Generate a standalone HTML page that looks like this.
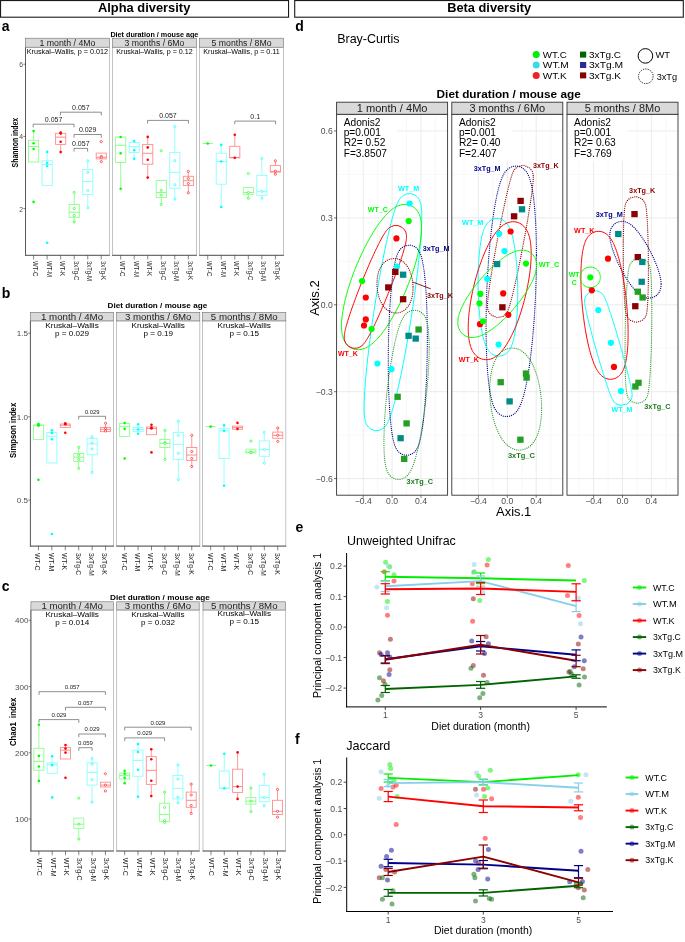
<!DOCTYPE html>
<html><head><meta charset="utf-8"><style>
html,body{margin:0;padding:0;background:#fff;width:685px;height:942px;overflow:hidden}
svg{display:block;font-family:"Liberation Sans", sans-serif;will-change:transform}
</style></head><body>
<svg width="685" height="942" viewBox="0 0 685 942" font-family='"Liberation Sans", sans-serif'><rect x="0.55" y="0.55" width="288" height="16.65" fill="none" stroke="#1a1a1a" stroke-width="1.1"/>
<rect x="294.7" y="0.55" width="388.6" height="16.65" fill="none" stroke="#1a1a1a" stroke-width="1.1"/>
<text x="144.15" y="12" font-size="13.1" text-anchor="middle" font-weight="bold" textLength="92.3" lengthAdjust="spacingAndGlyphs">Alpha diversity</text>
<text x="489.2" y="12" font-size="13.1" text-anchor="middle" font-weight="bold" textLength="84" lengthAdjust="spacingAndGlyphs">Beta diversity</text>
<text x="1.8" y="30.5" font-size="14" font-weight="bold">a</text>
<text x="1.8" y="298" font-size="14" font-weight="bold">b</text>
<text x="1.8" y="590.8" font-size="14" font-weight="bold">c</text>
<text x="295.2" y="30.6" font-size="14" font-weight="bold">d</text>
<text x="295.6" y="532.4" font-size="14" font-weight="bold">e</text>
<text x="295" y="744.1" font-size="14" font-weight="bold">f</text>
<text x="154.4" y="36.8" font-size="7.2" text-anchor="middle" font-weight="bold" textLength="88" lengthAdjust="spacingAndGlyphs">Diet duration / mouse age</text>
<rect x="25.5" y="47.2" width="83.9" height="208.1" fill="#fff" stroke="#b5b5b5" stroke-width="0.8"/>
<line x1="25" y1="255.3" x2="109.8" y2="255.3" stroke="#5a5a5a" stroke-width="1"/>
<line x1="25.5" y1="47.2" x2="25.5" y2="255.8" stroke="#5a5a5a" stroke-width="1"/>
<rect x="25.5" y="38.2" width="83.9" height="9" fill="#d9d9d9" stroke="#707070" stroke-width="0.6"/>
<text x="67.45" y="45.8" font-size="8.5" text-anchor="middle" fill="#1a1a1a" textLength="56.1" lengthAdjust="spacingAndGlyphs">1 month / 4Mo</text>
<text x="67.45" y="53.9" font-size="7" text-anchor="middle" textLength="81.4" lengthAdjust="spacingAndGlyphs">Kruskal–Wallis, p = 0.012</text>
<line x1="33.62" y1="131" x2="33.62" y2="140.3" stroke="#8dff8d" stroke-width="0.9"/>
<rect x="28.54" y="140.3" width="10.15" height="21.7" fill="none" stroke="#8dff8d" stroke-width="0.9"/>
<line x1="28.54" y1="146.5" x2="38.69" y2="146.5" stroke="#7dff7d" stroke-width="0.9"/>
<circle cx="33.62" cy="131" r="1.3" fill="#00ff00"/>
<circle cx="33.62" cy="143.2" r="1.3" fill="#00ff00"/>
<circle cx="33.62" cy="149" r="1.3" fill="#00ff00"/>
<circle cx="33.62" cy="201.9" r="1.3" fill="#00ff00"/>
<line x1="33.62" y1="255.3" x2="33.62" y2="259.5" stroke="#333" stroke-width="0.6"/>
<text x="33.02" y="260.9" font-size="7" fill="#262626" textLength="15.53" lengthAdjust="spacingAndGlyphs" transform="rotate(90 33.02 260.9)">WT-C</text>
<line x1="47.15" y1="151.9" x2="47.15" y2="160.8" stroke="#8dffff" stroke-width="0.9"/>
<rect x="42.08" y="160.8" width="10.15" height="24.6" fill="none" stroke="#8dffff" stroke-width="0.9"/>
<line x1="42.08" y1="164.5" x2="52.23" y2="164.5" stroke="#7dffff" stroke-width="0.9"/>
<circle cx="47.15" cy="151.9" r="1.3" fill="#00ffff"/>
<circle cx="47.15" cy="163" r="1.3" fill="#00ffff"/>
<circle cx="47.15" cy="166" r="1.3" fill="#00ffff"/>
<circle cx="47.15" cy="242.7" r="1.3" fill="#00ffff"/>
<line x1="47.15" y1="255.3" x2="47.15" y2="259.5" stroke="#333" stroke-width="0.6"/>
<text x="46.55" y="260.9" font-size="7" fill="#262626" textLength="16.19" lengthAdjust="spacingAndGlyphs" transform="rotate(90 46.55 260.9)">WT-M</text>
<line x1="60.68" y1="144.4" x2="60.68" y2="152.1" stroke="#ff8d8d" stroke-width="0.9"/>
<rect x="55.61" y="133.3" width="10.15" height="11.1" fill="none" stroke="#ff8d8d" stroke-width="0.9"/>
<line x1="55.61" y1="137.2" x2="65.76" y2="137.2" stroke="#ff7d7d" stroke-width="0.9"/>
<circle cx="60.68" cy="132.6" r="1.3" fill="#ff0000"/>
<circle cx="60.68" cy="133.6" r="1.3" fill="#ff0000"/>
<circle cx="60.68" cy="141.8" r="1.3" fill="#ff0000"/>
<circle cx="60.68" cy="152.1" r="1.3" fill="#ff0000"/>
<line x1="60.68" y1="255.3" x2="60.68" y2="259.5" stroke="#333" stroke-width="0.6"/>
<text x="60.08" y="260.9" font-size="7" fill="#262626" textLength="15.2" lengthAdjust="spacingAndGlyphs" transform="rotate(90 60.08 260.9)">WT-K</text>
<line x1="74.22" y1="192.4" x2="74.22" y2="204.5" stroke="#8dff8d" stroke-width="0.9"/>
<line x1="74.22" y1="217.3" x2="74.22" y2="222" stroke="#8dff8d" stroke-width="0.9"/>
<rect x="69.14" y="204.5" width="10.15" height="12.8" fill="none" stroke="#8dff8d" stroke-width="0.9"/>
<line x1="69.14" y1="212.2" x2="79.29" y2="212.2" stroke="#7dff7d" stroke-width="0.9"/>
<circle cx="74.22" cy="192.4" r="1.1" fill="#fff" stroke="#00ff00" stroke-width="0.6"/>
<circle cx="74.22" cy="208.5" r="1.1" fill="#fff" stroke="#00ff00" stroke-width="0.6"/>
<circle cx="74.22" cy="215.6" r="1.1" fill="#fff" stroke="#00ff00" stroke-width="0.6"/>
<circle cx="74.22" cy="222" r="1.1" fill="#fff" stroke="#00ff00" stroke-width="0.6"/>
<line x1="74.22" y1="255.3" x2="74.22" y2="259.5" stroke="#333" stroke-width="0.6"/>
<text x="73.62" y="260.9" font-size="7" fill="#262626" textLength="19.5" lengthAdjust="spacingAndGlyphs" transform="rotate(90 73.62 260.9)">3xTg-C</text>
<line x1="87.75" y1="160.8" x2="87.75" y2="169.5" stroke="#8dffff" stroke-width="0.9"/>
<line x1="87.75" y1="194.5" x2="87.75" y2="207.7" stroke="#8dffff" stroke-width="0.9"/>
<rect x="82.67" y="169.5" width="10.15" height="25" fill="none" stroke="#8dffff" stroke-width="0.9"/>
<line x1="82.67" y1="181.4" x2="92.82" y2="181.4" stroke="#7dffff" stroke-width="0.9"/>
<circle cx="87.75" cy="160.8" r="1.1" fill="#fff" stroke="#00ffff" stroke-width="0.6"/>
<circle cx="87.75" cy="172.4" r="1.1" fill="#fff" stroke="#00ffff" stroke-width="0.6"/>
<circle cx="87.75" cy="190.5" r="1.1" fill="#fff" stroke="#00ffff" stroke-width="0.6"/>
<circle cx="87.75" cy="207.7" r="1.1" fill="#fff" stroke="#00ffff" stroke-width="0.6"/>
<line x1="87.75" y1="255.3" x2="87.75" y2="259.5" stroke="#333" stroke-width="0.6"/>
<text x="87.15" y="260.9" font-size="7" fill="#262626" textLength="20.16" lengthAdjust="spacingAndGlyphs" transform="rotate(90 87.15 260.9)">3xTg-M</text>
<rect x="96.21" y="153.1" width="10.15" height="5.8" fill="none" stroke="#ff8d8d" stroke-width="0.9"/>
<line x1="96.21" y1="157.3" x2="106.36" y2="157.3" stroke="#ff7d7d" stroke-width="0.9"/>
<circle cx="101.28" cy="141.6" r="1.1" fill="#fff" stroke="#ff0000" stroke-width="0.6"/>
<circle cx="101.28" cy="156.5" r="1.1" fill="#fff" stroke="#ff0000" stroke-width="0.6"/>
<circle cx="101.28" cy="157.6" r="1.1" fill="#fff" stroke="#ff0000" stroke-width="0.6"/>
<circle cx="101.28" cy="161.6" r="1.1" fill="#fff" stroke="#ff0000" stroke-width="0.6"/>
<line x1="101.28" y1="255.3" x2="101.28" y2="259.5" stroke="#333" stroke-width="0.6"/>
<text x="100.68" y="260.9" font-size="7" fill="#262626" textLength="19.18" lengthAdjust="spacingAndGlyphs" transform="rotate(90 100.68 260.9)">3xTg-K</text>
<path d="M33.2 127.4V124.2H74V127.4" stroke="#333" stroke-width="0.55" fill="none"/>
<text x="53.6" y="121.6" font-size="7" text-anchor="middle" fill="#222">0.057</text>
<path d="M60.4 115.4V112.2H101.3V115.4" stroke="#333" stroke-width="0.55" fill="none"/>
<text x="80.85" y="109.6" font-size="7" text-anchor="middle" fill="#222">0.057</text>
<path d="M74 137.7V134.5H101.3V137.7" stroke="#333" stroke-width="0.55" fill="none"/>
<text x="87.65" y="131.9" font-size="7" text-anchor="middle" fill="#222">0.029</text>
<path d="M74 151.6V148.4H87.6V151.6" stroke="#333" stroke-width="0.55" fill="none"/>
<text x="80.8" y="145.8" font-size="7" text-anchor="middle" fill="#222">0.057</text>
<rect x="112.55" y="47.2" width="83.9" height="208.1" fill="#fff" stroke="#b5b5b5" stroke-width="0.8"/>
<line x1="112.05" y1="255.3" x2="196.85" y2="255.3" stroke="#5a5a5a" stroke-width="1"/>
<rect x="112.55" y="38.2" width="83.9" height="9" fill="#d9d9d9" stroke="#707070" stroke-width="0.6"/>
<text x="154.5" y="45.8" font-size="8.5" text-anchor="middle" fill="#1a1a1a" textLength="59.9" lengthAdjust="spacingAndGlyphs">3 months / 6Mo</text>
<text x="154.5" y="53.9" font-size="7" text-anchor="middle" textLength="76.5" lengthAdjust="spacingAndGlyphs">Kruskal–Wallis, p = 0.12</text>
<line x1="120.67" y1="162.5" x2="120.67" y2="188.7" stroke="#8dff8d" stroke-width="0.9"/>
<rect x="115.59" y="137" width="10.15" height="25.5" fill="none" stroke="#8dff8d" stroke-width="0.9"/>
<line x1="115.59" y1="145.3" x2="125.74" y2="145.3" stroke="#7dff7d" stroke-width="0.9"/>
<circle cx="120.67" cy="137" r="1.3" fill="#00ff00"/>
<circle cx="120.67" cy="153.2" r="1.3" fill="#00ff00"/>
<circle cx="120.67" cy="188.7" r="1.3" fill="#00ff00"/>
<line x1="120.67" y1="255.3" x2="120.67" y2="259.5" stroke="#333" stroke-width="0.6"/>
<text x="120.07" y="260.9" font-size="7" fill="#262626" textLength="15.53" lengthAdjust="spacingAndGlyphs" transform="rotate(90 120.07 260.9)">WT-C</text>
<line x1="134.2" y1="141.1" x2="134.2" y2="142.4" stroke="#8dffff" stroke-width="0.9"/>
<line x1="134.2" y1="152.5" x2="134.2" y2="158.7" stroke="#8dffff" stroke-width="0.9"/>
<rect x="129.13" y="142.4" width="10.15" height="10.1" fill="none" stroke="#8dffff" stroke-width="0.9"/>
<line x1="129.13" y1="146.5" x2="139.28" y2="146.5" stroke="#7dffff" stroke-width="0.9"/>
<circle cx="134.2" cy="141.1" r="1.3" fill="#00ffff"/>
<circle cx="134.2" cy="150.3" r="1.3" fill="#00ffff"/>
<circle cx="134.2" cy="158.7" r="1.3" fill="#00ffff"/>
<line x1="134.2" y1="255.3" x2="134.2" y2="259.5" stroke="#333" stroke-width="0.6"/>
<text x="133.6" y="260.9" font-size="7" fill="#262626" textLength="16.19" lengthAdjust="spacingAndGlyphs" transform="rotate(90 133.6 260.9)">WT-M</text>
<line x1="147.73" y1="136.9" x2="147.73" y2="144.4" stroke="#ff8d8d" stroke-width="0.9"/>
<line x1="147.73" y1="164.2" x2="147.73" y2="177.6" stroke="#ff8d8d" stroke-width="0.9"/>
<rect x="142.66" y="144.4" width="10.15" height="19.8" fill="none" stroke="#ff8d8d" stroke-width="0.9"/>
<line x1="142.66" y1="153.3" x2="152.81" y2="153.3" stroke="#ff7d7d" stroke-width="0.9"/>
<circle cx="147.73" cy="136.9" r="1.3" fill="#ff0000"/>
<circle cx="147.73" cy="147.4" r="1.3" fill="#ff0000"/>
<circle cx="147.73" cy="159.8" r="1.3" fill="#ff0000"/>
<circle cx="147.73" cy="177.6" r="1.3" fill="#ff0000"/>
<line x1="147.73" y1="255.3" x2="147.73" y2="259.5" stroke="#333" stroke-width="0.6"/>
<text x="147.13" y="260.9" font-size="7" fill="#262626" textLength="15.2" lengthAdjust="spacingAndGlyphs" transform="rotate(90 147.13 260.9)">WT-K</text>
<line x1="161.27" y1="197.6" x2="161.27" y2="204.5" stroke="#8dff8d" stroke-width="0.9"/>
<rect x="156.19" y="180.5" width="10.15" height="17.1" fill="none" stroke="#8dff8d" stroke-width="0.9"/>
<line x1="156.19" y1="192.5" x2="166.34" y2="192.5" stroke="#7dff7d" stroke-width="0.9"/>
<circle cx="161.27" cy="150.7" r="1.1" fill="#fff" stroke="#00ff00" stroke-width="0.6"/>
<circle cx="161.27" cy="190.4" r="1.1" fill="#fff" stroke="#00ff00" stroke-width="0.6"/>
<circle cx="161.27" cy="195.2" r="1.1" fill="#fff" stroke="#00ff00" stroke-width="0.6"/>
<circle cx="161.27" cy="204.5" r="1.1" fill="#fff" stroke="#00ff00" stroke-width="0.6"/>
<line x1="161.27" y1="255.3" x2="161.27" y2="259.5" stroke="#333" stroke-width="0.6"/>
<text x="160.67" y="260.9" font-size="7" fill="#262626" textLength="19.5" lengthAdjust="spacingAndGlyphs" transform="rotate(90 160.67 260.9)">3xTg-C</text>
<line x1="174.8" y1="126.5" x2="174.8" y2="152.5" stroke="#8dffff" stroke-width="0.9"/>
<line x1="174.8" y1="188.3" x2="174.8" y2="199.1" stroke="#8dffff" stroke-width="0.9"/>
<rect x="169.72" y="152.5" width="10.15" height="35.8" fill="none" stroke="#8dffff" stroke-width="0.9"/>
<line x1="169.72" y1="172.3" x2="179.87" y2="172.3" stroke="#7dffff" stroke-width="0.9"/>
<circle cx="174.8" cy="126.5" r="1.1" fill="#fff" stroke="#00ffff" stroke-width="0.6"/>
<circle cx="174.8" cy="160.7" r="1.1" fill="#fff" stroke="#00ffff" stroke-width="0.6"/>
<circle cx="174.8" cy="184.7" r="1.1" fill="#fff" stroke="#00ffff" stroke-width="0.6"/>
<circle cx="174.8" cy="199.1" r="1.1" fill="#fff" stroke="#00ffff" stroke-width="0.6"/>
<line x1="174.8" y1="255.3" x2="174.8" y2="259.5" stroke="#333" stroke-width="0.6"/>
<text x="174.2" y="260.9" font-size="7" fill="#262626" textLength="20.16" lengthAdjust="spacingAndGlyphs" transform="rotate(90 174.2 260.9)">3xTg-M</text>
<line x1="188.33" y1="171.4" x2="188.33" y2="176.3" stroke="#ff8d8d" stroke-width="0.9"/>
<line x1="188.33" y1="185.6" x2="188.33" y2="192.8" stroke="#ff8d8d" stroke-width="0.9"/>
<rect x="183.26" y="176.3" width="10.15" height="9.3" fill="none" stroke="#ff8d8d" stroke-width="0.9"/>
<line x1="183.26" y1="180.7" x2="193.41" y2="180.7" stroke="#ff7d7d" stroke-width="0.9"/>
<circle cx="188.33" cy="171.4" r="1.1" fill="#fff" stroke="#ff0000" stroke-width="0.6"/>
<circle cx="188.33" cy="178.5" r="1.1" fill="#fff" stroke="#ff0000" stroke-width="0.6"/>
<circle cx="188.33" cy="183.5" r="1.1" fill="#fff" stroke="#ff0000" stroke-width="0.6"/>
<circle cx="188.33" cy="192.8" r="1.1" fill="#fff" stroke="#ff0000" stroke-width="0.6"/>
<line x1="188.33" y1="255.3" x2="188.33" y2="259.5" stroke="#333" stroke-width="0.6"/>
<text x="187.73" y="260.9" font-size="7" fill="#262626" textLength="19.18" lengthAdjust="spacingAndGlyphs" transform="rotate(90 187.73 260.9)">3xTg-K</text>
<path d="M147.6 123.6V120.4H188.4V123.6" stroke="#333" stroke-width="0.55" fill="none"/>
<text x="168" y="117.8" font-size="7" text-anchor="middle" fill="#222">0.057</text>
<rect x="199.6" y="47.2" width="83.9" height="208.1" fill="#fff" stroke="#b5b5b5" stroke-width="0.8"/>
<line x1="199.1" y1="255.3" x2="283.9" y2="255.3" stroke="#5a5a5a" stroke-width="1"/>
<rect x="199.6" y="38.2" width="83.9" height="9" fill="#d9d9d9" stroke="#707070" stroke-width="0.6"/>
<text x="241.55" y="45.8" font-size="8.5" text-anchor="middle" fill="#1a1a1a" textLength="59.9" lengthAdjust="spacingAndGlyphs">5 months / 8Mo</text>
<text x="241.55" y="53.9" font-size="7" text-anchor="middle" textLength="76.5" lengthAdjust="spacingAndGlyphs">Kruskal–Wallis, p = 0.11</text>
<line x1="202.64" y1="143.5" x2="212.79" y2="143.5" stroke="#7dff7d" stroke-width="0.9"/>
<circle cx="207.72" cy="143.5" r="1.3" fill="#00ff00"/>
<line x1="207.72" y1="255.3" x2="207.72" y2="259.5" stroke="#333" stroke-width="0.6"/>
<text x="207.12" y="260.9" font-size="7" fill="#262626" textLength="15.53" lengthAdjust="spacingAndGlyphs" transform="rotate(90 207.12 260.9)">WT-C</text>
<line x1="221.25" y1="144.9" x2="221.25" y2="153.2" stroke="#8dffff" stroke-width="0.9"/>
<line x1="221.25" y1="184.2" x2="221.25" y2="207" stroke="#8dffff" stroke-width="0.9"/>
<rect x="216.18" y="153.2" width="10.15" height="31" fill="none" stroke="#8dffff" stroke-width="0.9"/>
<line x1="216.18" y1="161.5" x2="226.33" y2="161.5" stroke="#7dffff" stroke-width="0.9"/>
<circle cx="221.25" cy="144.9" r="1.3" fill="#00ffff"/>
<circle cx="221.25" cy="161.5" r="1.3" fill="#00ffff"/>
<circle cx="221.25" cy="207" r="1.3" fill="#00ffff"/>
<line x1="221.25" y1="255.3" x2="221.25" y2="259.5" stroke="#333" stroke-width="0.6"/>
<text x="220.65" y="260.9" font-size="7" fill="#262626" textLength="16.19" lengthAdjust="spacingAndGlyphs" transform="rotate(90 220.65 260.9)">WT-M</text>
<line x1="234.78" y1="134.8" x2="234.78" y2="146.3" stroke="#ff8d8d" stroke-width="0.9"/>
<rect x="229.71" y="146.3" width="10.15" height="11.4" fill="none" stroke="#ff8d8d" stroke-width="0.9"/>
<line x1="229.71" y1="157.7" x2="239.86" y2="157.7" stroke="#ff7d7d" stroke-width="0.9"/>
<circle cx="234.78" cy="134.8" r="1.3" fill="#ff0000"/>
<circle cx="234.78" cy="157.7" r="1.3" fill="#ff0000"/>
<line x1="234.78" y1="255.3" x2="234.78" y2="259.5" stroke="#333" stroke-width="0.6"/>
<text x="234.18" y="260.9" font-size="7" fill="#262626" textLength="15.2" lengthAdjust="spacingAndGlyphs" transform="rotate(90 234.18 260.9)">WT-K</text>
<line x1="248.32" y1="194.3" x2="248.32" y2="198.3" stroke="#8dff8d" stroke-width="0.9"/>
<rect x="243.24" y="187.4" width="10.15" height="6.9" fill="none" stroke="#8dff8d" stroke-width="0.9"/>
<line x1="243.24" y1="192.5" x2="253.39" y2="192.5" stroke="#7dff7d" stroke-width="0.9"/>
<circle cx="248.32" cy="173.5" r="1.1" fill="#fff" stroke="#00ff00" stroke-width="0.6"/>
<circle cx="248.32" cy="192.5" r="1.1" fill="#fff" stroke="#00ff00" stroke-width="0.6"/>
<circle cx="248.32" cy="198.3" r="1.1" fill="#fff" stroke="#00ff00" stroke-width="0.6"/>
<line x1="248.32" y1="255.3" x2="248.32" y2="259.5" stroke="#333" stroke-width="0.6"/>
<text x="247.72" y="260.9" font-size="7" fill="#262626" textLength="19.5" lengthAdjust="spacingAndGlyphs" transform="rotate(90 247.72 260.9)">3xTg-C</text>
<line x1="261.85" y1="158.4" x2="261.85" y2="175.3" stroke="#8dffff" stroke-width="0.9"/>
<line x1="261.85" y1="195.3" x2="261.85" y2="198.3" stroke="#8dffff" stroke-width="0.9"/>
<rect x="256.77" y="175.3" width="10.15" height="20" fill="none" stroke="#8dffff" stroke-width="0.9"/>
<line x1="256.77" y1="191.4" x2="266.92" y2="191.4" stroke="#7dffff" stroke-width="0.9"/>
<circle cx="261.85" cy="158.4" r="1.1" fill="#fff" stroke="#00ffff" stroke-width="0.6"/>
<circle cx="261.85" cy="191.4" r="1.1" fill="#fff" stroke="#00ffff" stroke-width="0.6"/>
<circle cx="261.85" cy="198.3" r="1.1" fill="#fff" stroke="#00ffff" stroke-width="0.6"/>
<line x1="261.85" y1="255.3" x2="261.85" y2="259.5" stroke="#333" stroke-width="0.6"/>
<text x="261.25" y="260.9" font-size="7" fill="#262626" textLength="20.16" lengthAdjust="spacingAndGlyphs" transform="rotate(90 261.25 260.9)">3xTg-M</text>
<line x1="275.38" y1="160.8" x2="275.38" y2="165.6" stroke="#ff8d8d" stroke-width="0.9"/>
<line x1="275.38" y1="172.1" x2="275.38" y2="174.6" stroke="#ff8d8d" stroke-width="0.9"/>
<rect x="270.31" y="165.6" width="10.15" height="6.5" fill="none" stroke="#ff8d8d" stroke-width="0.9"/>
<line x1="270.31" y1="171.4" x2="280.46" y2="171.4" stroke="#ff7d7d" stroke-width="0.9"/>
<circle cx="275.38" cy="160.8" r="1.1" fill="#fff" stroke="#ff0000" stroke-width="0.6"/>
<circle cx="275.38" cy="171.2" r="1.1" fill="#fff" stroke="#ff0000" stroke-width="0.6"/>
<circle cx="275.38" cy="174.2" r="1.1" fill="#fff" stroke="#ff0000" stroke-width="0.6"/>
<line x1="275.38" y1="255.3" x2="275.38" y2="259.5" stroke="#333" stroke-width="0.6"/>
<text x="274.78" y="260.9" font-size="7" fill="#262626" textLength="19.18" lengthAdjust="spacingAndGlyphs" transform="rotate(90 274.78 260.9)">3xTg-K</text>
<path d="M234.8 124.3V121.1H275.6V124.3" stroke="#333" stroke-width="0.55" fill="none"/>
<text x="255.2" y="118.5" font-size="7" text-anchor="middle" fill="#222">0.1</text>
<line x1="23.3" y1="208.6" x2="25.5" y2="208.6" stroke="#333" stroke-width="0.6"/>
<text x="23.1" y="211.5" font-size="8.1" text-anchor="end" fill="#4d4d4d" textLength="3.8" lengthAdjust="spacingAndGlyphs">2</text>
<line x1="23.3" y1="136.4" x2="25.5" y2="136.4" stroke="#333" stroke-width="0.6"/>
<text x="23.1" y="139.3" font-size="8.1" text-anchor="end" fill="#4d4d4d" textLength="3.8" lengthAdjust="spacingAndGlyphs">4</text>
<line x1="23.3" y1="64.2" x2="25.5" y2="64.2" stroke="#333" stroke-width="0.6"/>
<text x="23.1" y="67.1" font-size="8.1" text-anchor="end" fill="#4d4d4d" textLength="3.8" lengthAdjust="spacingAndGlyphs">6</text>
<text x="18.2" y="142.6" font-size="8.8" text-anchor="middle" font-weight="bold" textLength="49.6" lengthAdjust="spacingAndGlyphs" transform="rotate(-90 18.2 142.6)">Shannon index</text>
<text x="157.4" y="308.4" font-size="7.6" text-anchor="middle" font-weight="bold" textLength="99.6" lengthAdjust="spacingAndGlyphs">Diet duration / mouse age</text>
<rect x="30.4" y="320.9" width="83.2" height="225.2" fill="#fff" stroke="#b5b5b5" stroke-width="0.8"/>
<line x1="29.9" y1="546.1" x2="114" y2="546.1" stroke="#5a5a5a" stroke-width="1"/>
<line x1="30.4" y1="320.9" x2="30.4" y2="546.6" stroke="#5a5a5a" stroke-width="1"/>
<rect x="30.4" y="312.3" width="83.2" height="8.6" fill="#d9d9d9" stroke="#707070" stroke-width="0.6"/>
<text x="72" y="319.8" font-size="8.9" text-anchor="middle" fill="#1a1a1a" textLength="62.1" lengthAdjust="spacingAndGlyphs">1 month / 4Mo</text>
<text x="72" y="327.9" font-size="7" text-anchor="middle" textLength="53.5" lengthAdjust="spacingAndGlyphs">Kruskal–Wallis</text>
<text x="72" y="336.1" font-size="7" text-anchor="middle" textLength="34" lengthAdjust="spacingAndGlyphs">p = 0.029</text>
<line x1="38.45" y1="424" x2="38.45" y2="425.2" stroke="#8dff8d" stroke-width="0.9"/>
<rect x="33.42" y="425.2" width="10.06" height="14.2" fill="none" stroke="#8dff8d" stroke-width="0.9"/>
<line x1="33.42" y1="425.2" x2="43.48" y2="425.2" stroke="#7dff7d" stroke-width="0.9"/>
<circle cx="38.45" cy="424" r="1.3" fill="#00ff00"/>
<circle cx="38.45" cy="424.8" r="1.3" fill="#00ff00"/>
<circle cx="38.45" cy="425.7" r="1.3" fill="#00ff00"/>
<circle cx="38.45" cy="479.7" r="1.3" fill="#00ff00"/>
<line x1="38.45" y1="546.1" x2="38.45" y2="550.3" stroke="#333" stroke-width="0.6"/>
<text x="35.35" y="552.9" font-size="7.1" fill="#262626" textLength="17.67" lengthAdjust="spacingAndGlyphs" transform="rotate(90 35.35 552.9)">WT-C</text>
<line x1="51.87" y1="430.3" x2="51.87" y2="432.5" stroke="#8dffff" stroke-width="0.9"/>
<rect x="46.84" y="432.5" width="10.06" height="30.5" fill="none" stroke="#8dffff" stroke-width="0.9"/>
<line x1="46.84" y1="436.3" x2="56.9" y2="436.3" stroke="#7dffff" stroke-width="0.9"/>
<circle cx="51.87" cy="430.3" r="1.3" fill="#00ffff"/>
<circle cx="51.87" cy="433.1" r="1.3" fill="#00ffff"/>
<circle cx="51.87" cy="439.2" r="1.3" fill="#00ffff"/>
<circle cx="51.87" cy="534" r="1.3" fill="#00ffff"/>
<line x1="51.87" y1="546.1" x2="51.87" y2="550.3" stroke="#333" stroke-width="0.6"/>
<text x="48.77" y="552.9" font-size="7.1" fill="#262626" textLength="18.42" lengthAdjust="spacingAndGlyphs" transform="rotate(90 48.77 552.9)">WT-M</text>
<line x1="65.29" y1="423.2" x2="65.29" y2="424" stroke="#ff8d8d" stroke-width="0.9"/>
<rect x="60.26" y="424" width="10.06" height="3.4" fill="none" stroke="#ff8d8d" stroke-width="0.9"/>
<line x1="60.26" y1="425.2" x2="70.32" y2="425.2" stroke="#ff7d7d" stroke-width="0.9"/>
<circle cx="65.29" cy="423.2" r="1.3" fill="#ff0000"/>
<circle cx="65.29" cy="424.2" r="1.3" fill="#ff0000"/>
<circle cx="65.29" cy="432.8" r="1.3" fill="#ff0000"/>
<line x1="65.29" y1="546.1" x2="65.29" y2="550.3" stroke="#333" stroke-width="0.6"/>
<text x="62.19" y="552.9" font-size="7.1" fill="#262626" textLength="17.3" lengthAdjust="spacingAndGlyphs" transform="rotate(90 62.19 552.9)">WT-K</text>
<line x1="78.71" y1="447.3" x2="78.71" y2="453.4" stroke="#8dff8d" stroke-width="0.9"/>
<line x1="78.71" y1="461.3" x2="78.71" y2="468.4" stroke="#8dff8d" stroke-width="0.9"/>
<rect x="73.68" y="453.4" width="10.06" height="7.9" fill="none" stroke="#8dff8d" stroke-width="0.9"/>
<line x1="73.68" y1="457.2" x2="83.74" y2="457.2" stroke="#7dff7d" stroke-width="0.9"/>
<circle cx="78.71" cy="447.3" r="1.1" fill="#fff" stroke="#00ff00" stroke-width="0.6"/>
<circle cx="78.71" cy="455.3" r="1.1" fill="#fff" stroke="#00ff00" stroke-width="0.6"/>
<circle cx="78.71" cy="459.5" r="1.1" fill="#fff" stroke="#00ff00" stroke-width="0.6"/>
<circle cx="78.71" cy="468.4" r="1.1" fill="#fff" stroke="#00ff00" stroke-width="0.6"/>
<line x1="78.71" y1="546.1" x2="78.71" y2="550.3" stroke="#333" stroke-width="0.6"/>
<text x="75.61" y="552.9" font-size="7.1" fill="#262626" textLength="22.19" lengthAdjust="spacingAndGlyphs" transform="rotate(90 75.61 552.9)">3xTg-C</text>
<line x1="92.13" y1="436.7" x2="92.13" y2="438.4" stroke="#8dffff" stroke-width="0.9"/>
<line x1="92.13" y1="454.7" x2="92.13" y2="472.5" stroke="#8dffff" stroke-width="0.9"/>
<rect x="87.1" y="438.4" width="10.06" height="16.3" fill="none" stroke="#8dffff" stroke-width="0.9"/>
<line x1="87.1" y1="443.9" x2="97.16" y2="443.9" stroke="#7dffff" stroke-width="0.9"/>
<circle cx="92.13" cy="436.7" r="1.1" fill="#fff" stroke="#00ffff" stroke-width="0.6"/>
<circle cx="92.13" cy="443" r="1.1" fill="#fff" stroke="#00ffff" stroke-width="0.6"/>
<circle cx="92.13" cy="449" r="1.1" fill="#fff" stroke="#00ffff" stroke-width="0.6"/>
<circle cx="92.13" cy="472.5" r="1.1" fill="#fff" stroke="#00ffff" stroke-width="0.6"/>
<line x1="92.13" y1="546.1" x2="92.13" y2="550.3" stroke="#333" stroke-width="0.6"/>
<text x="89.03" y="552.9" font-size="7.1" fill="#262626" textLength="22.94" lengthAdjust="spacingAndGlyphs" transform="rotate(90 89.03 552.9)">3xTg-M</text>
<line x1="105.55" y1="423.2" x2="105.55" y2="427.4" stroke="#ff8d8d" stroke-width="0.9"/>
<rect x="100.52" y="427.4" width="10.06" height="4.2" fill="none" stroke="#ff8d8d" stroke-width="0.9"/>
<line x1="100.52" y1="429.3" x2="110.58" y2="429.3" stroke="#ff7d7d" stroke-width="0.9"/>
<circle cx="105.55" cy="423.2" r="1.1" fill="#fff" stroke="#ff0000" stroke-width="0.6"/>
<circle cx="105.55" cy="428.5" r="1.1" fill="#fff" stroke="#ff0000" stroke-width="0.6"/>
<circle cx="105.55" cy="431" r="1.1" fill="#fff" stroke="#ff0000" stroke-width="0.6"/>
<line x1="105.55" y1="546.1" x2="105.55" y2="550.3" stroke="#333" stroke-width="0.6"/>
<text x="102.45" y="552.9" font-size="7.1" fill="#262626" textLength="21.82" lengthAdjust="spacingAndGlyphs" transform="rotate(90 102.45 552.9)">3xTg-K</text>
<path d="M78.7 419.5V416.3H105.6V419.5" stroke="#333" stroke-width="0.55" fill="none"/>
<text x="92.15" y="413.7" font-size="5.8" text-anchor="middle" fill="#222">0.029</text>
<rect x="116.6" y="320.9" width="83.2" height="225.2" fill="#fff" stroke="#b5b5b5" stroke-width="0.8"/>
<line x1="116.1" y1="546.1" x2="200.2" y2="546.1" stroke="#5a5a5a" stroke-width="1"/>
<rect x="116.6" y="312.3" width="83.2" height="8.6" fill="#d9d9d9" stroke="#707070" stroke-width="0.6"/>
<text x="158.2" y="319.8" font-size="8.9" text-anchor="middle" fill="#1a1a1a" textLength="66.6" lengthAdjust="spacingAndGlyphs">3 months / 6Mo</text>
<text x="158.2" y="327.9" font-size="7" text-anchor="middle" textLength="53.5" lengthAdjust="spacingAndGlyphs">Kruskal–Wallis</text>
<text x="158.2" y="336.1" font-size="7" text-anchor="middle" textLength="29.6" lengthAdjust="spacingAndGlyphs">p = 0.19</text>
<rect x="119.62" y="423.4" width="10.06" height="13" fill="none" stroke="#8dff8d" stroke-width="0.9"/>
<line x1="119.62" y1="426.3" x2="129.68" y2="426.3" stroke="#7dff7d" stroke-width="0.9"/>
<circle cx="124.65" cy="423.1" r="1.3" fill="#00ff00"/>
<circle cx="124.65" cy="428.9" r="1.3" fill="#00ff00"/>
<circle cx="124.65" cy="458.5" r="1.3" fill="#00ff00"/>
<line x1="124.65" y1="546.1" x2="124.65" y2="550.3" stroke="#333" stroke-width="0.6"/>
<text x="121.55" y="552.9" font-size="7.1" fill="#262626" textLength="17.67" lengthAdjust="spacingAndGlyphs" transform="rotate(90 121.55 552.9)">WT-C</text>
<line x1="138.07" y1="424.2" x2="138.07" y2="427.4" stroke="#8dffff" stroke-width="0.9"/>
<line x1="138.07" y1="431.5" x2="138.07" y2="433.8" stroke="#8dffff" stroke-width="0.9"/>
<rect x="133.04" y="427.4" width="10.06" height="4.1" fill="none" stroke="#8dffff" stroke-width="0.9"/>
<line x1="133.04" y1="429.5" x2="143.1" y2="429.5" stroke="#7dffff" stroke-width="0.9"/>
<circle cx="138.07" cy="424.2" r="1.3" fill="#00ffff"/>
<circle cx="138.07" cy="429.5" r="1.3" fill="#00ffff"/>
<circle cx="138.07" cy="433.8" r="1.3" fill="#00ffff"/>
<line x1="138.07" y1="546.1" x2="138.07" y2="550.3" stroke="#333" stroke-width="0.6"/>
<text x="134.97" y="552.9" font-size="7.1" fill="#262626" textLength="18.42" lengthAdjust="spacingAndGlyphs" transform="rotate(90 134.97 552.9)">WT-M</text>
<line x1="151.49" y1="424.7" x2="151.49" y2="427" stroke="#ff8d8d" stroke-width="0.9"/>
<rect x="146.46" y="427" width="10.06" height="7.7" fill="none" stroke="#ff8d8d" stroke-width="0.9"/>
<line x1="146.46" y1="428.5" x2="156.52" y2="428.5" stroke="#ff7d7d" stroke-width="0.9"/>
<circle cx="151.49" cy="424.7" r="1.3" fill="#ff0000"/>
<circle cx="151.49" cy="427.6" r="1.3" fill="#ff0000"/>
<circle cx="151.49" cy="428.5" r="1.3" fill="#ff0000"/>
<circle cx="151.49" cy="452.4" r="1.3" fill="#ff0000"/>
<line x1="151.49" y1="546.1" x2="151.49" y2="550.3" stroke="#333" stroke-width="0.6"/>
<text x="148.39" y="552.9" font-size="7.1" fill="#262626" textLength="17.3" lengthAdjust="spacingAndGlyphs" transform="rotate(90 148.39 552.9)">WT-K</text>
<line x1="164.91" y1="430.4" x2="164.91" y2="439.4" stroke="#8dff8d" stroke-width="0.9"/>
<line x1="164.91" y1="447.5" x2="164.91" y2="459.4" stroke="#8dff8d" stroke-width="0.9"/>
<rect x="159.88" y="439.4" width="10.06" height="8.1" fill="none" stroke="#8dff8d" stroke-width="0.9"/>
<line x1="159.88" y1="443.3" x2="169.94" y2="443.3" stroke="#7dff7d" stroke-width="0.9"/>
<circle cx="164.91" cy="430.4" r="1.1" fill="#fff" stroke="#00ff00" stroke-width="0.6"/>
<circle cx="164.91" cy="442.5" r="1.1" fill="#fff" stroke="#00ff00" stroke-width="0.6"/>
<circle cx="164.91" cy="443.5" r="1.1" fill="#fff" stroke="#00ff00" stroke-width="0.6"/>
<circle cx="164.91" cy="459.4" r="1.1" fill="#fff" stroke="#00ff00" stroke-width="0.6"/>
<line x1="164.91" y1="546.1" x2="164.91" y2="550.3" stroke="#333" stroke-width="0.6"/>
<text x="161.81" y="552.9" font-size="7.1" fill="#262626" textLength="22.19" lengthAdjust="spacingAndGlyphs" transform="rotate(90 161.81 552.9)">3xTg-C</text>
<line x1="178.33" y1="421.2" x2="178.33" y2="432.4" stroke="#8dffff" stroke-width="0.9"/>
<line x1="178.33" y1="459.4" x2="178.33" y2="479.6" stroke="#8dffff" stroke-width="0.9"/>
<rect x="173.3" y="432.4" width="10.06" height="27" fill="none" stroke="#8dffff" stroke-width="0.9"/>
<line x1="173.3" y1="444.3" x2="183.36" y2="444.3" stroke="#7dffff" stroke-width="0.9"/>
<circle cx="178.33" cy="421.2" r="1.1" fill="#fff" stroke="#00ffff" stroke-width="0.6"/>
<circle cx="178.33" cy="435.5" r="1.1" fill="#fff" stroke="#00ffff" stroke-width="0.6"/>
<circle cx="178.33" cy="453.3" r="1.1" fill="#fff" stroke="#00ffff" stroke-width="0.6"/>
<circle cx="178.33" cy="479.6" r="1.1" fill="#fff" stroke="#00ffff" stroke-width="0.6"/>
<line x1="178.33" y1="546.1" x2="178.33" y2="550.3" stroke="#333" stroke-width="0.6"/>
<text x="175.23" y="552.9" font-size="7.1" fill="#262626" textLength="22.94" lengthAdjust="spacingAndGlyphs" transform="rotate(90 175.23 552.9)">3xTg-M</text>
<line x1="191.75" y1="435.3" x2="191.75" y2="447.5" stroke="#ff8d8d" stroke-width="0.9"/>
<line x1="191.75" y1="460.4" x2="191.75" y2="466.5" stroke="#ff8d8d" stroke-width="0.9"/>
<rect x="186.72" y="447.5" width="10.06" height="12.9" fill="none" stroke="#ff8d8d" stroke-width="0.9"/>
<line x1="186.72" y1="455" x2="196.78" y2="455" stroke="#ff7d7d" stroke-width="0.9"/>
<circle cx="191.75" cy="435.3" r="1.1" fill="#fff" stroke="#ff0000" stroke-width="0.6"/>
<circle cx="191.75" cy="451.5" r="1.1" fill="#fff" stroke="#ff0000" stroke-width="0.6"/>
<circle cx="191.75" cy="458.5" r="1.1" fill="#fff" stroke="#ff0000" stroke-width="0.6"/>
<circle cx="191.75" cy="466.5" r="1.1" fill="#fff" stroke="#ff0000" stroke-width="0.6"/>
<line x1="191.75" y1="546.1" x2="191.75" y2="550.3" stroke="#333" stroke-width="0.6"/>
<text x="188.65" y="552.9" font-size="7.1" fill="#262626" textLength="21.82" lengthAdjust="spacingAndGlyphs" transform="rotate(90 188.65 552.9)">3xTg-K</text>
<rect x="202.6" y="320.9" width="83.2" height="225.2" fill="#fff" stroke="#b5b5b5" stroke-width="0.8"/>
<line x1="202.1" y1="546.1" x2="286.2" y2="546.1" stroke="#5a5a5a" stroke-width="1"/>
<rect x="202.6" y="312.3" width="83.2" height="8.6" fill="#d9d9d9" stroke="#707070" stroke-width="0.6"/>
<text x="244.2" y="319.8" font-size="8.9" text-anchor="middle" fill="#1a1a1a" textLength="66.8" lengthAdjust="spacingAndGlyphs">5 months / 8Mo</text>
<text x="244.2" y="327.9" font-size="7" text-anchor="middle" textLength="53.5" lengthAdjust="spacingAndGlyphs">Kruskal–Wallis</text>
<text x="244.2" y="336.1" font-size="7" text-anchor="middle" textLength="29.6" lengthAdjust="spacingAndGlyphs">p = 0.15</text>
<line x1="205.62" y1="426.6" x2="215.68" y2="426.6" stroke="#7dff7d" stroke-width="0.9"/>
<circle cx="210.65" cy="426.6" r="1.3" fill="#00ff00"/>
<line x1="210.65" y1="546.1" x2="210.65" y2="550.3" stroke="#333" stroke-width="0.6"/>
<text x="207.55" y="552.9" font-size="7.1" fill="#262626" textLength="17.67" lengthAdjust="spacingAndGlyphs" transform="rotate(90 207.55 552.9)">WT-C</text>
<line x1="224.07" y1="425.4" x2="224.07" y2="428.3" stroke="#8dffff" stroke-width="0.9"/>
<line x1="224.07" y1="458.5" x2="224.07" y2="485.8" stroke="#8dffff" stroke-width="0.9"/>
<rect x="219.04" y="428.3" width="10.06" height="30.2" fill="none" stroke="#8dffff" stroke-width="0.9"/>
<line x1="219.04" y1="430.8" x2="229.1" y2="430.8" stroke="#7dffff" stroke-width="0.9"/>
<circle cx="224.07" cy="425.4" r="1.3" fill="#00ffff"/>
<circle cx="224.07" cy="430.8" r="1.3" fill="#00ffff"/>
<circle cx="224.07" cy="485.8" r="1.3" fill="#00ffff"/>
<line x1="224.07" y1="546.1" x2="224.07" y2="550.3" stroke="#333" stroke-width="0.6"/>
<text x="220.97" y="552.9" font-size="7.1" fill="#262626" textLength="18.42" lengthAdjust="spacingAndGlyphs" transform="rotate(90 220.97 552.9)">WT-M</text>
<rect x="232.46" y="426.1" width="10.06" height="3.2" fill="none" stroke="#ff8d8d" stroke-width="0.9"/>
<line x1="232.46" y1="427.6" x2="242.52" y2="427.6" stroke="#ff7d7d" stroke-width="0.9"/>
<circle cx="237.49" cy="422.9" r="1.3" fill="#ff0000"/>
<circle cx="237.49" cy="428.9" r="1.3" fill="#ff0000"/>
<line x1="237.49" y1="546.1" x2="237.49" y2="550.3" stroke="#333" stroke-width="0.6"/>
<text x="234.39" y="552.9" font-size="7.1" fill="#262626" textLength="17.3" lengthAdjust="spacingAndGlyphs" transform="rotate(90 234.39 552.9)">WT-K</text>
<rect x="245.88" y="449.2" width="10.06" height="3.7" fill="none" stroke="#8dff8d" stroke-width="0.9"/>
<line x1="245.88" y1="452" x2="255.94" y2="452" stroke="#7dff7d" stroke-width="0.9"/>
<circle cx="250.91" cy="441.1" r="1.1" fill="#fff" stroke="#00ff00" stroke-width="0.6"/>
<circle cx="250.91" cy="452" r="1.1" fill="#fff" stroke="#00ff00" stroke-width="0.6"/>
<circle cx="250.91" cy="452.5" r="1.1" fill="#fff" stroke="#00ff00" stroke-width="0.6"/>
<line x1="250.91" y1="546.1" x2="250.91" y2="550.3" stroke="#333" stroke-width="0.6"/>
<text x="247.81" y="552.9" font-size="7.1" fill="#262626" textLength="22.19" lengthAdjust="spacingAndGlyphs" transform="rotate(90 247.81 552.9)">3xTg-C</text>
<line x1="264.33" y1="432.4" x2="264.33" y2="440.9" stroke="#8dffff" stroke-width="0.9"/>
<line x1="264.33" y1="456.3" x2="264.33" y2="463.2" stroke="#8dffff" stroke-width="0.9"/>
<rect x="259.3" y="440.9" width="10.06" height="15.4" fill="none" stroke="#8dffff" stroke-width="0.9"/>
<line x1="259.3" y1="449.5" x2="269.36" y2="449.5" stroke="#7dffff" stroke-width="0.9"/>
<circle cx="264.33" cy="432.4" r="1.1" fill="#fff" stroke="#00ffff" stroke-width="0.6"/>
<circle cx="264.33" cy="449.5" r="1.1" fill="#fff" stroke="#00ffff" stroke-width="0.6"/>
<circle cx="264.33" cy="463.2" r="1.1" fill="#fff" stroke="#00ffff" stroke-width="0.6"/>
<line x1="264.33" y1="546.1" x2="264.33" y2="550.3" stroke="#333" stroke-width="0.6"/>
<text x="261.23" y="552.9" font-size="7.1" fill="#262626" textLength="22.94" lengthAdjust="spacingAndGlyphs" transform="rotate(90 261.23 552.9)">3xTg-M</text>
<line x1="277.75" y1="428" x2="277.75" y2="432.1" stroke="#ff8d8d" stroke-width="0.9"/>
<rect x="272.72" y="432.1" width="10.06" height="6.2" fill="none" stroke="#ff8d8d" stroke-width="0.9"/>
<line x1="272.72" y1="435.3" x2="282.78" y2="435.3" stroke="#ff7d7d" stroke-width="0.9"/>
<circle cx="277.75" cy="428" r="1.1" fill="#fff" stroke="#ff0000" stroke-width="0.6"/>
<circle cx="277.75" cy="435.3" r="1.1" fill="#fff" stroke="#ff0000" stroke-width="0.6"/>
<circle cx="277.75" cy="441.4" r="1.1" fill="#fff" stroke="#ff0000" stroke-width="0.6"/>
<line x1="277.75" y1="546.1" x2="277.75" y2="550.3" stroke="#333" stroke-width="0.6"/>
<text x="274.65" y="552.9" font-size="7.1" fill="#262626" textLength="21.82" lengthAdjust="spacingAndGlyphs" transform="rotate(90 274.65 552.9)">3xTg-K</text>
<line x1="28.2" y1="500.1" x2="30.4" y2="500.1" stroke="#333" stroke-width="0.6"/>
<text x="28" y="503" font-size="8.1" text-anchor="end" fill="#4d4d4d">0.5</text>
<line x1="28.2" y1="416.8" x2="30.4" y2="416.8" stroke="#333" stroke-width="0.6"/>
<text x="28" y="419.7" font-size="8.1" text-anchor="end" fill="#4d4d4d">1.0</text>
<line x1="28.2" y1="333.2" x2="30.4" y2="333.2" stroke="#333" stroke-width="0.6"/>
<text x="28" y="336.1" font-size="8.1" text-anchor="end" fill="#4d4d4d">1.5</text>
<text x="16" y="430.35" font-size="8.7" text-anchor="middle" font-weight="bold" textLength="55.2" lengthAdjust="spacingAndGlyphs" transform="rotate(-90 16 430.35)">Simpson index</text>
<text x="159.9" y="600" font-size="7.6" text-anchor="middle" font-weight="bold" textLength="99.8" lengthAdjust="spacingAndGlyphs">Diet duration / mouse age</text>
<rect x="30.9" y="610" width="82.5" height="241" fill="#fff" stroke="#b5b5b5" stroke-width="0.8"/>
<line x1="30.4" y1="851" x2="113.8" y2="851" stroke="#5a5a5a" stroke-width="1"/>
<line x1="30.9" y1="610" x2="30.9" y2="851.5" stroke="#5a5a5a" stroke-width="1"/>
<rect x="30.9" y="601.8" width="82.5" height="8.2" fill="#d9d9d9" stroke="#707070" stroke-width="0.6"/>
<text x="72.15" y="609.2" font-size="8.9" text-anchor="middle" fill="#1a1a1a" textLength="61.5" lengthAdjust="spacingAndGlyphs">1 month / 4Mo</text>
<text x="72.15" y="617" font-size="7" text-anchor="middle" textLength="53.5" lengthAdjust="spacingAndGlyphs">Kruskal–Wallis</text>
<text x="72.15" y="625.2" font-size="7" text-anchor="middle" textLength="34" lengthAdjust="spacingAndGlyphs">p = 0.014</text>
<line x1="38.88" y1="724.7" x2="38.88" y2="748.3" stroke="#8dff8d" stroke-width="0.9"/>
<line x1="38.88" y1="770.2" x2="38.88" y2="780.9" stroke="#8dff8d" stroke-width="0.9"/>
<rect x="33.89" y="748.3" width="9.98" height="21.9" fill="none" stroke="#8dff8d" stroke-width="0.9"/>
<line x1="33.89" y1="761.3" x2="43.87" y2="761.3" stroke="#7dff7d" stroke-width="0.9"/>
<circle cx="38.88" cy="724.7" r="1.3" fill="#00ff00"/>
<circle cx="38.88" cy="755.9" r="1.3" fill="#00ff00"/>
<circle cx="38.88" cy="766.5" r="1.3" fill="#00ff00"/>
<circle cx="38.88" cy="780.9" r="1.3" fill="#00ff00"/>
<line x1="38.88" y1="851" x2="38.88" y2="855.2" stroke="#333" stroke-width="0.6"/>
<text x="37.38" y="857.7" font-size="7.2" fill="#262626" textLength="18.19" lengthAdjust="spacingAndGlyphs" transform="rotate(90 37.38 857.7)">WT-C</text>
<line x1="52.19" y1="756.3" x2="52.19" y2="762.9" stroke="#8dffff" stroke-width="0.9"/>
<rect x="47.2" y="762.9" width="9.98" height="10.4" fill="none" stroke="#8dffff" stroke-width="0.9"/>
<line x1="47.2" y1="764.8" x2="57.18" y2="764.8" stroke="#7dffff" stroke-width="0.9"/>
<circle cx="52.19" cy="756.3" r="1.3" fill="#00ffff"/>
<circle cx="52.19" cy="765.1" r="1.3" fill="#00ffff"/>
<circle cx="52.19" cy="797.4" r="1.3" fill="#00ffff"/>
<line x1="52.19" y1="851" x2="52.19" y2="855.2" stroke="#333" stroke-width="0.6"/>
<text x="50.69" y="857.7" font-size="7.2" fill="#262626" textLength="18.97" lengthAdjust="spacingAndGlyphs" transform="rotate(90 50.69 857.7)">WT-M</text>
<line x1="65.5" y1="745.1" x2="65.5" y2="747.4" stroke="#ff8d8d" stroke-width="0.9"/>
<rect x="60.51" y="747.4" width="9.98" height="11.6" fill="none" stroke="#ff8d8d" stroke-width="0.9"/>
<line x1="60.51" y1="750.2" x2="70.49" y2="750.2" stroke="#ff7d7d" stroke-width="0.9"/>
<circle cx="65.5" cy="745.1" r="1.3" fill="#ff0000"/>
<circle cx="65.5" cy="748.6" r="1.3" fill="#ff0000"/>
<circle cx="65.5" cy="752.6" r="1.3" fill="#ff0000"/>
<circle cx="65.5" cy="777.7" r="1.3" fill="#ff0000"/>
<line x1="65.5" y1="851" x2="65.5" y2="855.2" stroke="#333" stroke-width="0.6"/>
<text x="64" y="857.7" font-size="7.2" fill="#262626" textLength="17.81" lengthAdjust="spacingAndGlyphs" transform="rotate(90 64 857.7)">WT-K</text>
<line x1="78.8" y1="828.3" x2="78.8" y2="839.1" stroke="#8dff8d" stroke-width="0.9"/>
<rect x="73.81" y="818.1" width="9.98" height="10.2" fill="none" stroke="#8dff8d" stroke-width="0.9"/>
<line x1="73.81" y1="824.2" x2="83.79" y2="824.2" stroke="#7dff7d" stroke-width="0.9"/>
<circle cx="78.8" cy="798.2" r="1.1" fill="#fff" stroke="#00ff00" stroke-width="0.6"/>
<circle cx="78.8" cy="824.2" r="1.1" fill="#fff" stroke="#00ff00" stroke-width="0.6"/>
<circle cx="78.8" cy="839.1" r="1.1" fill="#fff" stroke="#00ff00" stroke-width="0.6"/>
<line x1="78.8" y1="851" x2="78.8" y2="855.2" stroke="#333" stroke-width="0.6"/>
<text x="77.3" y="857.7" font-size="7.2" fill="#262626" textLength="22.85" lengthAdjust="spacingAndGlyphs" transform="rotate(90 77.3 857.7)">3xTg-C</text>
<line x1="92.11" y1="758.4" x2="92.11" y2="762.9" stroke="#8dffff" stroke-width="0.9"/>
<line x1="92.11" y1="785.1" x2="92.11" y2="802.2" stroke="#8dffff" stroke-width="0.9"/>
<rect x="87.12" y="762.9" width="9.98" height="22.2" fill="none" stroke="#8dffff" stroke-width="0.9"/>
<line x1="87.12" y1="772.4" x2="97.1" y2="772.4" stroke="#7dffff" stroke-width="0.9"/>
<circle cx="92.11" cy="758.4" r="1.1" fill="#fff" stroke="#00ffff" stroke-width="0.6"/>
<circle cx="92.11" cy="764.1" r="1.1" fill="#fff" stroke="#00ffff" stroke-width="0.6"/>
<circle cx="92.11" cy="779.6" r="1.1" fill="#fff" stroke="#00ffff" stroke-width="0.6"/>
<circle cx="92.11" cy="802.2" r="1.1" fill="#fff" stroke="#00ffff" stroke-width="0.6"/>
<line x1="92.11" y1="851" x2="92.11" y2="855.2" stroke="#333" stroke-width="0.6"/>
<text x="90.61" y="857.7" font-size="7.2" fill="#262626" textLength="23.62" lengthAdjust="spacingAndGlyphs" transform="rotate(90 90.61 857.7)">3xTg-M</text>
<rect x="100.43" y="782.2" width="9.98" height="4.8" fill="none" stroke="#ff8d8d" stroke-width="0.9"/>
<line x1="100.43" y1="785.1" x2="110.41" y2="785.1" stroke="#ff7d7d" stroke-width="0.9"/>
<circle cx="105.42" cy="773.7" r="1.1" fill="#fff" stroke="#ff0000" stroke-width="0.6"/>
<circle cx="105.42" cy="785.1" r="1.1" fill="#fff" stroke="#ff0000" stroke-width="0.6"/>
<circle cx="105.42" cy="791" r="1.1" fill="#fff" stroke="#ff0000" stroke-width="0.6"/>
<line x1="105.42" y1="851" x2="105.42" y2="855.2" stroke="#333" stroke-width="0.6"/>
<text x="103.92" y="857.7" font-size="7.2" fill="#262626" textLength="22.46" lengthAdjust="spacingAndGlyphs" transform="rotate(90 103.92 857.7)">3xTg-K</text>
<path d="M39 694.9V691.7H105.4V694.9" stroke="#333" stroke-width="0.55" fill="none"/>
<text x="72.2" y="689.1" font-size="6" text-anchor="middle" fill="#222">0.057</text>
<path d="M65.5 710.5V707.3H105.4V710.5" stroke="#333" stroke-width="0.55" fill="none"/>
<text x="85.45" y="704.7" font-size="6" text-anchor="middle" fill="#222">0.057</text>
<path d="M39 722.8V719.6H78.8V722.8" stroke="#333" stroke-width="0.55" fill="none"/>
<text x="58.9" y="717" font-size="6" text-anchor="middle" fill="#222">0.029</text>
<path d="M78.8 737.2V734H105.4V737.2" stroke="#333" stroke-width="0.55" fill="none"/>
<text x="92.1" y="731.4" font-size="6" text-anchor="middle" fill="#222">0.029</text>
<path d="M78.8 750.9V747.7H92.1V750.9" stroke="#333" stroke-width="0.55" fill="none"/>
<text x="85.45" y="745.1" font-size="6" text-anchor="middle" fill="#222">0.059</text>
<rect x="116.7" y="610" width="82.5" height="241" fill="#fff" stroke="#b5b5b5" stroke-width="0.8"/>
<line x1="116.2" y1="851" x2="199.6" y2="851" stroke="#5a5a5a" stroke-width="1"/>
<rect x="116.7" y="601.8" width="82.5" height="8.2" fill="#d9d9d9" stroke="#707070" stroke-width="0.6"/>
<text x="157.95" y="609.2" font-size="8.9" text-anchor="middle" fill="#1a1a1a" textLength="66.5" lengthAdjust="spacingAndGlyphs">3 months / 6Mo</text>
<text x="157.95" y="617" font-size="7" text-anchor="middle" textLength="53.5" lengthAdjust="spacingAndGlyphs">Kruskal–Wallis</text>
<text x="157.95" y="625.2" font-size="7" text-anchor="middle" textLength="34" lengthAdjust="spacingAndGlyphs">p = 0.032</text>
<line x1="124.68" y1="770.8" x2="124.68" y2="773.1" stroke="#8dff8d" stroke-width="0.9"/>
<line x1="124.68" y1="779" x2="124.68" y2="783.2" stroke="#8dff8d" stroke-width="0.9"/>
<rect x="119.69" y="773.1" width="9.98" height="5.9" fill="none" stroke="#8dff8d" stroke-width="0.9"/>
<line x1="119.69" y1="775.6" x2="129.67" y2="775.6" stroke="#7dff7d" stroke-width="0.9"/>
<circle cx="124.68" cy="770.8" r="1.3" fill="#00ff00"/>
<circle cx="124.68" cy="773.8" r="1.3" fill="#00ff00"/>
<circle cx="124.68" cy="777.7" r="1.3" fill="#00ff00"/>
<circle cx="124.68" cy="783.2" r="1.3" fill="#00ff00"/>
<line x1="124.68" y1="851" x2="124.68" y2="855.2" stroke="#333" stroke-width="0.6"/>
<text x="123.18" y="857.7" font-size="7.2" fill="#262626" textLength="18.19" lengthAdjust="spacingAndGlyphs" transform="rotate(90 123.18 857.7)">WT-C</text>
<line x1="137.99" y1="744.1" x2="137.99" y2="750.1" stroke="#8dffff" stroke-width="0.9"/>
<line x1="137.99" y1="776.3" x2="137.99" y2="796.8" stroke="#8dffff" stroke-width="0.9"/>
<rect x="133" y="750.1" width="9.98" height="26.2" fill="none" stroke="#8dffff" stroke-width="0.9"/>
<line x1="133" y1="760.4" x2="142.98" y2="760.4" stroke="#7dffff" stroke-width="0.9"/>
<circle cx="137.99" cy="744.1" r="1.3" fill="#00ffff"/>
<circle cx="137.99" cy="752" r="1.3" fill="#00ffff"/>
<circle cx="137.99" cy="769.8" r="1.3" fill="#00ffff"/>
<circle cx="137.99" cy="796.8" r="1.3" fill="#00ffff"/>
<line x1="137.99" y1="851" x2="137.99" y2="855.2" stroke="#333" stroke-width="0.6"/>
<text x="136.49" y="857.7" font-size="7.2" fill="#262626" textLength="18.97" lengthAdjust="spacingAndGlyphs" transform="rotate(90 136.49 857.7)">WT-M</text>
<line x1="151.3" y1="749.2" x2="151.3" y2="756.6" stroke="#ff8d8d" stroke-width="0.9"/>
<line x1="151.3" y1="784.4" x2="151.3" y2="796.1" stroke="#ff8d8d" stroke-width="0.9"/>
<rect x="146.31" y="756.6" width="9.98" height="27.8" fill="none" stroke="#ff8d8d" stroke-width="0.9"/>
<line x1="146.31" y1="770.3" x2="156.29" y2="770.3" stroke="#ff7d7d" stroke-width="0.9"/>
<circle cx="151.3" cy="749.2" r="1.3" fill="#ff0000"/>
<circle cx="151.3" cy="759.2" r="1.3" fill="#ff0000"/>
<circle cx="151.3" cy="780.8" r="1.3" fill="#ff0000"/>
<circle cx="151.3" cy="796.1" r="1.3" fill="#ff0000"/>
<line x1="151.3" y1="851" x2="151.3" y2="855.2" stroke="#333" stroke-width="0.6"/>
<text x="149.8" y="857.7" font-size="7.2" fill="#262626" textLength="17.81" lengthAdjust="spacingAndGlyphs" transform="rotate(90 149.8 857.7)">WT-K</text>
<line x1="164.6" y1="792.1" x2="164.6" y2="803.2" stroke="#8dff8d" stroke-width="0.9"/>
<rect x="159.61" y="803.2" width="9.98" height="18.2" fill="none" stroke="#8dff8d" stroke-width="0.9"/>
<line x1="159.61" y1="814.5" x2="169.59" y2="814.5" stroke="#7dff7d" stroke-width="0.9"/>
<circle cx="164.6" cy="792.1" r="1.1" fill="#fff" stroke="#00ff00" stroke-width="0.6"/>
<circle cx="164.6" cy="807.4" r="1.1" fill="#fff" stroke="#00ff00" stroke-width="0.6"/>
<circle cx="164.6" cy="820.4" r="1.1" fill="#fff" stroke="#00ff00" stroke-width="0.6"/>
<circle cx="164.6" cy="822.5" r="1.1" fill="#fff" stroke="#00ff00" stroke-width="0.6"/>
<line x1="164.6" y1="851" x2="164.6" y2="855.2" stroke="#333" stroke-width="0.6"/>
<text x="163.1" y="857.7" font-size="7.2" fill="#262626" textLength="22.85" lengthAdjust="spacingAndGlyphs" transform="rotate(90 163.1 857.7)">3xTg-C</text>
<line x1="177.91" y1="764.8" x2="177.91" y2="775.4" stroke="#8dffff" stroke-width="0.9"/>
<line x1="177.91" y1="798.9" x2="177.91" y2="802.8" stroke="#8dffff" stroke-width="0.9"/>
<rect x="172.92" y="775.4" width="9.98" height="23.5" fill="none" stroke="#8dffff" stroke-width="0.9"/>
<line x1="172.92" y1="788.3" x2="182.9" y2="788.3" stroke="#7dffff" stroke-width="0.9"/>
<circle cx="177.91" cy="764.8" r="1.1" fill="#fff" stroke="#00ffff" stroke-width="0.6"/>
<circle cx="177.91" cy="779.1" r="1.1" fill="#fff" stroke="#00ffff" stroke-width="0.6"/>
<circle cx="177.91" cy="797.2" r="1.1" fill="#fff" stroke="#00ffff" stroke-width="0.6"/>
<circle cx="177.91" cy="802.8" r="1.1" fill="#fff" stroke="#00ffff" stroke-width="0.6"/>
<line x1="177.91" y1="851" x2="177.91" y2="855.2" stroke="#333" stroke-width="0.6"/>
<text x="176.41" y="857.7" font-size="7.2" fill="#262626" textLength="23.62" lengthAdjust="spacingAndGlyphs" transform="rotate(90 176.41 857.7)">3xTg-M</text>
<line x1="191.22" y1="784.1" x2="191.22" y2="792.1" stroke="#ff8d8d" stroke-width="0.9"/>
<line x1="191.22" y1="807.3" x2="191.22" y2="813.4" stroke="#ff8d8d" stroke-width="0.9"/>
<rect x="186.23" y="792.1" width="9.98" height="15.2" fill="none" stroke="#ff8d8d" stroke-width="0.9"/>
<line x1="186.23" y1="800.3" x2="196.21" y2="800.3" stroke="#ff7d7d" stroke-width="0.9"/>
<circle cx="191.22" cy="784.1" r="1.1" fill="#fff" stroke="#ff0000" stroke-width="0.6"/>
<circle cx="191.22" cy="794.9" r="1.1" fill="#fff" stroke="#ff0000" stroke-width="0.6"/>
<circle cx="191.22" cy="805.5" r="1.1" fill="#fff" stroke="#ff0000" stroke-width="0.6"/>
<circle cx="191.22" cy="813.4" r="1.1" fill="#fff" stroke="#ff0000" stroke-width="0.6"/>
<line x1="191.22" y1="851" x2="191.22" y2="855.2" stroke="#333" stroke-width="0.6"/>
<text x="189.72" y="857.7" font-size="7.2" fill="#262626" textLength="22.46" lengthAdjust="spacingAndGlyphs" transform="rotate(90 189.72 857.7)">3xTg-K</text>
<path d="M124.7 730.4V727.2H191.2V730.4" stroke="#333" stroke-width="0.55" fill="none"/>
<text x="157.95" y="724.6" font-size="6" text-anchor="middle" fill="#222">0.029</text>
<path d="M124.7 741.1V737.9H164.6V741.1" stroke="#333" stroke-width="0.55" fill="none"/>
<text x="144.65" y="735.3" font-size="6" text-anchor="middle" fill="#222">0.029</text>
<rect x="203" y="610" width="82.5" height="241" fill="#fff" stroke="#b5b5b5" stroke-width="0.8"/>
<line x1="202.5" y1="851" x2="285.9" y2="851" stroke="#5a5a5a" stroke-width="1"/>
<rect x="203" y="601.8" width="82.5" height="8.2" fill="#d9d9d9" stroke="#707070" stroke-width="0.6"/>
<text x="244.25" y="609.2" font-size="8.9" text-anchor="middle" fill="#1a1a1a" textLength="66.5" lengthAdjust="spacingAndGlyphs">5 months / 8Mo</text>
<text x="244.25" y="615.8" font-size="7" text-anchor="middle" textLength="53.5" lengthAdjust="spacingAndGlyphs">Kruskal–Wallis</text>
<text x="244.25" y="623.6" font-size="7" text-anchor="middle" textLength="29.6" lengthAdjust="spacingAndGlyphs">p = 0.15</text>
<line x1="205.99" y1="765.5" x2="215.97" y2="765.5" stroke="#7dff7d" stroke-width="0.9"/>
<circle cx="210.98" cy="765.5" r="1.3" fill="#00ff00"/>
<line x1="210.98" y1="851" x2="210.98" y2="855.2" stroke="#333" stroke-width="0.6"/>
<text x="209.48" y="857.7" font-size="7.2" fill="#262626" textLength="18.19" lengthAdjust="spacingAndGlyphs" transform="rotate(90 209.48 857.7)">WT-C</text>
<line x1="224.29" y1="753.8" x2="224.29" y2="771" stroke="#8dffff" stroke-width="0.9"/>
<rect x="219.3" y="771" width="9.98" height="17.3" fill="none" stroke="#8dffff" stroke-width="0.9"/>
<line x1="219.3" y1="788.3" x2="229.28" y2="788.3" stroke="#7dffff" stroke-width="0.9"/>
<circle cx="224.29" cy="753.8" r="1.3" fill="#00ffff"/>
<circle cx="224.29" cy="788.3" r="1.3" fill="#00ffff"/>
<line x1="224.29" y1="851" x2="224.29" y2="855.2" stroke="#333" stroke-width="0.6"/>
<text x="222.79" y="857.7" font-size="7.2" fill="#262626" textLength="18.97" lengthAdjust="spacingAndGlyphs" transform="rotate(90 222.79 857.7)">WT-M</text>
<line x1="237.6" y1="752.4" x2="237.6" y2="769.2" stroke="#ff8d8d" stroke-width="0.9"/>
<line x1="237.6" y1="792.4" x2="237.6" y2="798.9" stroke="#ff8d8d" stroke-width="0.9"/>
<rect x="232.61" y="769.2" width="9.98" height="23.2" fill="none" stroke="#ff8d8d" stroke-width="0.9"/>
<line x1="232.61" y1="786.6" x2="242.59" y2="786.6" stroke="#ff7d7d" stroke-width="0.9"/>
<circle cx="237.6" cy="752.4" r="1.3" fill="#ff0000"/>
<circle cx="237.6" cy="786.6" r="1.3" fill="#ff0000"/>
<circle cx="237.6" cy="798.9" r="1.3" fill="#ff0000"/>
<line x1="237.6" y1="851" x2="237.6" y2="855.2" stroke="#333" stroke-width="0.6"/>
<text x="236.1" y="857.7" font-size="7.2" fill="#262626" textLength="17.81" lengthAdjust="spacingAndGlyphs" transform="rotate(90 236.1 857.7)">WT-K</text>
<line x1="250.9" y1="788" x2="250.9" y2="797.5" stroke="#8dff8d" stroke-width="0.9"/>
<line x1="250.9" y1="804.1" x2="250.9" y2="811.7" stroke="#8dff8d" stroke-width="0.9"/>
<rect x="245.91" y="797.5" width="9.98" height="6.6" fill="none" stroke="#8dff8d" stroke-width="0.9"/>
<line x1="245.91" y1="801.1" x2="255.89" y2="801.1" stroke="#7dff7d" stroke-width="0.9"/>
<circle cx="250.9" cy="788" r="1.1" fill="#fff" stroke="#00ff00" stroke-width="0.6"/>
<circle cx="250.9" cy="801.1" r="1.1" fill="#fff" stroke="#00ff00" stroke-width="0.6"/>
<circle cx="250.9" cy="811.7" r="1.1" fill="#fff" stroke="#00ff00" stroke-width="0.6"/>
<line x1="250.9" y1="851" x2="250.9" y2="855.2" stroke="#333" stroke-width="0.6"/>
<text x="249.4" y="857.7" font-size="7.2" fill="#262626" textLength="22.85" lengthAdjust="spacingAndGlyphs" transform="rotate(90 249.4 857.7)">3xTg-C</text>
<line x1="264.21" y1="774.2" x2="264.21" y2="785.5" stroke="#8dffff" stroke-width="0.9"/>
<rect x="259.22" y="785.5" width="9.98" height="16.2" fill="none" stroke="#8dffff" stroke-width="0.9"/>
<line x1="259.22" y1="797.5" x2="269.2" y2="797.5" stroke="#7dffff" stroke-width="0.9"/>
<circle cx="264.21" cy="774.2" r="1.1" fill="#fff" stroke="#00ffff" stroke-width="0.6"/>
<circle cx="264.21" cy="797.5" r="1.1" fill="#fff" stroke="#00ffff" stroke-width="0.6"/>
<circle cx="264.21" cy="805.8" r="1.1" fill="#fff" stroke="#00ffff" stroke-width="0.6"/>
<line x1="264.21" y1="851" x2="264.21" y2="855.2" stroke="#333" stroke-width="0.6"/>
<text x="262.71" y="857.7" font-size="7.2" fill="#262626" textLength="23.62" lengthAdjust="spacingAndGlyphs" transform="rotate(90 262.71 857.7)">3xTg-M</text>
<line x1="277.52" y1="789.4" x2="277.52" y2="800.3" stroke="#ff8d8d" stroke-width="0.9"/>
<rect x="272.53" y="800.3" width="9.98" height="14.2" fill="none" stroke="#ff8d8d" stroke-width="0.9"/>
<line x1="272.53" y1="811.3" x2="282.51" y2="811.3" stroke="#ff7d7d" stroke-width="0.9"/>
<circle cx="277.52" cy="789.4" r="1.1" fill="#fff" stroke="#ff0000" stroke-width="0.6"/>
<circle cx="277.52" cy="811.3" r="1.1" fill="#fff" stroke="#ff0000" stroke-width="0.6"/>
<circle cx="277.52" cy="817.2" r="1.1" fill="#fff" stroke="#ff0000" stroke-width="0.6"/>
<line x1="277.52" y1="851" x2="277.52" y2="855.2" stroke="#333" stroke-width="0.6"/>
<text x="276.02" y="857.7" font-size="7.2" fill="#262626" textLength="22.46" lengthAdjust="spacingAndGlyphs" transform="rotate(90 276.02 857.7)">3xTg-K</text>
<line x1="28.7" y1="819" x2="30.9" y2="819" stroke="#333" stroke-width="0.6"/>
<text x="28.5" y="821.9" font-size="8.1" text-anchor="end" fill="#4d4d4d">100</text>
<line x1="28.7" y1="752.8" x2="30.9" y2="752.8" stroke="#333" stroke-width="0.6"/>
<text x="28.5" y="755.7" font-size="8.1" text-anchor="end" fill="#4d4d4d">200</text>
<line x1="28.7" y1="686.6" x2="30.9" y2="686.6" stroke="#333" stroke-width="0.6"/>
<text x="28.5" y="689.5" font-size="8.1" text-anchor="end" fill="#4d4d4d">300</text>
<line x1="28.7" y1="620.3" x2="30.9" y2="620.3" stroke="#333" stroke-width="0.6"/>
<text x="28.5" y="623.2" font-size="8.1" text-anchor="end" fill="#4d4d4d">400</text>
<text x="16.2" y="721.8" font-size="8.6" text-anchor="middle" font-weight="bold" textLength="48.5" lengthAdjust="spacingAndGlyphs" transform="rotate(-90 16.2 721.8)">Chao1  index</text>
<text x="337.2" y="43" font-size="12.6" textLength="62.4" lengthAdjust="spacingAndGlyphs">Bray-Curtis</text>
<circle cx="536.2" cy="54.5" r="3.5" fill="#00ee00"/>
<text x="542.8" y="57.9" font-size="9.9" textLength="23.9" lengthAdjust="spacingAndGlyphs">WT.C</text>
<circle cx="536.2" cy="65" r="3.5" fill="#33ddee"/>
<text x="542.8" y="68.4" font-size="9.9" textLength="26" lengthAdjust="spacingAndGlyphs">WT.M</text>
<circle cx="536.2" cy="75.5" r="3.5" fill="#ee2222"/>
<text x="542.8" y="78.9" font-size="9.9" textLength="23.9" lengthAdjust="spacingAndGlyphs">WT.K</text>
<rect x="580" y="51.6" width="6.2" height="6" fill="#006400"/>
<text x="588.9" y="58" font-size="9.9" textLength="32.2" lengthAdjust="spacingAndGlyphs">3xTg.C</text>
<rect x="580" y="62" width="6.2" height="6" fill="#2a2a99"/>
<text x="588.9" y="68.4" font-size="9.9" textLength="34.3" lengthAdjust="spacingAndGlyphs">3xTg.M</text>
<rect x="580" y="72.4" width="6.2" height="6" fill="#8b0000"/>
<text x="588.9" y="78.8" font-size="9.9" textLength="32.2" lengthAdjust="spacingAndGlyphs">3xTg.K</text>
<circle cx="645.4" cy="55.9" r="7.3" fill="none" stroke="#000" stroke-width="1"/>
<text x="655.5" y="58.3" font-size="9.9" textLength="14.6" lengthAdjust="spacingAndGlyphs">WT</text>
<circle cx="645.8" cy="76.3" r="7.3" fill="none" stroke="#000" stroke-width="0.9" stroke-dasharray="1.3 1.1"/>
<text x="656.7" y="79.5" font-size="9.9" textLength="20.4" lengthAdjust="spacingAndGlyphs">3xTg</text>
<text x="508.7" y="98.2" font-size="10.7" text-anchor="middle" font-weight="bold" textLength="144.2" lengthAdjust="spacingAndGlyphs">Diet duration / mouse age</text>
<rect x="336.6" y="114.3" width="111" height="380.9" fill="#fff"/>
<line x1="348.78" y1="114.3" x2="348.78" y2="495.2" stroke="#f2f2f2" stroke-width="0.55"/>
<line x1="377.66" y1="114.3" x2="377.66" y2="495.2" stroke="#f2f2f2" stroke-width="0.55"/>
<line x1="406.54" y1="114.3" x2="406.54" y2="495.2" stroke="#f2f2f2" stroke-width="0.55"/>
<line x1="435.42" y1="114.3" x2="435.42" y2="495.2" stroke="#f2f2f2" stroke-width="0.55"/>
<line x1="336.6" y1="174.44" x2="447.6" y2="174.44" stroke="#f2f2f2" stroke-width="0.55"/>
<line x1="336.6" y1="261.35" x2="447.6" y2="261.35" stroke="#f2f2f2" stroke-width="0.55"/>
<line x1="336.6" y1="348.25" x2="447.6" y2="348.25" stroke="#f2f2f2" stroke-width="0.55"/>
<line x1="336.6" y1="435.17" x2="447.6" y2="435.17" stroke="#f2f2f2" stroke-width="0.55"/>
<line x1="363.22" y1="114.3" x2="363.22" y2="495.2" stroke="#ebebeb" stroke-width="1"/>
<line x1="392.1" y1="114.3" x2="392.1" y2="495.2" stroke="#ebebeb" stroke-width="1"/>
<line x1="420.98" y1="114.3" x2="420.98" y2="495.2" stroke="#ebebeb" stroke-width="1"/>
<line x1="336.6" y1="130.98" x2="447.6" y2="130.98" stroke="#ebebeb" stroke-width="1"/>
<line x1="336.6" y1="217.89" x2="447.6" y2="217.89" stroke="#ebebeb" stroke-width="1"/>
<line x1="336.6" y1="304.8" x2="447.6" y2="304.8" stroke="#ebebeb" stroke-width="1"/>
<line x1="336.6" y1="391.71" x2="447.6" y2="391.71" stroke="#ebebeb" stroke-width="1"/>
<line x1="336.6" y1="478.62" x2="447.6" y2="478.62" stroke="#ebebeb" stroke-width="1"/>
<rect x="451.8" y="114.3" width="111" height="380.9" fill="#fff"/>
<line x1="463.98" y1="114.3" x2="463.98" y2="495.2" stroke="#f2f2f2" stroke-width="0.55"/>
<line x1="492.86" y1="114.3" x2="492.86" y2="495.2" stroke="#f2f2f2" stroke-width="0.55"/>
<line x1="521.74" y1="114.3" x2="521.74" y2="495.2" stroke="#f2f2f2" stroke-width="0.55"/>
<line x1="550.62" y1="114.3" x2="550.62" y2="495.2" stroke="#f2f2f2" stroke-width="0.55"/>
<line x1="451.8" y1="174.44" x2="562.8" y2="174.44" stroke="#f2f2f2" stroke-width="0.55"/>
<line x1="451.8" y1="261.35" x2="562.8" y2="261.35" stroke="#f2f2f2" stroke-width="0.55"/>
<line x1="451.8" y1="348.25" x2="562.8" y2="348.25" stroke="#f2f2f2" stroke-width="0.55"/>
<line x1="451.8" y1="435.17" x2="562.8" y2="435.17" stroke="#f2f2f2" stroke-width="0.55"/>
<line x1="478.42" y1="114.3" x2="478.42" y2="495.2" stroke="#ebebeb" stroke-width="1"/>
<line x1="507.3" y1="114.3" x2="507.3" y2="495.2" stroke="#ebebeb" stroke-width="1"/>
<line x1="536.18" y1="114.3" x2="536.18" y2="495.2" stroke="#ebebeb" stroke-width="1"/>
<line x1="451.8" y1="130.98" x2="562.8" y2="130.98" stroke="#ebebeb" stroke-width="1"/>
<line x1="451.8" y1="217.89" x2="562.8" y2="217.89" stroke="#ebebeb" stroke-width="1"/>
<line x1="451.8" y1="304.8" x2="562.8" y2="304.8" stroke="#ebebeb" stroke-width="1"/>
<line x1="451.8" y1="391.71" x2="562.8" y2="391.71" stroke="#ebebeb" stroke-width="1"/>
<line x1="451.8" y1="478.62" x2="562.8" y2="478.62" stroke="#ebebeb" stroke-width="1"/>
<rect x="567" y="114.3" width="111" height="380.9" fill="#fff"/>
<line x1="579.18" y1="114.3" x2="579.18" y2="495.2" stroke="#f2f2f2" stroke-width="0.55"/>
<line x1="608.06" y1="114.3" x2="608.06" y2="495.2" stroke="#f2f2f2" stroke-width="0.55"/>
<line x1="636.94" y1="114.3" x2="636.94" y2="495.2" stroke="#f2f2f2" stroke-width="0.55"/>
<line x1="665.82" y1="114.3" x2="665.82" y2="495.2" stroke="#f2f2f2" stroke-width="0.55"/>
<line x1="567" y1="174.44" x2="678" y2="174.44" stroke="#f2f2f2" stroke-width="0.55"/>
<line x1="567" y1="261.35" x2="678" y2="261.35" stroke="#f2f2f2" stroke-width="0.55"/>
<line x1="567" y1="348.25" x2="678" y2="348.25" stroke="#f2f2f2" stroke-width="0.55"/>
<line x1="567" y1="435.17" x2="678" y2="435.17" stroke="#f2f2f2" stroke-width="0.55"/>
<line x1="593.62" y1="114.3" x2="593.62" y2="495.2" stroke="#ebebeb" stroke-width="1"/>
<line x1="622.5" y1="114.3" x2="622.5" y2="495.2" stroke="#ebebeb" stroke-width="1"/>
<line x1="651.38" y1="114.3" x2="651.38" y2="495.2" stroke="#ebebeb" stroke-width="1"/>
<line x1="567" y1="130.98" x2="678" y2="130.98" stroke="#ebebeb" stroke-width="1"/>
<line x1="567" y1="217.89" x2="678" y2="217.89" stroke="#ebebeb" stroke-width="1"/>
<line x1="567" y1="304.8" x2="678" y2="304.8" stroke="#ebebeb" stroke-width="1"/>
<line x1="567" y1="391.71" x2="678" y2="391.71" stroke="#ebebeb" stroke-width="1"/>
<line x1="567" y1="478.62" x2="678" y2="478.62" stroke="#ebebeb" stroke-width="1"/>
<defs><clipPath id="dclip0"><rect x="336.6" y="114.3" width="111" height="380.9"/></clipPath><clipPath id="dclip1"><rect x="451.8" y="114.3" width="111" height="380.9"/></clipPath><clipPath id="dclip2"><rect x="567" y="114.3" width="111" height="380.9"/></clipPath></defs>
<g clip-path="url(#dclip0)">
<path d="M421.78 216.67 L421.77 218.65 L421.74 220.74 L421.68 222.93 L421.59 225.21 L421.49 227.6 L421.36 230.08 L421.2 232.66 L421.03 235.33 L420.83 238.09 L420.62 240.94 L420.38 243.87 L420.12 246.88 L419.83 249.98 L419.53 253.14 L419.21 256.38 L418.87 259.68 L418.5 263.05 L418.12 266.48 L417.72 269.96 L417.31 273.5 L416.87 277.08 L416.42 280.71 L415.95 284.37 L415.47 288.07 L414.97 291.81 L414.45 295.56 L413.92 299.34 L413.38 303.13 L412.82 306.94 L412.26 310.76 L411.68 314.57 L411.09 318.39 L410.49 322.2 L409.88 326 L409.26 329.79 L408.63 333.56 L408 337.3 L407.36 341.02 L406.71 344.7 L406.06 348.34 L405.41 351.95 L404.75 355.51 L404.09 359.02 L403.42 362.47 L402.76 365.87 L402.1 369.2 L401.43 372.47 L400.77 375.67 L400.11 378.8 L399.45 381.85 L398.79 384.82 L398.14 387.7 L397.5 390.5 L396.85 393.22 L396.22 395.83 L395.59 398.36 L394.97 400.79 L394.35 403.11 L393.74 405.34 L393.14 407.47 L392.55 409.49 L391.97 411.41 L391.39 413.23 L390.81 414.94 L390.25 416.56 L389.68 418.08 L389.1 419.51 L388.52 420.87 L387.91 422.16 L387.25 423.41 L386.5 424.65 L385.59 425.93 L384.36 427.32 L382.5 428.83 L379.52 430.24 L375.24 430.64 L371.04 429.26 L368.3 427.04 L366.81 424.97 L365.97 423.23 L365.44 421.7 L365.08 420.28 L364.81 418.89 L364.61 417.48 L364.45 416.03 L364.32 414.51 L364.23 412.9 L364.17 411.21 L364.13 409.42 L364.12 407.53 L364.13 405.55 L364.16 403.46 L364.22 401.27 L364.31 398.99 L364.41 396.6 L364.54 394.12 L364.7 391.54 L364.87 388.87 L365.07 386.11 L365.28 383.26 L365.52 380.33 L365.78 377.32 L366.07 374.22 L366.37 371.06 L366.69 367.82 L367.03 364.52 L367.4 361.15 L367.78 357.72 L368.18 354.24 L368.59 350.7 L369.03 347.12 L369.48 343.49 L369.95 339.83 L370.43 336.13 L370.93 332.39 L371.45 328.64 L371.98 324.86 L372.52 321.07 L373.08 317.26 L373.64 313.44 L374.22 309.63 L374.81 305.81 L375.41 302 L376.02 298.2 L376.64 294.41 L377.27 290.64 L377.9 286.9 L378.54 283.18 L379.19 279.5 L379.84 275.86 L380.49 272.25 L381.15 268.69 L381.81 265.18 L382.48 261.73 L383.14 258.33 L383.8 255 L384.47 251.73 L385.13 248.53 L385.79 245.4 L386.45 242.35 L387.11 239.38 L387.76 236.5 L388.4 233.7 L389.05 230.98 L389.68 228.37 L390.31 225.84 L390.93 223.41 L391.55 221.09 L392.16 218.86 L392.76 216.73 L393.35 214.71 L393.93 212.79 L394.51 210.97 L395.09 209.26 L395.65 207.64 L396.22 206.12 L396.8 204.69 L397.38 203.33 L397.99 202.04 L398.65 200.79 L399.4 199.55 L400.31 198.27 L401.54 196.88 L403.4 195.37 L406.38 193.96 L410.66 193.56 L414.86 194.94 L417.6 197.16 L419.09 199.23 L419.93 200.97 L420.46 202.5 L420.82 203.92 L421.09 205.31 L421.29 206.72 L421.45 208.17 L421.58 209.69 L421.67 211.3 L421.73 212.99 L421.77 214.78Z" stroke="#00ffff" stroke-width="1" fill="none"/>
<path d="M421.61 228.17 L421.59 229.83 L421.52 231.52 L421.42 233.25 L421.27 235.02 L421.09 236.82 L420.87 238.67 L420.61 240.55 L420.31 242.47 L419.98 244.42 L419.62 246.41 L419.21 248.43 L418.78 250.48 L418.31 252.56 L417.8 254.67 L417.26 256.81 L416.7 258.97 L416.1 261.15 L415.47 263.35 L414.8 265.57 L414.11 267.8 L413.4 270.04 L412.65 272.3 L411.88 274.56 L411.08 276.83 L410.26 279.1 L409.41 281.38 L408.54 283.65 L407.65 285.92 L406.73 288.18 L405.8 290.43 L404.84 292.67 L403.87 294.89 L402.88 297.1 L401.88 299.29 L400.86 301.46 L399.83 303.6 L398.78 305.72 L397.72 307.81 L396.65 309.87 L395.57 311.9 L394.49 313.89 L393.39 315.85 L392.29 317.77 L391.18 319.65 L390.07 321.48 L388.95 323.27 L387.83 325.01 L386.71 326.71 L385.59 328.36 L384.46 329.96 L383.33 331.5 L382.21 333 L381.08 334.44 L379.95 335.82 L378.82 337.15 L377.69 338.43 L376.55 339.65 L375.41 340.81 L374.26 341.91 L373.1 342.96 L371.92 343.95 L370.72 344.89 L369.5 345.76 L368.24 346.57 L366.93 347.32 L365.56 347.99 L364.12 348.58 L362.59 349.07 L360.97 349.44 L359.24 349.66 L357.44 349.69 L355.57 349.49 L353.7 349.05 L351.88 348.35 L350.18 347.43 L348.64 346.32 L347.3 345.07 L346.16 343.73 L345.2 342.35 L344.4 340.94 L343.74 339.51 L343.2 338.08 L342.75 336.63 L342.39 335.17 L342.1 333.7 L341.87 332.2 L341.7 330.68 L341.58 329.13 L341.51 327.55 L341.49 325.93 L341.51 324.27 L341.58 322.58 L341.68 320.85 L341.83 319.08 L342.01 317.28 L342.23 315.43 L342.49 313.55 L342.79 311.63 L343.12 309.68 L343.48 307.69 L343.89 305.67 L344.32 303.62 L344.79 301.54 L345.3 299.43 L345.84 297.29 L346.4 295.13 L347 292.95 L347.63 290.75 L348.3 288.53 L348.99 286.3 L349.7 284.06 L350.45 281.8 L351.22 279.54 L352.02 277.27 L352.84 275 L353.69 272.72 L354.56 270.45 L355.45 268.18 L356.37 265.92 L357.3 263.67 L358.26 261.43 L359.23 259.21 L360.22 257 L361.22 254.81 L362.24 252.64 L363.27 250.5 L364.32 248.38 L365.38 246.29 L366.45 244.23 L367.53 242.2 L368.61 240.21 L369.71 238.25 L370.81 236.33 L371.92 234.45 L373.03 232.62 L374.15 230.83 L375.27 229.09 L376.39 227.39 L377.51 225.74 L378.64 224.14 L379.77 222.6 L380.89 221.1 L382.02 219.66 L383.15 218.28 L384.28 216.95 L385.41 215.67 L386.55 214.45 L387.69 213.29 L388.84 212.19 L390 211.14 L391.18 210.15 L392.38 209.21 L393.6 208.34 L394.86 207.53 L396.17 206.78 L397.54 206.11 L398.98 205.52 L400.51 205.03 L402.13 204.66 L403.86 204.44 L405.66 204.41 L407.53 204.61 L409.4 205.05 L411.22 205.75 L412.92 206.67 L414.46 207.78 L415.8 209.03 L416.94 210.37 L417.9 211.75 L418.7 213.16 L419.36 214.59 L419.9 216.02 L420.35 217.47 L420.71 218.93 L421 220.4 L421.23 221.9 L421.4 223.42 L421.52 224.97 L421.59 226.55Z" stroke="#00ff00" stroke-width="1" fill="none"/>
<path d="M406.54 236.71 L406.51 237.7 L406.44 238.62 L406.34 239.51 L406.21 240.39 L406.06 241.28 L405.88 242.19 L405.68 243.14 L405.46 244.12 L405.21 245.13 L404.95 246.19 L404.66 247.29 L404.35 248.43 L404.01 249.61 L403.66 250.83 L403.28 252.1 L402.88 253.41 L402.47 254.75 L402.03 256.14 L401.57 257.56 L401.09 259.02 L400.59 260.52 L400.07 262.05 L399.54 263.61 L398.99 265.2 L398.42 266.82 L397.83 268.47 L397.23 270.15 L396.62 271.84 L395.99 273.56 L395.34 275.3 L394.69 277.06 L394.02 278.83 L393.34 280.61 L392.65 282.41 L391.95 284.22 L391.24 286.03 L390.53 287.85 L389.8 289.67 L389.07 291.5 L388.34 293.32 L387.6 295.14 L386.86 296.95 L386.11 298.76 L385.36 300.55 L384.62 302.34 L383.87 304.11 L383.12 305.87 L382.37 307.6 L381.63 309.32 L380.89 311.02 L380.15 312.69 L379.42 314.34 L378.69 315.95 L377.97 317.54 L377.26 319.1 L376.55 320.63 L375.85 322.12 L375.17 323.57 L374.49 324.99 L373.83 326.37 L373.17 327.71 L372.53 329.01 L371.9 330.26 L371.28 331.47 L370.68 332.64 L370.09 333.76 L369.51 334.84 L368.94 335.87 L368.39 336.85 L367.85 337.79 L367.33 338.69 L366.81 339.54 L366.3 340.36 L365.79 341.13 L365.28 341.88 L364.76 342.6 L364.22 343.31 L363.62 344.02 L362.94 344.76 L362.11 345.55 L360.98 346.43 L359.31 347.39 L356.67 348.23 L352.78 348.2 L348.7 346.42 L346.12 343.71 L344.95 341.35 L344.48 339.58 L344.3 338.21 L344.26 337.09 L344.29 336.1 L344.36 335.18 L344.46 334.29 L344.59 333.41 L344.74 332.52 L344.92 331.61 L345.12 330.66 L345.34 329.68 L345.59 328.67 L345.85 327.61 L346.14 326.51 L346.45 325.37 L346.79 324.19 L347.14 322.97 L347.52 321.7 L347.92 320.39 L348.33 319.05 L348.77 317.66 L349.23 316.24 L349.71 314.78 L350.21 313.28 L350.73 311.75 L351.26 310.19 L351.81 308.6 L352.38 306.98 L352.97 305.33 L353.57 303.65 L354.18 301.96 L354.81 300.24 L355.46 298.5 L356.11 296.74 L356.78 294.97 L357.46 293.19 L358.15 291.39 L358.85 289.58 L359.56 287.77 L360.27 285.95 L361 284.13 L361.73 282.3 L362.46 280.48 L363.2 278.66 L363.94 276.85 L364.69 275.04 L365.44 273.25 L366.18 271.46 L366.93 269.69 L367.68 267.93 L368.43 266.2 L369.17 264.48 L369.91 262.78 L370.65 261.11 L371.38 259.46 L372.11 257.85 L372.83 256.26 L373.54 254.7 L374.25 253.17 L374.95 251.68 L375.63 250.23 L376.31 248.81 L376.97 247.43 L377.63 246.09 L378.27 244.79 L378.9 243.54 L379.52 242.33 L380.12 241.16 L380.71 240.04 L381.29 238.96 L381.86 237.93 L382.41 236.95 L382.95 236.01 L383.47 235.11 L383.99 234.26 L384.5 233.44 L385.01 232.67 L385.52 231.92 L386.04 231.2 L386.58 230.49 L387.18 229.78 L387.86 229.04 L388.69 228.25 L389.82 227.37 L391.49 226.41 L394.13 225.57 L398.02 225.6 L402.1 227.38 L404.68 230.09 L405.85 232.45 L406.32 234.22 L406.5 235.59Z" stroke="#ff0000" stroke-width="1" fill="none"/>
<path d="M427.33 338.22 L427.32 341.56 L427.31 344.9 L427.28 348.26 L427.24 351.61 L427.18 354.96 L427.12 358.31 L427.04 361.65 L426.96 364.97 L426.86 368.28 L426.75 371.56 L426.63 374.83 L426.5 378.06 L426.35 381.26 L426.2 384.42 L426.04 387.54 L425.86 390.62 L425.68 393.65 L425.49 396.63 L425.28 399.56 L425.07 402.43 L424.85 405.24 L424.62 407.99 L424.38 410.67 L424.13 413.28 L423.87 415.81 L423.61 418.28 L423.33 420.66 L423.05 422.97 L422.76 425.19 L422.46 427.33 L422.16 429.39 L421.84 431.37 L421.52 433.25 L421.19 435.06 L420.85 436.77 L420.5 438.41 L420.14 439.96 L419.76 441.44 L419.37 442.84 L418.94 444.19 L418.48 445.49 L417.97 446.77 L417.36 448.04 L416.62 449.36 L415.63 450.77 L414.2 452.3 L412.05 453.86 L408.92 455.05 L405.14 455.2 L401.75 454.17 L399.35 452.6 L397.78 451 L396.72 449.53 L395.95 448.17 L395.34 446.87 L394.84 445.58 L394.39 444.28 L393.99 442.94 L393.62 441.54 L393.28 440.08 L392.95 438.54 L392.64 436.92 L392.34 435.23 L392.05 433.44 L391.77 431.57 L391.51 429.62 L391.25 427.58 L391.01 425.46 L390.77 423.25 L390.55 420.96 L390.33 418.59 L390.12 416.15 L389.93 413.63 L389.74 411.03 L389.57 408.37 L389.4 405.64 L389.25 402.85 L389.11 399.99 L388.97 397.08 L388.85 394.11 L388.74 391.09 L388.64 388.02 L388.56 384.9 L388.48 381.75 L388.42 378.56 L388.36 375.33 L388.32 372.08 L388.29 368.8 L388.28 365.5 L388.27 362.18 L388.28 358.84 L388.29 355.5 L388.32 352.14 L388.36 348.79 L388.42 345.44 L388.48 342.09 L388.56 338.75 L388.64 335.43 L388.74 332.12 L388.85 328.84 L388.97 325.57 L389.1 322.34 L389.25 319.14 L389.4 315.98 L389.56 312.86 L389.74 309.78 L389.92 306.75 L390.11 303.77 L390.32 300.84 L390.53 297.97 L390.75 295.16 L390.98 292.41 L391.22 289.73 L391.47 287.12 L391.73 284.59 L391.99 282.12 L392.27 279.74 L392.55 277.43 L392.84 275.21 L393.14 273.07 L393.44 271.01 L393.76 269.03 L394.08 267.15 L394.41 265.34 L394.75 263.63 L395.1 261.99 L395.46 260.44 L395.84 258.96 L396.23 257.56 L396.66 256.21 L397.12 254.91 L397.63 253.63 L398.24 252.36 L398.98 251.04 L399.97 249.63 L401.4 248.1 L403.55 246.54 L406.68 245.35 L410.46 245.2 L413.85 246.23 L416.25 247.8 L417.82 249.4 L418.88 250.87 L419.65 252.23 L420.26 253.53 L420.76 254.82 L421.21 256.12 L421.61 257.46 L421.98 258.86 L422.32 260.32 L422.65 261.86 L422.96 263.48 L423.26 265.17 L423.55 266.96 L423.83 268.83 L424.09 270.78 L424.35 272.82 L424.59 274.94 L424.83 277.15 L425.05 279.44 L425.27 281.81 L425.48 284.25 L425.67 286.77 L425.86 289.37 L426.03 292.03 L426.2 294.76 L426.35 297.55 L426.49 300.41 L426.63 303.32 L426.75 306.29 L426.86 309.31 L426.96 312.38 L427.04 315.5 L427.12 318.65 L427.18 321.84 L427.24 325.07 L427.28 328.32 L427.31 331.6 L427.32 334.9Z" stroke="#00008b" stroke-width="1.25" fill="none" stroke-dasharray="0.01 2.1" stroke-linecap="round"/>
<path d="M413.06 287.89 L413.05 288.65 L413.03 289.41 L413 290.17 L412.95 290.92 L412.9 291.68 L412.83 292.43 L412.74 293.17 L412.65 293.91 L412.54 294.65 L412.41 295.38 L412.27 296.11 L412.12 296.83 L411.95 297.55 L411.77 298.27 L411.57 298.97 L411.36 299.68 L411.13 300.37 L410.88 301.06 L410.61 301.75 L410.32 302.43 L410.01 303.1 L409.68 303.77 L409.32 304.44 L408.94 305.09 L408.53 305.74 L408.09 306.38 L407.61 307.02 L407.1 307.64 L406.55 308.26 L405.96 308.85 L405.32 309.44 L404.63 309.99 L403.9 310.53 L403.12 311.03 L402.28 311.48 L401.4 311.9 L400.47 312.25 L399.5 312.55 L398.5 312.77 L397.48 312.92 L396.45 312.99 L395.42 312.99 L394.4 312.91 L393.4 312.75 L392.43 312.53 L391.5 312.25 L390.61 311.91 L389.76 311.53 L388.96 311.11 L388.21 310.66 L387.5 310.17 L386.83 309.67 L386.19 309.14 L385.6 308.59 L385.04 308.04 L384.51 307.46 L384.01 306.88 L383.54 306.29 L383.09 305.68 L382.66 305.07 L382.26 304.45 L381.88 303.81 L381.51 303.18 L381.17 302.53 L380.84 301.87 L380.52 301.21 L380.22 300.54 L379.94 299.86 L379.67 299.17 L379.41 298.48 L379.17 297.78 L378.94 297.07 L378.72 296.36 L378.52 295.64 L378.33 294.91 L378.15 294.18 L377.99 293.44 L377.83 292.7 L377.69 291.96 L377.56 291.21 L377.45 290.46 L377.34 289.7 L377.25 288.94 L377.17 288.18 L377.1 287.42 L377.04 286.66 L377 285.9 L376.97 285.13 L376.95 284.37 L376.94 283.61 L376.95 282.85 L376.97 282.09 L377 281.33 L377.05 280.58 L377.1 279.82 L377.17 279.07 L377.26 278.33 L377.35 277.59 L377.46 276.85 L377.59 276.12 L377.73 275.39 L377.88 274.67 L378.05 273.95 L378.23 273.23 L378.43 272.53 L378.64 271.82 L378.87 271.13 L379.12 270.44 L379.39 269.75 L379.68 269.07 L379.99 268.4 L380.32 267.73 L380.68 267.06 L381.06 266.41 L381.47 265.76 L381.91 265.12 L382.39 264.48 L382.9 263.86 L383.45 263.24 L384.04 262.65 L384.68 262.06 L385.37 261.51 L386.1 260.97 L386.88 260.47 L387.72 260.02 L388.6 259.6 L389.53 259.25 L390.5 258.95 L391.5 258.73 L392.52 258.58 L393.55 258.51 L394.58 258.51 L395.6 258.59 L396.6 258.75 L397.57 258.97 L398.5 259.25 L399.39 259.59 L400.24 259.97 L401.04 260.39 L401.79 260.84 L402.5 261.33 L403.17 261.83 L403.81 262.36 L404.4 262.91 L404.96 263.46 L405.49 264.04 L405.99 264.62 L406.46 265.21 L406.91 265.82 L407.34 266.43 L407.74 267.05 L408.12 267.69 L408.49 268.32 L408.83 268.97 L409.16 269.63 L409.48 270.29 L409.78 270.96 L410.06 271.64 L410.33 272.33 L410.59 273.02 L410.83 273.72 L411.06 274.43 L411.28 275.14 L411.48 275.86 L411.67 276.59 L411.85 277.32 L412.01 278.06 L412.17 278.8 L412.31 279.54 L412.44 280.29 L412.55 281.04 L412.66 281.8 L412.75 282.56 L412.83 283.32 L412.9 284.08 L412.96 284.84 L413 285.6 L413.03 286.37 L413.05 287.13Z" stroke="#8b0000" stroke-width="1.25" fill="none" stroke-dasharray="0.01 2.1" stroke-linecap="round"/>
<path d="M429.17 347.82 L429.16 349.95 L429.14 352.12 L429.1 354.35 L429.04 356.62 L428.97 358.94 L428.89 361.3 L428.78 363.7 L428.67 366.13 L428.54 368.6 L428.39 371.1 L428.23 373.62 L428.05 376.18 L427.86 378.75 L427.66 381.35 L427.44 383.96 L427.21 386.59 L426.97 389.23 L426.71 391.87 L426.44 394.52 L426.16 397.17 L425.86 399.82 L425.56 402.46 L425.24 405.1 L424.91 407.73 L424.58 410.34 L424.23 412.94 L423.87 415.51 L423.5 418.06 L423.12 420.59 L422.74 423.09 L422.35 425.56 L421.94 427.99 L421.54 430.39 L421.12 432.75 L420.7 435.06 L420.27 437.34 L419.84 439.56 L419.4 441.74 L418.96 443.86 L418.51 445.93 L418.05 447.94 L417.6 449.9 L417.14 451.8 L416.68 453.64 L416.21 455.42 L415.74 457.13 L415.26 458.78 L414.79 460.37 L414.31 461.89 L413.82 463.35 L413.32 464.75 L412.82 466.09 L412.31 467.37 L411.78 468.6 L411.23 469.79 L410.64 470.93 L410.01 472.05 L409.31 473.16 L408.51 474.26 L407.56 475.38 L406.37 476.53 L404.81 477.68 L402.76 478.71 L400.14 479.39 L397.17 479.41 L394.31 478.65 L392 477.38 L390.3 475.91 L389.08 474.47 L388.2 473.11 L387.54 471.81 L387.01 470.57 L386.58 469.34 L386.21 468.11 L385.89 466.86 L385.61 465.58 L385.36 464.26 L385.13 462.89 L384.93 461.47 L384.75 459.99 L384.59 458.45 L384.45 456.85 L384.33 455.19 L384.22 453.46 L384.13 451.68 L384.06 449.83 L384 447.93 L383.96 445.97 L383.94 443.95 L383.93 441.88 L383.94 439.75 L383.96 437.58 L384 435.35 L384.06 433.08 L384.13 430.76 L384.21 428.4 L384.32 426 L384.43 423.57 L384.56 421.1 L384.71 418.6 L384.87 416.08 L385.05 413.52 L385.24 410.95 L385.44 408.35 L385.66 405.74 L385.89 403.11 L386.13 400.47 L386.39 397.83 L386.66 395.18 L386.94 392.53 L387.24 389.88 L387.54 387.24 L387.86 384.6 L388.19 381.97 L388.52 379.36 L388.87 376.76 L389.23 374.19 L389.6 371.64 L389.98 369.11 L390.36 366.61 L390.75 364.14 L391.16 361.71 L391.56 359.31 L391.98 356.95 L392.4 354.64 L392.83 352.36 L393.26 350.14 L393.7 347.96 L394.14 345.84 L394.59 343.77 L395.05 341.76 L395.5 339.8 L395.96 337.9 L396.42 336.06 L396.89 334.28 L397.36 332.57 L397.84 330.92 L398.31 329.33 L398.79 327.81 L399.28 326.35 L399.78 324.95 L400.28 323.61 L400.79 322.33 L401.32 321.1 L401.87 319.91 L402.46 318.77 L403.09 317.65 L403.79 316.54 L404.59 315.44 L405.54 314.32 L406.73 313.17 L408.29 312.02 L410.34 310.99 L412.96 310.31 L415.93 310.29 L418.79 311.05 L421.1 312.32 L422.8 313.79 L424.02 315.23 L424.9 316.59 L425.56 317.89 L426.09 319.13 L426.52 320.36 L426.89 321.59 L427.21 322.84 L427.49 324.12 L427.74 325.44 L427.97 326.81 L428.17 328.23 L428.35 329.71 L428.51 331.25 L428.65 332.85 L428.77 334.51 L428.88 336.24 L428.97 338.02 L429.04 339.87 L429.1 341.77 L429.14 343.73 L429.16 345.75Z" stroke="#2e9a2e" stroke-width="1.25" fill="none" stroke-dasharray="0.01 2.1" stroke-linecap="round"/>
</g>
<line x1="412.6" y1="282" x2="430.7" y2="288.8" stroke="#8b0000" stroke-width="0.9"/>
<circle cx="409.6" cy="203.5" r="3.1" fill="#00ffff"/>
<circle cx="397" cy="266.5" r="3.1" fill="#00ffff"/>
<circle cx="377.4" cy="363.5" r="3.1" fill="#00ffff"/>
<circle cx="391.5" cy="369.2" r="3.1" fill="#00ffff"/>
<circle cx="408.7" cy="221.1" r="3.1" fill="#00ff00"/>
<circle cx="362.1" cy="281.1" r="3.1" fill="#00ff00"/>
<circle cx="371.6" cy="329" r="3.1" fill="#00ff00"/>
<circle cx="396.4" cy="238.4" r="3.1" fill="#ff0000"/>
<circle cx="365.8" cy="297.5" r="3.1" fill="#ff0000"/>
<circle cx="365.8" cy="319.4" r="3.1" fill="#ff0000"/>
<circle cx="364" cy="325.5" r="3.1" fill="#ff0000"/>
<rect x="392.1" y="268.8" width="6.4" height="6.2" fill="#8b0000"/>
<rect x="385.1" y="284.3" width="6.4" height="6.2" fill="#8b0000"/>
<rect x="399.9" y="296.1" width="6.4" height="6.2" fill="#8b0000"/>
<rect x="399.9" y="271.6" width="6.4" height="6.2" fill="#008b8b"/>
<rect x="405.4" y="332.7" width="6.4" height="6.2" fill="#008b8b"/>
<rect x="412.5" y="335.5" width="6.4" height="6.2" fill="#008b8b"/>
<rect x="397.4" y="435.1" width="6.4" height="6.2" fill="#008b8b"/>
<rect x="415.4" y="326.4" width="6.4" height="6.2" fill="#22a022"/>
<rect x="394.4" y="393.7" width="6.4" height="6.2" fill="#22a022"/>
<rect x="403.4" y="420.3" width="6.4" height="6.2" fill="#22a022"/>
<rect x="401" y="455.8" width="6.4" height="6.2" fill="#22a022"/>
<text x="398" y="191.4" font-size="7.2" font-weight="bold" fill="#00ffff" textLength="21.3" lengthAdjust="spacingAndGlyphs">WT_M</text>
<text x="367.8" y="211.8" font-size="7.2" font-weight="bold" fill="#00ff00" textLength="20" lengthAdjust="spacingAndGlyphs">WT_C</text>
<text x="422.7" y="250.9" font-size="7.2" font-weight="bold" fill="#00008b" textLength="26.8" lengthAdjust="spacingAndGlyphs">3xTg_M</text>
<text x="426.9" y="297.6" font-size="7.2" font-weight="bold" fill="#8b0000" textLength="26" lengthAdjust="spacingAndGlyphs">3xTg_K</text>
<text x="338" y="355.5" font-size="7.2" font-weight="bold" fill="#ff0000" textLength="19.8" lengthAdjust="spacingAndGlyphs">WT_K</text>
<text x="406.6" y="484" font-size="7.2" font-weight="bold" fill="#1e7a1e" textLength="26.3" lengthAdjust="spacingAndGlyphs">3xTg_C</text>
<rect x="337.1" y="114.8" width="60" height="46" fill="#fff"/>
<text x="343.7" y="125.5" font-size="10.2" fill="#000">Adonis2</text>
<text x="343.7" y="135.9" font-size="10.2" fill="#000">p=0.001</text>
<text x="343.7" y="146.3" font-size="10.2" fill="#000">R2= 0.52</text>
<text x="343.7" y="156.7" font-size="10.2" fill="#000">F=3.8507</text>
<rect x="336.6" y="114.3" width="111" height="380.9" fill="none" stroke="#333" stroke-width="0.9"/>
<rect x="336.6" y="102.2" width="111" height="12.1" fill="#d9d9d9" stroke="#333" stroke-width="0.9"/>
<text x="392.1" y="111.6" font-size="10.6" text-anchor="middle" fill="#1a1a1a" textLength="70.9" lengthAdjust="spacingAndGlyphs">1 month / 4Mo</text>
<line x1="363.22" y1="495.2" x2="363.22" y2="497.8" stroke="#333" stroke-width="0.7"/>
<text x="363.22" y="504" font-size="8.6" text-anchor="middle" fill="#4d4d4d">−0.4</text>
<line x1="392.1" y1="495.2" x2="392.1" y2="497.8" stroke="#333" stroke-width="0.7"/>
<text x="392.1" y="504" font-size="8.6" text-anchor="middle" fill="#4d4d4d">0.0</text>
<line x1="420.98" y1="495.2" x2="420.98" y2="497.8" stroke="#333" stroke-width="0.7"/>
<text x="420.98" y="504" font-size="8.6" text-anchor="middle" fill="#4d4d4d">0.4</text>
<g clip-path="url(#dclip1)">
<path d="M536.43 255.98 L536.42 259.88 L536.39 263.82 L536.35 267.79 L536.28 271.79 L536.2 275.81 L536.09 279.85 L535.97 283.9 L535.84 287.97 L535.68 292.03 L535.5 296.1 L535.31 300.16 L535.1 304.22 L534.88 308.25 L534.63 312.27 L534.37 316.26 L534.1 320.23 L533.81 324.16 L533.5 328.05 L533.18 331.9 L532.84 335.71 L532.48 339.46 L532.12 343.15 L531.74 346.79 L531.34 350.36 L530.94 353.86 L530.52 357.29 L530.09 360.64 L529.64 363.92 L529.19 367.11 L528.72 370.21 L528.25 373.23 L527.76 376.15 L527.27 378.98 L526.76 381.71 L526.24 384.34 L525.72 386.86 L525.19 389.29 L524.64 391.61 L524.09 393.82 L523.52 395.93 L522.94 397.94 L522.35 399.85 L521.74 401.66 L521.1 403.37 L520.44 405.01 L519.73 406.57 L518.96 408.07 L518.09 409.53 L517.09 410.97 L515.86 412.41 L514.29 413.85 L512.22 415.2 L509.52 416.23 L506.33 416.6 L503.14 416.08 L500.45 414.89 L498.42 413.39 L496.91 411.83 L495.77 410.29 L494.87 408.77 L494.11 407.25 L493.45 405.69 L492.86 404.09 L492.33 402.42 L491.83 400.66 L491.37 398.82 L490.93 396.89 L490.51 394.85 L490.12 392.72 L489.75 390.48 L489.39 388.13 L489.05 385.69 L488.74 383.14 L488.43 380.49 L488.15 377.74 L487.89 374.9 L487.64 371.96 L487.41 368.92 L487.2 365.8 L487 362.6 L486.83 359.31 L486.67 355.94 L486.53 352.5 L486.41 348.98 L486.3 345.4 L486.22 341.75 L486.15 338.05 L486.11 334.29 L486.08 330.48 L486.07 326.62 L486.08 322.72 L486.11 318.78 L486.15 314.81 L486.22 310.81 L486.3 306.79 L486.41 302.75 L486.53 298.7 L486.66 294.63 L486.82 290.57 L487 286.5 L487.19 282.44 L487.4 278.38 L487.62 274.35 L487.87 270.33 L488.13 266.34 L488.4 262.37 L488.69 258.44 L489 254.55 L489.32 250.7 L489.66 246.89 L490.02 243.14 L490.38 239.45 L490.76 235.81 L491.16 232.24 L491.56 228.74 L491.98 225.31 L492.41 221.96 L492.86 218.68 L493.31 215.49 L493.78 212.39 L494.25 209.37 L494.74 206.45 L495.23 203.62 L495.74 200.89 L496.26 198.26 L496.78 195.74 L497.31 193.31 L497.86 190.99 L498.41 188.78 L498.98 186.67 L499.56 184.66 L500.15 182.75 L500.76 180.94 L501.4 179.23 L502.06 177.59 L502.77 176.03 L503.54 174.53 L504.41 173.07 L505.41 171.63 L506.64 170.19 L508.21 168.75 L510.28 167.4 L512.98 166.37 L516.17 166 L519.36 166.52 L522.05 167.71 L524.08 169.21 L525.59 170.77 L526.73 172.31 L527.63 173.83 L528.39 175.35 L529.05 176.91 L529.64 178.51 L530.17 180.18 L530.67 181.94 L531.13 183.78 L531.57 185.71 L531.99 187.75 L532.38 189.88 L532.75 192.12 L533.11 194.47 L533.45 196.91 L533.76 199.46 L534.07 202.11 L534.35 204.86 L534.61 207.7 L534.86 210.64 L535.09 213.68 L535.3 216.8 L535.5 220 L535.67 223.29 L535.83 226.66 L535.97 230.1 L536.09 233.62 L536.2 237.2 L536.28 240.85 L536.35 244.55 L536.39 248.31 L536.42 252.12Z" stroke="#00008b" stroke-width="1.25" fill="none" stroke-dasharray="0.01 2.1" stroke-linecap="round"/>
<path d="M533.3 177.24 L533.29 178.09 L533.26 178.97 L533.21 179.89 L533.15 180.85 L533.07 181.87 L532.97 182.95 L532.87 184.09 L532.74 185.29 L532.6 186.55 L532.45 187.87 L532.28 189.25 L532.1 190.7 L531.91 192.2 L531.7 193.76 L531.47 195.38 L531.24 197.06 L530.99 198.79 L530.73 200.57 L530.45 202.4 L530.16 204.28 L529.86 206.2 L529.55 208.17 L529.23 210.18 L528.9 212.23 L528.56 214.31 L528.2 216.43 L527.84 218.58 L527.47 220.76 L527.09 222.97 L526.7 225.2 L526.3 227.46 L525.9 229.73 L525.49 232.02 L525.07 234.32 L524.65 236.63 L524.22 238.95 L523.78 241.28 L523.35 243.61 L522.9 245.93 L522.46 248.26 L522.01 250.58 L521.56 252.89 L521.11 255.19 L520.66 257.47 L520.2 259.74 L519.75 261.99 L519.3 264.21 L518.85 266.41 L518.39 268.58 L517.95 270.73 L517.5 272.84 L517.06 274.91 L516.62 276.95 L516.18 278.95 L515.75 280.91 L515.33 282.82 L514.91 284.68 L514.49 286.5 L514.09 288.26 L513.69 289.98 L513.29 291.64 L512.91 293.24 L512.53 294.78 L512.16 296.27 L511.8 297.7 L511.45 299.06 L511.1 300.36 L510.77 301.6 L510.45 302.78 L510.13 303.89 L509.82 304.95 L509.52 305.94 L509.23 306.87 L508.93 307.76 L508.64 308.59 L508.35 309.4 L508.03 310.18 L507.67 310.98 L507.24 311.86 L506.6 312.91 L505.49 314.34 L502.93 316.37 L496.93 317.65 L490.81 314.81 L488.6 311.66 L487.92 309.72 L487.67 308.42 L487.56 307.4 L487.52 306.51 L487.5 305.66 L487.51 304.81 L487.54 303.93 L487.59 303.01 L487.65 302.05 L487.73 301.03 L487.83 299.95 L487.93 298.81 L488.06 297.61 L488.2 296.35 L488.35 295.03 L488.52 293.65 L488.7 292.2 L488.89 290.7 L489.1 289.14 L489.33 287.52 L489.56 285.84 L489.81 284.11 L490.07 282.33 L490.35 280.5 L490.64 278.62 L490.94 276.7 L491.25 274.73 L491.57 272.72 L491.9 270.67 L492.24 268.59 L492.6 266.47 L492.96 264.32 L493.33 262.14 L493.71 259.93 L494.1 257.7 L494.5 255.44 L494.9 253.17 L495.31 250.88 L495.73 248.58 L496.15 246.27 L496.58 243.95 L497.02 241.62 L497.45 239.29 L497.9 236.97 L498.34 234.64 L498.79 232.32 L499.24 230.01 L499.69 227.71 L500.14 225.43 L500.6 223.16 L501.05 220.91 L501.5 218.69 L501.95 216.49 L502.41 214.32 L502.85 212.17 L503.3 210.06 L503.74 207.99 L504.18 205.95 L504.62 203.95 L505.05 201.99 L505.47 200.08 L505.89 198.22 L506.31 196.4 L506.71 194.64 L507.11 192.92 L507.51 191.26 L507.89 189.66 L508.27 188.12 L508.64 186.63 L509 185.2 L509.35 183.84 L509.7 182.54 L510.03 181.3 L510.35 180.12 L510.67 179.01 L510.98 177.95 L511.28 176.96 L511.57 176.03 L511.87 175.14 L512.16 174.31 L512.45 173.5 L512.77 172.72 L513.13 171.92 L513.56 171.04 L514.2 169.99 L515.31 168.56 L517.87 166.53 L523.87 165.25 L529.99 168.09 L532.2 171.24 L532.88 173.18 L533.13 174.48 L533.24 175.5 L533.28 176.39Z" stroke="#8b0000" stroke-width="1.25" fill="none" stroke-dasharray="0.01 2.1" stroke-linecap="round"/>
<path d="M517.74 292.63 L517.74 294.73 L517.72 296.82 L517.69 298.9 L517.65 300.97 L517.59 303.03 L517.52 305.06 L517.44 307.08 L517.35 309.07 L517.25 311.04 L517.13 312.98 L517 314.89 L516.86 316.78 L516.71 318.63 L516.55 320.45 L516.37 322.23 L516.19 323.97 L515.99 325.68 L515.78 327.35 L515.56 328.97 L515.33 330.55 L515.08 332.09 L514.83 333.58 L514.56 335.03 L514.28 336.43 L513.98 337.79 L513.68 339.11 L513.35 340.38 L513.01 341.61 L512.65 342.81 L512.27 343.96 L511.86 345.09 L511.42 346.19 L510.94 347.27 L510.39 348.34 L509.78 349.41 L509.06 350.49 L508.19 351.59 L507.12 352.71 L505.78 353.81 L504.1 354.83 L502.06 355.64 L499.72 356.06 L497.3 356 L495.04 355.48 L493.1 354.63 L491.53 353.61 L490.28 352.54 L489.26 351.46 L488.43 350.39 L487.72 349.34 L487.1 348.29 L486.55 347.23 L486.05 346.16 L485.58 345.06 L485.15 343.94 L484.74 342.78 L484.35 341.58 L483.98 340.35 L483.62 339.07 L483.28 337.75 L482.95 336.38 L482.63 334.97 L482.32 333.51 L482.02 332.01 L481.73 330.46 L481.45 328.87 L481.18 327.24 L480.93 325.56 L480.68 323.85 L480.44 322.1 L480.22 320.31 L480 318.48 L479.79 316.62 L479.6 314.73 L479.42 312.81 L479.24 310.86 L479.08 308.89 L478.93 306.89 L478.79 304.87 L478.67 302.83 L478.55 300.77 L478.45 298.7 L478.36 296.62 L478.28 294.52 L478.21 292.42 L478.15 290.31 L478.11 288.2 L478.08 286.09 L478.06 283.98 L478.06 281.87 L478.06 279.77 L478.08 277.68 L478.11 275.6 L478.15 273.53 L478.21 271.47 L478.28 269.44 L478.36 267.42 L478.45 265.43 L478.55 263.46 L478.67 261.52 L478.8 259.61 L478.94 257.72 L479.09 255.87 L479.25 254.05 L479.43 252.27 L479.61 250.53 L479.81 248.82 L480.02 247.15 L480.24 245.53 L480.47 243.95 L480.72 242.41 L480.97 240.92 L481.24 239.47 L481.52 238.07 L481.82 236.71 L482.12 235.39 L482.45 234.12 L482.79 232.89 L483.15 231.69 L483.53 230.54 L483.94 229.41 L484.38 228.31 L484.86 227.23 L485.41 226.16 L486.02 225.09 L486.74 224.01 L487.61 222.91 L488.68 221.79 L490.02 220.69 L491.7 219.67 L493.74 218.86 L496.08 218.44 L498.5 218.5 L500.76 219.02 L502.7 219.87 L504.27 220.89 L505.52 221.96 L506.54 223.04 L507.37 224.11 L508.08 225.16 L508.7 226.21 L509.25 227.27 L509.75 228.34 L510.22 229.44 L510.65 230.56 L511.06 231.72 L511.45 232.92 L511.82 234.15 L512.18 235.43 L512.52 236.75 L512.85 238.12 L513.17 239.53 L513.48 240.99 L513.78 242.49 L514.07 244.04 L514.35 245.63 L514.62 247.26 L514.87 248.94 L515.12 250.65 L515.36 252.4 L515.58 254.19 L515.8 256.02 L516.01 257.88 L516.2 259.77 L516.38 261.69 L516.56 263.64 L516.72 265.61 L516.87 267.61 L517.01 269.63 L517.13 271.67 L517.25 273.73 L517.35 275.8 L517.44 277.88 L517.52 279.98 L517.59 282.08 L517.65 284.19 L517.69 286.3 L517.72 288.41 L517.74 290.52Z" stroke="#00ffff" stroke-width="1" fill="none"/>
<path d="M531.18 253.62 L531.17 255.41 L531.12 257.22 L531.05 259.08 L530.96 260.96 L530.83 262.88 L530.68 264.82 L530.5 266.79 L530.29 268.79 L530.06 270.82 L529.8 272.86 L529.52 274.93 L529.21 277.01 L528.88 279.11 L528.52 281.22 L528.14 283.35 L527.73 285.48 L527.31 287.63 L526.86 289.77 L526.39 291.93 L525.89 294.08 L525.38 296.23 L524.85 298.37 L524.29 300.51 L523.72 302.64 L523.13 304.76 L522.52 306.86 L521.89 308.95 L521.25 311.03 L520.59 313.08 L519.91 315.11 L519.23 317.11 L518.52 319.09 L517.81 321.04 L517.08 322.97 L516.33 324.85 L515.58 326.71 L514.82 328.53 L514.04 330.31 L513.26 332.05 L512.46 333.75 L511.66 335.41 L510.84 337.03 L510.02 338.6 L509.19 340.13 L508.35 341.61 L507.5 343.04 L506.65 344.42 L505.78 345.76 L504.9 347.05 L504 348.29 L503.09 349.48 L502.17 350.62 L501.22 351.72 L500.24 352.76 L499.23 353.76 L498.19 354.71 L497.09 355.61 L495.93 356.46 L494.7 357.24 L493.38 357.96 L491.96 358.58 L490.43 359.1 L488.79 359.47 L487.04 359.68 L485.23 359.67 L483.39 359.43 L481.58 358.95 L479.87 358.24 L478.31 357.36 L476.9 356.34 L475.67 355.21 L474.6 354.03 L473.67 352.8 L472.87 351.55 L472.17 350.28 L471.57 348.98 L471.03 347.67 L470.57 346.33 L470.15 344.97 L469.79 343.58 L469.48 342.16 L469.2 340.71 L468.96 339.22 L468.76 337.7 L468.59 336.14 L468.45 334.54 L468.35 332.91 L468.28 331.24 L468.23 329.52 L468.22 327.78 L468.23 325.99 L468.28 324.18 L468.35 322.32 L468.44 320.44 L468.57 318.52 L468.72 316.58 L468.9 314.61 L469.11 312.61 L469.34 310.58 L469.6 308.54 L469.88 306.47 L470.19 304.39 L470.52 302.29 L470.88 300.18 L471.26 298.05 L471.67 295.92 L472.09 293.77 L472.54 291.63 L473.01 289.47 L473.51 287.32 L474.02 285.17 L474.55 283.03 L475.11 280.89 L475.68 278.76 L476.27 276.64 L476.88 274.54 L477.51 272.45 L478.15 270.37 L478.81 268.32 L479.49 266.29 L480.17 264.29 L480.88 262.31 L481.59 260.36 L482.32 258.43 L483.07 256.55 L483.82 254.69 L484.58 252.87 L485.36 251.09 L486.14 249.35 L486.94 247.65 L487.74 245.99 L488.56 244.37 L489.38 242.8 L490.21 241.27 L491.05 239.79 L491.9 238.36 L492.75 236.98 L493.62 235.64 L494.5 234.35 L495.4 233.11 L496.31 231.92 L497.23 230.78 L498.18 229.68 L499.16 228.64 L500.17 227.64 L501.21 226.69 L502.31 225.79 L503.47 224.94 L504.7 224.16 L506.02 223.44 L507.44 222.82 L508.97 222.3 L510.61 221.93 L512.36 221.72 L514.17 221.73 L516.01 221.97 L517.82 222.45 L519.53 223.16 L521.09 224.04 L522.5 225.06 L523.73 226.19 L524.8 227.37 L525.73 228.6 L526.53 229.85 L527.23 231.12 L527.83 232.42 L528.37 233.73 L528.83 235.07 L529.25 236.43 L529.61 237.82 L529.92 239.24 L530.2 240.69 L530.44 242.18 L530.64 243.7 L530.81 245.26 L530.95 246.86 L531.05 248.49 L531.12 250.16 L531.17 251.88Z" stroke="#ff0000" stroke-width="1" fill="none"/>
<path d="M536.67 265.31 L536.63 266.49 L536.54 267.66 L536.4 268.8 L536.21 269.93 L535.97 271.05 L535.7 272.17 L535.39 273.29 L535.04 274.41 L534.66 275.54 L534.24 276.68 L533.79 277.82 L533.31 278.97 L532.8 280.13 L532.26 281.3 L531.69 282.48 L531.09 283.68 L530.45 284.88 L529.8 286.09 L529.11 287.31 L528.39 288.53 L527.65 289.77 L526.89 291.01 L526.1 292.26 L525.28 293.51 L524.44 294.76 L523.58 296.02 L522.7 297.28 L521.8 298.54 L520.87 299.8 L519.93 301.06 L518.97 302.31 L517.99 303.56 L517 304.81 L515.99 306.04 L514.97 307.27 L513.93 308.49 L512.89 309.7 L511.83 310.9 L510.76 312.08 L509.69 313.25 L508.6 314.41 L507.51 315.55 L506.42 316.67 L505.32 317.77 L504.21 318.85 L503.11 319.92 L502 320.96 L500.89 321.97 L499.78 322.96 L498.68 323.93 L497.57 324.87 L496.47 325.79 L495.37 326.68 L494.28 327.53 L493.19 328.36 L492.1 329.16 L491.02 329.93 L489.95 330.67 L488.88 331.38 L487.81 332.06 L486.75 332.7 L485.7 333.31 L484.64 333.88 L483.59 334.42 L482.53 334.93 L481.47 335.4 L480.41 335.83 L479.33 336.22 L478.24 336.57 L477.12 336.88 L475.98 337.13 L474.8 337.33 L473.58 337.45 L472.31 337.5 L470.98 337.45 L469.6 337.28 L468.18 336.96 L466.73 336.49 L465.29 335.83 L463.9 334.98 L462.6 333.95 L461.45 332.78 L460.46 331.5 L459.65 330.17 L459.01 328.81 L458.54 327.46 L458.2 326.14 L457.99 324.85 L457.87 323.6 L457.83 322.39 L457.87 321.21 L457.96 320.04 L458.1 318.9 L458.29 317.77 L458.53 316.65 L458.8 315.53 L459.11 314.41 L459.46 313.29 L459.84 312.16 L460.26 311.02 L460.71 309.88 L461.19 308.73 L461.7 307.57 L462.24 306.4 L462.81 305.22 L463.41 304.02 L464.05 302.82 L464.7 301.61 L465.39 300.39 L466.11 299.17 L466.85 297.93 L467.61 296.69 L468.4 295.44 L469.22 294.19 L470.06 292.94 L470.92 291.68 L471.8 290.42 L472.7 289.16 L473.63 287.9 L474.57 286.64 L475.53 285.39 L476.51 284.14 L477.5 282.89 L478.51 281.66 L479.53 280.43 L480.57 279.21 L481.61 278 L482.67 276.8 L483.74 275.62 L484.81 274.45 L485.9 273.29 L486.99 272.15 L488.08 271.03 L489.18 269.93 L490.29 268.85 L491.39 267.78 L492.5 266.74 L493.61 265.73 L494.72 264.74 L495.82 263.77 L496.93 262.83 L498.03 261.91 L499.13 261.02 L500.22 260.17 L501.31 259.34 L502.4 258.54 L503.48 257.77 L504.55 257.03 L505.62 256.32 L506.69 255.64 L507.75 255 L508.8 254.39 L509.86 253.82 L510.91 253.28 L511.97 252.77 L513.03 252.3 L514.09 251.87 L515.17 251.48 L516.26 251.13 L517.38 250.82 L518.52 250.57 L519.7 250.37 L520.92 250.25 L522.19 250.2 L523.52 250.25 L524.9 250.42 L526.32 250.74 L527.77 251.21 L529.21 251.87 L530.6 252.72 L531.9 253.75 L533.05 254.92 L534.04 256.2 L534.85 257.53 L535.49 258.89 L535.96 260.24 L536.3 261.56 L536.51 262.85 L536.63 264.1Z" stroke="#00ff00" stroke-width="1" fill="none"/>
<path d="M541.63 408.33 L541.62 409.86 L541.58 411.38 L541.53 412.89 L541.46 414.38 L541.36 415.86 L541.24 417.33 L541.1 418.77 L540.94 420.21 L540.75 421.62 L540.54 423.01 L540.31 424.38 L540.06 425.73 L539.78 427.06 L539.48 428.36 L539.16 429.65 L538.81 430.9 L538.43 432.14 L538.03 433.35 L537.6 434.53 L537.14 435.69 L536.64 436.83 L536.12 437.94 L535.55 439.03 L534.95 440.09 L534.3 441.13 L533.6 442.14 L532.85 443.13 L532.04 444.08 L531.16 445 L530.21 445.88 L529.19 446.7 L528.08 447.47 L526.9 448.17 L525.63 448.78 L524.29 449.29 L522.89 449.69 L521.45 449.95 L519.99 450.09 L518.52 450.08 L517.08 449.94 L515.68 449.69 L514.33 449.32 L513.04 448.85 L511.82 448.3 L510.67 447.68 L509.58 447 L508.55 446.26 L507.57 445.48 L506.65 444.66 L505.78 443.8 L504.94 442.91 L504.14 441.98 L503.38 441.02 L502.64 440.03 L501.94 439.01 L501.26 437.96 L500.6 436.88 L499.97 435.77 L499.36 434.63 L498.76 433.46 L498.19 432.26 L497.64 431.04 L497.1 429.78 L496.59 428.51 L496.09 427.2 L495.61 425.88 L495.15 424.53 L494.7 423.15 L494.28 421.76 L493.87 420.34 L493.48 418.91 L493.11 417.45 L492.75 415.98 L492.42 414.5 L492.11 413 L491.81 411.48 L491.53 409.96 L491.28 408.43 L491.04 406.88 L490.82 405.33 L490.62 403.78 L490.45 402.22 L490.29 400.66 L490.15 399.09 L490.04 397.53 L489.94 395.97 L489.87 394.41 L489.81 392.86 L489.78 391.31 L489.77 389.77 L489.78 388.24 L489.82 386.72 L489.87 385.21 L489.94 383.72 L490.04 382.24 L490.16 380.77 L490.3 379.33 L490.46 377.89 L490.65 376.48 L490.86 375.09 L491.09 373.72 L491.34 372.37 L491.62 371.04 L491.92 369.74 L492.24 368.45 L492.59 367.2 L492.97 365.96 L493.37 364.75 L493.8 363.57 L494.26 362.41 L494.76 361.27 L495.28 360.16 L495.85 359.07 L496.45 358.01 L497.1 356.97 L497.8 355.96 L498.55 354.97 L499.36 354.02 L500.24 353.1 L501.19 352.22 L502.21 351.4 L503.32 350.63 L504.5 349.93 L505.77 349.32 L507.11 348.81 L508.51 348.41 L509.95 348.15 L511.41 348.01 L512.88 348.02 L514.32 348.16 L515.72 348.41 L517.07 348.78 L518.36 349.25 L519.58 349.8 L520.73 350.42 L521.82 351.1 L522.85 351.84 L523.83 352.62 L524.75 353.44 L525.62 354.3 L526.46 355.19 L527.26 356.12 L528.02 357.08 L528.76 358.07 L529.46 359.09 L530.14 360.14 L530.8 361.22 L531.43 362.33 L532.04 363.47 L532.64 364.64 L533.21 365.84 L533.76 367.06 L534.3 368.32 L534.81 369.59 L535.31 370.9 L535.79 372.22 L536.25 373.57 L536.7 374.95 L537.12 376.34 L537.53 377.76 L537.92 379.19 L538.29 380.65 L538.65 382.12 L538.98 383.6 L539.29 385.1 L539.59 386.62 L539.87 388.14 L540.12 389.67 L540.36 391.22 L540.58 392.77 L540.78 394.32 L540.95 395.88 L541.11 397.44 L541.25 399.01 L541.36 400.57 L541.46 402.13 L541.53 403.69 L541.59 405.24 L541.62 406.79Z" stroke="#2e9a2e" stroke-width="1.25" fill="none" stroke-dasharray="0.01 2.1" stroke-linecap="round"/>
</g>
<rect x="517.4" y="197.8" width="6.4" height="6.2" fill="#8b0000"/>
<rect x="510.9" y="213.2" width="6.4" height="6.2" fill="#8b0000"/>
<rect x="499.2" y="304.2" width="6.4" height="6.2" fill="#8b0000"/>
<rect x="518.8" y="206.2" width="6.4" height="6.2" fill="#008b8b"/>
<rect x="493.9" y="261" width="6.4" height="6.2" fill="#008b8b"/>
<rect x="506.4" y="398.3" width="6.4" height="6.2" fill="#008b8b"/>
<circle cx="510.6" cy="231.5" r="3.1" fill="#ff0000"/>
<circle cx="503.2" cy="293.4" r="3.1" fill="#ff0000"/>
<circle cx="508.3" cy="314.8" r="3.1" fill="#ff0000"/>
<circle cx="480" cy="324.2" r="3.1" fill="#ff0000"/>
<circle cx="499.2" cy="233.8" r="3.1" fill="#00ffff"/>
<circle cx="504.5" cy="251" r="3.1" fill="#00ffff"/>
<circle cx="487.3" cy="278.8" r="3.1" fill="#00ffff"/>
<circle cx="498.6" cy="344.5" r="3.1" fill="#00ffff"/>
<circle cx="526" cy="263.6" r="3.1" fill="#00ff00"/>
<circle cx="480.4" cy="293.9" r="3.1" fill="#00ff00"/>
<circle cx="479.5" cy="303.3" r="3.1" fill="#00ff00"/>
<circle cx="483.1" cy="321.3" r="3.1" fill="#00ff00"/>
<rect x="522.8" y="370.4" width="6.4" height="6.2" fill="#22a022"/>
<rect x="523.4" y="374.5" width="6.4" height="6.2" fill="#22a022"/>
<rect x="497.5" y="379.1" width="6.4" height="6.2" fill="#22a022"/>
<rect x="517.2" y="436.6" width="6.4" height="6.2" fill="#22a022"/>
<text x="473.8" y="170.8" font-size="7.2" font-weight="bold" fill="#00008b" textLength="26.8" lengthAdjust="spacingAndGlyphs">3xTg_M</text>
<text x="532.9" y="168.1" font-size="7.2" font-weight="bold" fill="#8b0000" textLength="25.9" lengthAdjust="spacingAndGlyphs">3xTg_K</text>
<text x="462.1" y="225.2" font-size="7.2" font-weight="bold" fill="#00ffff" textLength="21.3" lengthAdjust="spacingAndGlyphs">WT_M</text>
<text x="538.7" y="267.1" font-size="7.2" font-weight="bold" fill="#00ff00" textLength="20.6" lengthAdjust="spacingAndGlyphs">WT_C</text>
<text x="458.8" y="362.4" font-size="7.2" font-weight="bold" fill="#ff0000" textLength="20" lengthAdjust="spacingAndGlyphs">WT_K</text>
<text x="507.9" y="458.4" font-size="7.2" font-weight="bold" fill="#1e7a1e" textLength="27" lengthAdjust="spacingAndGlyphs">3xTg_C</text>
<rect x="452.3" y="114.8" width="60" height="46" fill="#fff"/>
<text x="458.9" y="125.5" font-size="10.2" fill="#000">Adonis2</text>
<text x="458.9" y="135.9" font-size="10.2" fill="#000">p=0.001</text>
<text x="458.9" y="146.3" font-size="10.2" fill="#000">R2= 0.40</text>
<text x="458.9" y="156.7" font-size="10.2" fill="#000">F=2.407</text>
<rect x="451.8" y="114.3" width="111" height="380.9" fill="none" stroke="#333" stroke-width="0.9"/>
<rect x="451.8" y="102.2" width="111" height="12.1" fill="#d9d9d9" stroke="#333" stroke-width="0.9"/>
<text x="507.3" y="111.6" font-size="10.6" text-anchor="middle" fill="#1a1a1a" textLength="75.7" lengthAdjust="spacingAndGlyphs">3 months / 6Mo</text>
<line x1="478.42" y1="495.2" x2="478.42" y2="497.8" stroke="#333" stroke-width="0.7"/>
<text x="478.42" y="504" font-size="8.6" text-anchor="middle" fill="#4d4d4d">−0.4</text>
<line x1="507.3" y1="495.2" x2="507.3" y2="497.8" stroke="#333" stroke-width="0.7"/>
<text x="507.3" y="504" font-size="8.6" text-anchor="middle" fill="#4d4d4d">0.0</text>
<line x1="536.18" y1="495.2" x2="536.18" y2="497.8" stroke="#333" stroke-width="0.7"/>
<text x="536.18" y="504" font-size="8.6" text-anchor="middle" fill="#4d4d4d">0.4</text>
<g clip-path="url(#dclip2)">
<path d="M648.39 268.83 L648.39 270.66 L648.39 272.47 L648.38 274.27 L648.37 276.06 L648.35 277.82 L648.34 279.56 L648.32 281.28 L648.29 282.97 L648.27 284.64 L648.24 286.27 L648.2 287.88 L648.17 289.45 L648.13 290.98 L648.09 292.48 L648.05 293.94 L648 295.36 L647.95 296.74 L647.9 298.07 L647.84 299.37 L647.79 300.61 L647.72 301.81 L647.66 302.96 L647.6 304.07 L647.53 305.13 L647.46 306.14 L647.38 307.1 L647.3 308.01 L647.22 308.88 L647.14 309.7 L647.05 310.49 L646.95 311.24 L646.84 311.96 L646.72 312.68 L646.57 313.41 L646.39 314.19 L646.11 315.1 L645.65 316.28 L644.65 318.03 L641.94 320.68 L635.56 322.37 L629.92 320.14 L627.74 317.72 L626.89 316.14 L626.46 315.05 L626.2 314.18 L626.01 313.42 L625.86 312.7 L625.73 311.98 L625.61 311.26 L625.5 310.5 L625.4 309.71 L625.3 308.88 L625.2 308 L625.11 307.08 L625.02 306.11 L624.93 305.09 L624.85 304.02 L624.76 302.91 L624.68 301.75 L624.6 300.54 L624.52 299.28 L624.45 297.98 L624.37 296.64 L624.3 295.25 L624.23 293.82 L624.16 292.35 L624.09 290.85 L624.03 289.31 L623.97 287.73 L623.91 286.12 L623.85 284.48 L623.8 282.81 L623.75 281.11 L623.7 279.39 L623.65 277.64 L623.61 275.87 L623.57 274.09 L623.53 272.28 L623.5 270.46 L623.46 268.63 L623.43 266.79 L623.41 264.93 L623.38 263.08 L623.36 261.21 L623.35 259.35 L623.33 257.48 L623.32 255.62 L623.31 253.77 L623.31 251.92 L623.31 250.07 L623.31 248.24 L623.31 246.43 L623.32 244.63 L623.33 242.84 L623.35 241.08 L623.36 239.34 L623.38 237.62 L623.41 235.93 L623.43 234.26 L623.46 232.63 L623.5 231.02 L623.53 229.45 L623.57 227.92 L623.61 226.42 L623.65 224.96 L623.7 223.54 L623.75 222.16 L623.8 220.83 L623.86 219.53 L623.91 218.29 L623.98 217.09 L624.04 215.94 L624.1 214.83 L624.17 213.77 L624.24 212.76 L624.32 211.8 L624.4 210.89 L624.48 210.02 L624.56 209.2 L624.65 208.41 L624.75 207.66 L624.86 206.94 L624.98 206.22 L625.13 205.49 L625.31 204.71 L625.59 203.8 L626.05 202.62 L627.05 200.87 L629.76 198.22 L636.14 196.53 L641.78 198.76 L643.96 201.18 L644.81 202.76 L645.24 203.85 L645.5 204.72 L645.69 205.48 L645.84 206.2 L645.97 206.92 L646.09 207.64 L646.2 208.4 L646.3 209.19 L646.4 210.02 L646.5 210.9 L646.59 211.82 L646.68 212.79 L646.77 213.81 L646.85 214.88 L646.94 215.99 L647.02 217.15 L647.1 218.36 L647.18 219.62 L647.25 220.92 L647.33 222.26 L647.4 223.65 L647.47 225.08 L647.54 226.55 L647.61 228.05 L647.67 229.59 L647.73 231.17 L647.79 232.78 L647.85 234.42 L647.9 236.09 L647.95 237.79 L648 239.51 L648.05 241.26 L648.09 243.03 L648.13 244.81 L648.17 246.62 L648.2 248.44 L648.24 250.27 L648.27 252.11 L648.29 253.97 L648.32 255.82 L648.34 257.69 L648.35 259.55 L648.37 261.42 L648.38 263.28 L648.39 265.13 L648.39 266.98Z" stroke="#8b0000" stroke-width="1.25" fill="none" stroke-dasharray="0.01 2.1" stroke-linecap="round"/>
<path d="M661.11 284.28 L661.09 285.17 L661.03 286.08 L660.93 287.03 L660.76 288.02 L660.5 289.06 L660.15 290.17 L659.65 291.33 L658.98 292.55 L658.1 293.79 L656.97 294.99 L655.6 296.09 L654.03 296.98 L652.35 297.62 L650.67 297.98 L649.07 298.1 L647.6 298.02 L646.28 297.8 L645.1 297.48 L644.04 297.1 L643.09 296.68 L642.21 296.22 L641.41 295.74 L640.65 295.25 L639.93 294.73 L639.25 294.2 L638.58 293.65 L637.94 293.08 L637.3 292.49 L636.68 291.88 L636.06 291.25 L635.45 290.6 L634.85 289.93 L634.24 289.24 L633.64 288.52 L633.03 287.79 L632.43 287.03 L631.83 286.26 L631.22 285.46 L630.62 284.64 L630.02 283.8 L629.42 282.95 L628.82 282.07 L628.22 281.18 L627.62 280.27 L627.02 279.35 L626.43 278.41 L625.83 277.45 L625.24 276.48 L624.66 275.5 L624.08 274.5 L623.5 273.5 L622.93 272.48 L622.36 271.46 L621.8 270.42 L621.25 269.38 L620.7 268.34 L620.16 267.29 L619.63 266.23 L619.11 265.17 L618.6 264.11 L618.1 263.05 L617.6 261.99 L617.12 260.93 L616.65 259.87 L616.2 258.82 L615.75 257.77 L615.32 256.73 L614.9 255.69 L614.49 254.65 L614.1 253.63 L613.72 252.61 L613.36 251.61 L613.01 250.61 L612.68 249.63 L612.36 248.65 L612.06 247.69 L611.77 246.74 L611.51 245.8 L611.26 244.87 L611.02 243.95 L610.81 243.05 L610.61 242.16 L610.43 241.28 L610.27 240.4 L610.14 239.54 L610.02 238.68 L609.92 237.82 L609.85 236.96 L609.81 236.1 L609.79 235.22 L609.81 234.33 L609.87 233.42 L609.97 232.47 L610.14 231.48 L610.4 230.44 L610.75 229.33 L611.25 228.17 L611.92 226.95 L612.8 225.71 L613.93 224.51 L615.3 223.41 L616.87 222.52 L618.55 221.88 L620.23 221.52 L621.83 221.4 L623.3 221.48 L624.62 221.7 L625.8 222.02 L626.86 222.4 L627.81 222.82 L628.69 223.28 L629.49 223.76 L630.25 224.25 L630.97 224.77 L631.65 225.3 L632.32 225.85 L632.96 226.42 L633.6 227.01 L634.22 227.62 L634.84 228.25 L635.45 228.9 L636.05 229.57 L636.66 230.26 L637.26 230.98 L637.87 231.71 L638.47 232.47 L639.07 233.24 L639.68 234.04 L640.28 234.86 L640.88 235.7 L641.48 236.55 L642.08 237.43 L642.68 238.32 L643.28 239.23 L643.88 240.15 L644.47 241.09 L645.07 242.05 L645.66 243.02 L646.24 244 L646.82 245 L647.4 246 L647.97 247.02 L648.54 248.04 L649.1 249.08 L649.65 250.12 L650.2 251.16 L650.74 252.21 L651.27 253.27 L651.79 254.33 L652.3 255.39 L652.8 256.45 L653.3 257.51 L653.78 258.57 L654.25 259.63 L654.7 260.68 L655.15 261.73 L655.58 262.77 L656 263.81 L656.41 264.85 L656.8 265.87 L657.18 266.89 L657.54 267.89 L657.89 268.89 L658.22 269.87 L658.54 270.85 L658.84 271.81 L659.13 272.76 L659.39 273.7 L659.64 274.63 L659.88 275.55 L660.09 276.45 L660.29 277.34 L660.47 278.22 L660.63 279.1 L660.76 279.96 L660.88 280.82 L660.98 281.68 L661.05 282.54 L661.09 283.4Z" stroke="#00008b" stroke-width="1.25" fill="none" stroke-dasharray="0.01 2.1" stroke-linecap="round"/>
<path d="M628.11 333.52 L628.1 335.59 L628.07 337.63 L628.03 339.63 L627.97 341.6 L627.89 343.52 L627.8 345.41 L627.68 347.25 L627.55 349.05 L627.4 350.8 L627.23 352.51 L627.05 354.17 L626.84 355.78 L626.62 357.35 L626.37 358.86 L626.11 360.33 L625.82 361.76 L625.51 363.14 L625.17 364.48 L624.8 365.78 L624.4 367.04 L623.95 368.28 L623.46 369.49 L622.9 370.69 L622.26 371.88 L621.51 373.07 L620.62 374.26 L619.55 375.45 L618.23 376.61 L616.62 377.68 L614.72 378.55 L612.57 379.12 L610.32 379.3 L608.13 379.07 L606.14 378.52 L604.42 377.74 L602.96 376.84 L601.72 375.87 L600.65 374.86 L599.71 373.83 L598.87 372.78 L598.11 371.71 L597.4 370.61 L596.73 369.47 L596.1 368.3 L595.49 367.09 L594.91 365.83 L594.34 364.52 L593.78 363.17 L593.24 361.77 L592.71 360.32 L592.19 358.81 L591.68 357.26 L591.18 355.65 L590.69 354 L590.21 352.3 L589.73 350.55 L589.27 348.75 L588.82 346.91 L588.37 345.03 L587.93 343.1 L587.51 341.14 L587.09 339.14 L586.69 337.1 L586.29 335.02 L585.91 332.92 L585.54 330.79 L585.18 328.62 L584.83 326.44 L584.49 324.23 L584.17 322 L583.86 319.76 L583.57 317.49 L583.29 315.22 L583.02 312.94 L582.77 310.64 L582.53 308.35 L582.31 306.05 L582.11 303.75 L581.91 301.45 L581.74 299.16 L581.58 296.88 L581.44 294.6 L581.31 292.34 L581.2 290.1 L581.11 287.87 L581.03 285.66 L580.97 283.48 L580.93 281.32 L580.9 279.19 L580.89 277.08 L580.9 275.01 L580.93 272.97 L580.97 270.97 L581.03 269 L581.11 267.08 L581.2 265.19 L581.32 263.35 L581.45 261.55 L581.6 259.8 L581.77 258.09 L581.95 256.43 L582.16 254.82 L582.38 253.25 L582.63 251.74 L582.89 250.27 L583.18 248.84 L583.49 247.46 L583.83 246.12 L584.2 244.82 L584.6 243.56 L585.05 242.32 L585.54 241.11 L586.1 239.91 L586.74 238.72 L587.49 237.53 L588.38 236.34 L589.45 235.15 L590.77 233.99 L592.38 232.92 L594.28 232.05 L596.43 231.48 L598.68 231.3 L600.87 231.53 L602.86 232.08 L604.58 232.86 L606.04 233.76 L607.28 234.73 L608.35 235.74 L609.29 236.77 L610.13 237.82 L610.89 238.89 L611.6 239.99 L612.27 241.13 L612.9 242.3 L613.51 243.51 L614.09 244.77 L614.66 246.08 L615.22 247.43 L615.76 248.83 L616.29 250.28 L616.81 251.79 L617.32 253.34 L617.82 254.95 L618.31 256.6 L618.79 258.3 L619.27 260.05 L619.73 261.85 L620.18 263.69 L620.63 265.57 L621.07 267.5 L621.49 269.46 L621.91 271.46 L622.31 273.5 L622.71 275.58 L623.09 277.68 L623.46 279.81 L623.82 281.98 L624.17 284.16 L624.51 286.37 L624.83 288.6 L625.14 290.84 L625.43 293.11 L625.71 295.38 L625.98 297.66 L626.23 299.96 L626.47 302.25 L626.69 304.55 L626.89 306.85 L627.09 309.15 L627.26 311.44 L627.42 313.72 L627.56 316 L627.69 318.26 L627.8 320.5 L627.89 322.73 L627.97 324.94 L628.03 327.12 L628.07 329.28 L628.1 331.41Z" stroke="#ff0000" stroke-width="1" fill="none"/>
<path d="M600.35 277.3 L600.35 277.37 L600.35 277.44 L600.35 277.51 L600.35 277.58 L600.34 277.65 L600.34 277.72 L600.34 277.79 L600.34 277.86 L600.33 277.93 L600.33 278.01 L600.32 278.08 L600.32 278.16 L600.31 278.24 L600.31 278.32 L600.3 278.41 L600.29 278.49 L600.28 278.58 L600.27 278.68 L600.26 278.78 L600.24 278.88 L600.23 278.98 L600.21 279.1 L600.19 279.22 L600.17 279.34 L600.14 279.48 L600.11 279.62 L600.08 279.78 L600.04 279.95 L599.99 280.13 L599.93 280.33 L599.87 280.56 L599.78 280.8 L599.69 281.08 L599.56 281.39 L599.41 281.75 L599.21 282.15 L598.96 282.61 L598.63 283.15 L598.18 283.76 L597.58 284.46 L596.75 285.24 L595.64 286.06 L594.17 286.82 L592.35 287.39 L590.3 287.6 L588.25 287.39 L586.43 286.82 L584.96 286.06 L583.85 285.24 L583.02 284.46 L582.42 283.76 L581.97 283.15 L581.64 282.61 L581.39 282.15 L581.19 281.75 L581.04 281.39 L580.91 281.08 L580.82 280.8 L580.73 280.56 L580.67 280.33 L580.61 280.13 L580.56 279.95 L580.52 279.78 L580.49 279.62 L580.46 279.48 L580.43 279.34 L580.41 279.22 L580.39 279.1 L580.37 278.98 L580.36 278.88 L580.34 278.78 L580.33 278.68 L580.32 278.58 L580.31 278.49 L580.3 278.41 L580.29 278.32 L580.29 278.24 L580.28 278.16 L580.28 278.08 L580.27 278.01 L580.27 277.93 L580.26 277.86 L580.26 277.79 L580.26 277.72 L580.26 277.65 L580.25 277.58 L580.25 277.51 L580.25 277.44 L580.25 277.37 L580.25 277.3 L580.25 277.23 L580.25 277.16 L580.25 277.09 L580.25 277.02 L580.26 276.95 L580.26 276.88 L580.26 276.81 L580.26 276.74 L580.27 276.67 L580.27 276.59 L580.28 276.52 L580.28 276.44 L580.29 276.36 L580.29 276.28 L580.3 276.19 L580.31 276.11 L580.32 276.02 L580.33 275.92 L580.34 275.82 L580.36 275.72 L580.37 275.62 L580.39 275.5 L580.41 275.38 L580.43 275.26 L580.46 275.12 L580.49 274.98 L580.52 274.82 L580.56 274.65 L580.61 274.47 L580.67 274.27 L580.73 274.04 L580.82 273.8 L580.91 273.52 L581.04 273.21 L581.19 272.85 L581.39 272.45 L581.64 271.99 L581.97 271.45 L582.42 270.84 L583.02 270.14 L583.85 269.36 L584.96 268.54 L586.43 267.78 L588.25 267.21 L590.3 267 L592.35 267.21 L594.17 267.78 L595.64 268.54 L596.75 269.36 L597.58 270.14 L598.18 270.84 L598.63 271.45 L598.96 271.99 L599.21 272.45 L599.41 272.85 L599.56 273.21 L599.69 273.52 L599.78 273.8 L599.87 274.04 L599.93 274.27 L599.99 274.47 L600.04 274.65 L600.08 274.82 L600.11 274.98 L600.14 275.12 L600.17 275.26 L600.19 275.38 L600.21 275.5 L600.23 275.62 L600.24 275.72 L600.26 275.82 L600.27 275.92 L600.28 276.02 L600.29 276.11 L600.3 276.19 L600.31 276.28 L600.31 276.36 L600.32 276.44 L600.32 276.52 L600.33 276.59 L600.33 276.67 L600.34 276.74 L600.34 276.81 L600.34 276.88 L600.34 276.95 L600.35 277.02 L600.35 277.09 L600.35 277.16 L600.35 277.23Z" stroke="#00ff00" stroke-width="1" fill="none"/>
<path d="M632.09 394.96 L632.05 395.97 L631.84 397.46 L630.95 400 L627.28 404.05 L620.01 405.42 L615.84 403.59 L614.18 402.07 L613.36 401.02 L612.84 400.23 L612.46 399.55 L612.14 398.93 L611.84 398.32 L611.56 397.7 L611.28 397.06 L611 396.39 L610.71 395.68 L610.42 394.93 L610.12 394.15 L609.8 393.32 L609.48 392.44 L609.15 391.52 L608.81 390.56 L608.45 389.56 L608.09 388.51 L607.71 387.42 L607.33 386.29 L606.94 385.12 L606.54 383.9 L606.13 382.66 L605.71 381.37 L605.28 380.05 L604.84 378.69 L604.4 377.3 L603.96 375.88 L603.5 374.44 L603.04 372.96 L602.58 371.46 L602.11 369.93 L601.64 368.38 L601.16 366.81 L600.68 365.22 L600.2 363.62 L599.72 361.99 L599.24 360.36 L598.75 358.71 L598.27 357.06 L597.79 355.4 L597.31 353.73 L596.82 352.06 L596.35 350.39 L595.87 348.71 L595.4 347.04 L594.93 345.38 L594.47 343.72 L594.01 342.07 L593.56 340.43 L593.12 338.8 L592.68 337.19 L592.25 335.59 L591.82 334.01 L591.41 332.45 L591 330.92 L590.6 329.4 L590.21 327.91 L589.84 326.45 L589.47 325.02 L589.11 323.61 L588.77 322.24 L588.43 320.9 L588.11 319.6 L587.81 318.33 L587.51 317.1 L587.23 315.91 L586.96 314.75 L586.7 313.64 L586.46 312.57 L586.23 311.54 L586.02 310.56 L585.82 309.61 L585.64 308.71 L585.47 307.85 L585.31 307.03 L585.17 306.26 L585.05 305.51 L584.93 304.8 L584.84 304.12 L584.75 303.44 L584.68 302.77 L584.63 302.05 L584.61 301.24 L584.65 300.23 L584.86 298.74 L585.75 296.2 L589.42 292.15 L596.69 290.78 L600.86 292.61 L602.52 294.13 L603.34 295.18 L603.86 295.97 L604.24 296.65 L604.56 297.27 L604.86 297.88 L605.14 298.5 L605.42 299.14 L605.7 299.81 L605.99 300.52 L606.28 301.27 L606.58 302.05 L606.9 302.88 L607.22 303.76 L607.55 304.68 L607.89 305.64 L608.25 306.64 L608.61 307.69 L608.99 308.78 L609.37 309.91 L609.76 311.08 L610.16 312.3 L610.57 313.54 L610.99 314.83 L611.42 316.15 L611.86 317.51 L612.3 318.9 L612.74 320.32 L613.2 321.76 L613.66 323.24 L614.12 324.74 L614.59 326.27 L615.06 327.82 L615.54 329.39 L616.02 330.98 L616.5 332.58 L616.98 334.21 L617.46 335.84 L617.95 337.49 L618.43 339.14 L618.91 340.8 L619.39 342.47 L619.88 344.14 L620.35 345.81 L620.83 347.49 L621.3 349.16 L621.77 350.82 L622.23 352.48 L622.69 354.13 L623.14 355.77 L623.58 357.4 L624.02 359.01 L624.45 360.61 L624.88 362.19 L625.29 363.75 L625.7 365.28 L626.1 366.8 L626.49 368.29 L626.86 369.75 L627.23 371.18 L627.59 372.59 L627.93 373.96 L628.27 375.3 L628.59 376.6 L628.89 377.87 L629.19 379.1 L629.47 380.29 L629.74 381.45 L630 382.56 L630.24 383.63 L630.47 384.66 L630.68 385.64 L630.88 386.59 L631.06 387.49 L631.23 388.35 L631.39 389.17 L631.53 389.94 L631.65 390.69 L631.77 391.4 L631.86 392.08 L631.95 392.76 L632.02 393.43 L632.07 394.15Z" stroke="#00ffff" stroke-width="1" fill="none"/>
<path d="M651.87 311.59 L651.86 313.7 L651.86 315.84 L651.85 317.99 L651.83 320.15 L651.81 322.33 L651.79 324.52 L651.76 326.72 L651.73 328.92 L651.7 331.13 L651.66 333.33 L651.62 335.53 L651.57 337.73 L651.52 339.92 L651.46 342.1 L651.4 344.26 L651.34 346.41 L651.28 348.54 L651.21 350.65 L651.14 352.74 L651.06 354.8 L650.98 356.83 L650.9 358.83 L650.81 360.8 L650.72 362.74 L650.63 364.63 L650.54 366.49 L650.44 368.31 L650.34 370.08 L650.24 371.81 L650.14 373.49 L650.03 375.12 L649.92 376.7 L649.81 378.22 L649.7 379.7 L649.58 381.12 L649.47 382.48 L649.35 383.78 L649.23 385.03 L649.1 386.22 L648.98 387.36 L648.85 388.43 L648.72 389.45 L648.58 390.42 L648.44 391.34 L648.3 392.21 L648.14 393.05 L647.96 393.87 L647.76 394.7 L647.52 395.56 L647.17 396.54 L646.62 397.77 L645.52 399.49 L642.86 401.91 L637.06 403.49 L631.47 401.59 L629.01 399.11 L628.01 397.39 L627.51 396.16 L627.2 395.18 L626.99 394.31 L626.82 393.48 L626.67 392.65 L626.54 391.81 L626.42 390.93 L626.32 390 L626.21 389.03 L626.12 388 L626.02 386.92 L625.94 385.78 L625.85 384.58 L625.78 383.33 L625.7 382.01 L625.63 380.65 L625.56 379.22 L625.5 377.74 L625.44 376.21 L625.39 374.62 L625.33 372.99 L625.29 371.3 L625.24 369.57 L625.2 367.8 L625.17 365.98 L625.14 364.11 L625.11 362.21 L625.09 360.27 L625.07 358.3 L625.05 356.3 L625.04 354.26 L625.04 352.2 L625.03 350.11 L625.04 348 L625.04 345.86 L625.05 343.71 L625.07 341.55 L625.09 339.37 L625.11 337.18 L625.14 334.98 L625.17 332.78 L625.2 330.57 L625.24 328.37 L625.28 326.17 L625.33 323.97 L625.38 321.78 L625.44 319.6 L625.5 317.44 L625.56 315.29 L625.62 313.16 L625.69 311.05 L625.76 308.96 L625.84 306.9 L625.92 304.87 L626 302.87 L626.09 300.9 L626.18 298.96 L626.27 297.07 L626.36 295.21 L626.46 293.39 L626.56 291.62 L626.66 289.89 L626.76 288.21 L626.87 286.58 L626.98 285 L627.09 283.48 L627.2 282 L627.32 280.58 L627.43 279.22 L627.55 277.92 L627.67 276.67 L627.8 275.48 L627.92 274.34 L628.05 273.27 L628.18 272.25 L628.32 271.28 L628.46 270.36 L628.6 269.49 L628.76 268.65 L628.94 267.83 L629.14 267 L629.38 266.14 L629.73 265.16 L630.28 263.93 L631.38 262.21 L634.04 259.79 L639.84 258.21 L645.43 260.11 L647.89 262.59 L648.89 264.31 L649.39 265.54 L649.7 266.52 L649.91 267.39 L650.08 268.22 L650.23 269.05 L650.36 269.89 L650.48 270.77 L650.58 271.7 L650.69 272.67 L650.78 273.7 L650.88 274.78 L650.96 275.92 L651.05 277.12 L651.12 278.37 L651.2 279.69 L651.27 281.05 L651.34 282.48 L651.4 283.96 L651.46 285.49 L651.51 287.08 L651.57 288.71 L651.61 290.4 L651.66 292.13 L651.7 293.9 L651.73 295.72 L651.76 297.59 L651.79 299.49 L651.81 301.43 L651.83 303.4 L651.85 305.4 L651.86 307.44 L651.86 309.5Z" stroke="#2e9a2e" stroke-width="1.25" fill="none" stroke-dasharray="0.01 2.1" stroke-linecap="round"/>
</g>
<rect x="631.3" y="211" width="6.4" height="6.2" fill="#8b0000"/>
<rect x="634.6" y="254" width="6.4" height="6.2" fill="#8b0000"/>
<rect x="632.1" y="303.1" width="6.4" height="6.2" fill="#8b0000"/>
<rect x="615.1" y="230.9" width="6.4" height="6.2" fill="#008b8b"/>
<rect x="639.1" y="258.9" width="6.4" height="6.2" fill="#008b8b"/>
<rect x="638.5" y="278.7" width="6.4" height="6.2" fill="#008b8b"/>
<circle cx="608" cy="258.7" r="3.1" fill="#ff0000"/>
<circle cx="591.8" cy="290.3" r="3.1" fill="#ff0000"/>
<circle cx="614" cy="366.9" r="3.1" fill="#ff0000"/>
<circle cx="590.3" cy="277.3" r="3.1" fill="#00ff00"/>
<rect x="634.6" y="288.6" width="6.4" height="6.2" fill="#22a022"/>
<rect x="639.4" y="294.4" width="6.4" height="6.2" fill="#22a022"/>
<rect x="635.3" y="379.7" width="6.4" height="6.2" fill="#22a022"/>
<rect x="632.2" y="383.4" width="6.4" height="6.2" fill="#22a022"/>
<circle cx="598.3" cy="310" r="3.1" fill="#00ffff"/>
<circle cx="610.9" cy="342.8" r="3.1" fill="#00ffff"/>
<circle cx="620.9" cy="391.1" r="3.1" fill="#00ffff"/>
<text x="629.1" y="192.5" font-size="7.2" font-weight="bold" fill="#8b0000" textLength="26.2" lengthAdjust="spacingAndGlyphs">3xTg_K</text>
<text x="595.8" y="216.8" font-size="7.2" font-weight="bold" fill="#00008b" textLength="27" lengthAdjust="spacingAndGlyphs">3xTg_M</text>
<text x="574.1" y="232.5" font-size="7.2" font-weight="bold" fill="#ff0000" textLength="20.4" lengthAdjust="spacingAndGlyphs">WT_K</text>
<text x="568.7" y="277.3" font-size="7.2" font-weight="bold" fill="#00ff00" textLength="10.8" lengthAdjust="spacingAndGlyphs">WT</text>
<text x="571.8" y="285.1" font-size="7.2" font-weight="bold" fill="#00ff00" textLength="5" lengthAdjust="spacingAndGlyphs">C</text>
<text x="611.5" y="412.4" font-size="7.2" font-weight="bold" fill="#00ffff" textLength="20.8" lengthAdjust="spacingAndGlyphs">WT_M</text>
<text x="644.3" y="409.1" font-size="7.2" font-weight="bold" fill="#1e7a1e" textLength="26.3" lengthAdjust="spacingAndGlyphs">3xTg_C</text>
<rect x="567.5" y="114.8" width="60" height="46" fill="#fff"/>
<text x="574.1" y="125.5" font-size="10.2" fill="#000">Adonis2</text>
<text x="574.1" y="135.9" font-size="10.2" fill="#000">p=0.001</text>
<text x="574.1" y="146.3" font-size="10.2" fill="#000">R2= 0.63</text>
<text x="574.1" y="156.7" font-size="10.2" fill="#000">F=3.769</text>
<rect x="567" y="114.3" width="111" height="380.9" fill="none" stroke="#333" stroke-width="0.9"/>
<rect x="567" y="102.2" width="111" height="12.1" fill="#d9d9d9" stroke="#333" stroke-width="0.9"/>
<text x="622.5" y="111.6" font-size="10.6" text-anchor="middle" fill="#1a1a1a" textLength="75.7" lengthAdjust="spacingAndGlyphs">5 months / 8Mo</text>
<line x1="593.62" y1="495.2" x2="593.62" y2="497.8" stroke="#333" stroke-width="0.7"/>
<text x="593.62" y="504" font-size="8.6" text-anchor="middle" fill="#4d4d4d">−0.4</text>
<line x1="622.5" y1="495.2" x2="622.5" y2="497.8" stroke="#333" stroke-width="0.7"/>
<text x="622.5" y="504" font-size="8.6" text-anchor="middle" fill="#4d4d4d">0.0</text>
<line x1="651.38" y1="495.2" x2="651.38" y2="497.8" stroke="#333" stroke-width="0.7"/>
<text x="651.38" y="504" font-size="8.6" text-anchor="middle" fill="#4d4d4d">0.4</text>
<line x1="334" y1="130.98" x2="336.6" y2="130.98" stroke="#333" stroke-width="0.7"/>
<text x="332.8" y="133.98" font-size="8.6" text-anchor="end" fill="#4d4d4d">0.6</text>
<line x1="334" y1="217.89" x2="336.6" y2="217.89" stroke="#333" stroke-width="0.7"/>
<text x="332.8" y="220.89" font-size="8.6" text-anchor="end" fill="#4d4d4d">0.3</text>
<line x1="334" y1="304.8" x2="336.6" y2="304.8" stroke="#333" stroke-width="0.7"/>
<text x="332.8" y="307.8" font-size="8.6" text-anchor="end" fill="#4d4d4d">0.0</text>
<line x1="334" y1="391.71" x2="336.6" y2="391.71" stroke="#333" stroke-width="0.7"/>
<text x="332.8" y="394.71" font-size="8.6" text-anchor="end" fill="#4d4d4d">−0.3</text>
<line x1="334" y1="478.62" x2="336.6" y2="478.62" stroke="#333" stroke-width="0.7"/>
<text x="332.8" y="481.62" font-size="8.6" text-anchor="end" fill="#4d4d4d">−0.6</text>
<text x="513.7" y="516.3" font-size="13.2" text-anchor="middle" textLength="35.2" lengthAdjust="spacingAndGlyphs">Axis.1</text>
<text x="318.6" y="298.1" font-size="13.2" text-anchor="middle" textLength="35.5" lengthAdjust="spacingAndGlyphs" transform="rotate(-90 318.6 298.1)">Axis.2</text>
<text x="347" y="544.8" font-size="12.7" textLength="108.8" lengthAdjust="spacingAndGlyphs">Unweighted Unifrac</text>
<circle cx="385.6" cy="562.2" r="2.5" fill="#00ee00" fill-opacity="0.5"/>
<circle cx="389.8" cy="566.7" r="2.5" fill="#00ee00" fill-opacity="0.5"/>
<circle cx="394" cy="574.7" r="2.5" fill="#00ee00" fill-opacity="0.5"/>
<circle cx="387.5" cy="601.4" r="2.5" fill="#00ee00" fill-opacity="0.5"/>
<circle cx="388.2" cy="566" r="2.5" fill="#87ceeb" fill-opacity="0.5"/>
<circle cx="376.9" cy="586.9" r="2.5" fill="#87ceeb" fill-opacity="0.5"/>
<circle cx="386.6" cy="607.8" r="2.5" fill="#87ceeb" fill-opacity="0.5"/>
<circle cx="384.3" cy="571.8" r="2.5" fill="#ff0000" fill-opacity="0.5"/>
<circle cx="394" cy="581.1" r="2.5" fill="#ff0000" fill-opacity="0.5"/>
<circle cx="387.5" cy="615.2" r="2.5" fill="#ff0000" fill-opacity="0.5"/>
<circle cx="390.4" cy="639.3" r="2.5" fill="#8b0000" fill-opacity="0.5"/>
<circle cx="379.5" cy="652.8" r="2.5" fill="#8b0000" fill-opacity="0.5"/>
<circle cx="389.8" cy="669.8" r="2.5" fill="#8b0000" fill-opacity="0.5"/>
<circle cx="383.4" cy="680.7" r="2.5" fill="#8b0000" fill-opacity="0.5"/>
<circle cx="381.1" cy="654.4" r="2.5" fill="#00008b" fill-opacity="0.5"/>
<circle cx="387.5" cy="652.8" r="2.5" fill="#00008b" fill-opacity="0.5"/>
<circle cx="389.8" cy="656.9" r="2.5" fill="#00008b" fill-opacity="0.5"/>
<circle cx="389.1" cy="674.6" r="2.5" fill="#00008b" fill-opacity="0.5"/>
<circle cx="379.5" cy="677.8" r="2.5" fill="#006400" fill-opacity="0.5"/>
<circle cx="385" cy="684.2" r="2.5" fill="#006400" fill-opacity="0.5"/>
<circle cx="381.7" cy="695.5" r="2.5" fill="#006400" fill-opacity="0.5"/>
<circle cx="377.9" cy="700" r="2.5" fill="#006400" fill-opacity="0.5"/>
<circle cx="474.2" cy="564.5" r="2.5" fill="#87ceeb" fill-opacity="0.5"/>
<circle cx="473.3" cy="572.5" r="2.5" fill="#87ceeb" fill-opacity="0.5"/>
<circle cx="482.9" cy="592.4" r="2.5" fill="#87ceeb" fill-opacity="0.5"/>
<circle cx="488.4" cy="559.6" r="2.5" fill="#00ee00" fill-opacity="0.5"/>
<circle cx="474.2" cy="571.8" r="2.5" fill="#00ee00" fill-opacity="0.5"/>
<circle cx="479.7" cy="600.4" r="2.5" fill="#00ee00" fill-opacity="0.5"/>
<circle cx="487.1" cy="565.1" r="2.5" fill="#ff0000" fill-opacity="0.5"/>
<circle cx="472.3" cy="583.7" r="2.5" fill="#ff0000" fill-opacity="0.5"/>
<circle cx="472.6" cy="621.3" r="2.5" fill="#ff0000" fill-opacity="0.5"/>
<circle cx="473.3" cy="598.8" r="2.5" fill="#8b0000" fill-opacity="0.5"/>
<circle cx="486.1" cy="636.7" r="2.5" fill="#8b0000" fill-opacity="0.5"/>
<circle cx="473.3" cy="665.6" r="2.5" fill="#8b0000" fill-opacity="0.5"/>
<circle cx="483.5" cy="675.2" r="2.5" fill="#8b0000" fill-opacity="0.5"/>
<circle cx="471.7" cy="640.9" r="2.5" fill="#00008b" fill-opacity="0.5"/>
<circle cx="488.4" cy="643.8" r="2.5" fill="#00008b" fill-opacity="0.5"/>
<circle cx="484.5" cy="653.4" r="2.5" fill="#00008b" fill-opacity="0.5"/>
<circle cx="471" cy="668.2" r="2.5" fill="#006400" fill-opacity="0.5"/>
<circle cx="487.1" cy="682.6" r="2.5" fill="#006400" fill-opacity="0.5"/>
<circle cx="482.9" cy="693.5" r="2.5" fill="#006400" fill-opacity="0.5"/>
<circle cx="479.7" cy="697.7" r="2.5" fill="#006400" fill-opacity="0.5"/>
<circle cx="568.3" cy="565.4" r="2.5" fill="#ff0000" fill-opacity="0.5"/>
<circle cx="567.5" cy="595.4" r="2.5" fill="#ff0000" fill-opacity="0.5"/>
<circle cx="579.1" cy="615.6" r="2.5" fill="#ff0000" fill-opacity="0.5"/>
<circle cx="584.3" cy="580.5" r="2.5" fill="#00ee00" fill-opacity="0.5"/>
<circle cx="578.3" cy="598.1" r="2.5" fill="#87ceeb" fill-opacity="0.5"/>
<circle cx="580.5" cy="623.7" r="2.5" fill="#87ceeb" fill-opacity="0.5"/>
<circle cx="581" cy="637" r="2.5" fill="#00008b" fill-opacity="0.5"/>
<circle cx="584.3" cy="660.7" r="2.5" fill="#00008b" fill-opacity="0.5"/>
<circle cx="574.3" cy="666.7" r="2.5" fill="#00008b" fill-opacity="0.5"/>
<circle cx="578.3" cy="644" r="2.5" fill="#8b0000" fill-opacity="0.5"/>
<circle cx="583.2" cy="668.8" r="2.5" fill="#8b0000" fill-opacity="0.5"/>
<circle cx="568.9" cy="672.1" r="2.5" fill="#8b0000" fill-opacity="0.5"/>
<circle cx="570.2" cy="671.5" r="2.5" fill="#006400" fill-opacity="0.5"/>
<circle cx="571.6" cy="674.2" r="2.5" fill="#006400" fill-opacity="0.5"/>
<circle cx="584.5" cy="676.9" r="2.5" fill="#006400" fill-opacity="0.5"/>
<circle cx="579.1" cy="685" r="2.5" fill="#006400" fill-opacity="0.5"/>
<path d="M385.3 576.7 L480.6 578.3 L576.1 580.5" stroke="#00ee00" stroke-width="1.9" fill="none" stroke-linejoin="round"/>
<path d="M385.3 586.3 L480.6 581.1 L576.1 606.2" stroke="#87ceeb" stroke-width="1.9" fill="none" stroke-linejoin="round"/>
<path d="M385.3 589.2 L480.6 588.5 L576.1 591.9" stroke="#ff0000" stroke-width="1.9" fill="none" stroke-linejoin="round"/>
<path d="M385.3 689 L480.6 684.9 L576.1 676.4" stroke="#006400" stroke-width="1.9" fill="none" stroke-linejoin="round"/>
<path d="M385.3 659.2 L480.6 646.3 L576.1 654.8" stroke="#00008b" stroke-width="1.9" fill="none" stroke-linejoin="round"/>
<path d="M385.3 659.8 L480.6 644.7 L576.1 660.7" stroke="#8b0000" stroke-width="1.9" fill="none" stroke-linejoin="round"/>
<line x1="385.3" y1="571.7" x2="385.3" y2="580.8" stroke="#00ee00" stroke-width="1.2"/>
<line x1="380.7" y1="571.7" x2="389.9" y2="571.7" stroke="#00ee00" stroke-width="1.2"/>
<line x1="380.7" y1="580.8" x2="389.9" y2="580.8" stroke="#00ee00" stroke-width="1.2"/>
<line x1="480.6" y1="573" x2="480.6" y2="583.6" stroke="#00ee00" stroke-width="1.2"/>
<line x1="476" y1="573" x2="485.2" y2="573" stroke="#00ee00" stroke-width="1.2"/>
<line x1="476" y1="583.6" x2="485.2" y2="583.6" stroke="#00ee00" stroke-width="1.2"/>
<line x1="385.3" y1="581" x2="385.3" y2="591.6" stroke="#87ceeb" stroke-width="1.2"/>
<line x1="380.7" y1="581" x2="389.9" y2="581" stroke="#87ceeb" stroke-width="1.2"/>
<line x1="380.7" y1="591.6" x2="389.9" y2="591.6" stroke="#87ceeb" stroke-width="1.2"/>
<line x1="480.6" y1="576" x2="480.6" y2="586.2" stroke="#87ceeb" stroke-width="1.2"/>
<line x1="476" y1="576" x2="485.2" y2="576" stroke="#87ceeb" stroke-width="1.2"/>
<line x1="476" y1="586.2" x2="485.2" y2="586.2" stroke="#87ceeb" stroke-width="1.2"/>
<line x1="576.1" y1="600.5" x2="576.1" y2="611.6" stroke="#87ceeb" stroke-width="1.2"/>
<line x1="571.5" y1="600.5" x2="580.7" y2="600.5" stroke="#87ceeb" stroke-width="1.2"/>
<line x1="571.5" y1="611.6" x2="580.7" y2="611.6" stroke="#87ceeb" stroke-width="1.2"/>
<line x1="385.3" y1="583.7" x2="385.3" y2="594" stroke="#ff0000" stroke-width="1.2"/>
<line x1="380.7" y1="583.7" x2="389.9" y2="583.7" stroke="#ff0000" stroke-width="1.2"/>
<line x1="380.7" y1="594" x2="389.9" y2="594" stroke="#ff0000" stroke-width="1.2"/>
<line x1="480.6" y1="582.5" x2="480.6" y2="594.5" stroke="#ff0000" stroke-width="1.2"/>
<line x1="476" y1="582.5" x2="485.2" y2="582.5" stroke="#ff0000" stroke-width="1.2"/>
<line x1="476" y1="594.5" x2="485.2" y2="594.5" stroke="#ff0000" stroke-width="1.2"/>
<line x1="576.1" y1="583.8" x2="576.1" y2="600.8" stroke="#ff0000" stroke-width="1.2"/>
<line x1="571.5" y1="583.8" x2="580.7" y2="583.8" stroke="#ff0000" stroke-width="1.2"/>
<line x1="571.5" y1="600.8" x2="580.7" y2="600.8" stroke="#ff0000" stroke-width="1.2"/>
<line x1="385.3" y1="685.5" x2="385.3" y2="692.5" stroke="#006400" stroke-width="1.2"/>
<line x1="380.7" y1="685.5" x2="389.9" y2="685.5" stroke="#006400" stroke-width="1.2"/>
<line x1="380.7" y1="692.5" x2="389.9" y2="692.5" stroke="#006400" stroke-width="1.2"/>
<line x1="480.6" y1="681.5" x2="480.6" y2="688.3" stroke="#006400" stroke-width="1.2"/>
<line x1="476" y1="681.5" x2="485.2" y2="681.5" stroke="#006400" stroke-width="1.2"/>
<line x1="476" y1="688.3" x2="485.2" y2="688.3" stroke="#006400" stroke-width="1.2"/>
<line x1="576.1" y1="674.8" x2="576.1" y2="678.3" stroke="#006400" stroke-width="1.2"/>
<line x1="571.5" y1="674.8" x2="580.7" y2="674.8" stroke="#006400" stroke-width="1.2"/>
<line x1="571.5" y1="678.3" x2="580.7" y2="678.3" stroke="#006400" stroke-width="1.2"/>
<line x1="385.3" y1="655.5" x2="385.3" y2="663" stroke="#00008b" stroke-width="1.2"/>
<line x1="380.7" y1="655.5" x2="389.9" y2="655.5" stroke="#00008b" stroke-width="1.2"/>
<line x1="380.7" y1="663" x2="389.9" y2="663" stroke="#00008b" stroke-width="1.2"/>
<line x1="480.6" y1="641.5" x2="480.6" y2="651" stroke="#00008b" stroke-width="1.2"/>
<line x1="476" y1="641.5" x2="485.2" y2="641.5" stroke="#00008b" stroke-width="1.2"/>
<line x1="476" y1="651" x2="485.2" y2="651" stroke="#00008b" stroke-width="1.2"/>
<line x1="576.1" y1="649.9" x2="576.1" y2="660.7" stroke="#00008b" stroke-width="1.2"/>
<line x1="571.5" y1="649.9" x2="580.7" y2="649.9" stroke="#00008b" stroke-width="1.2"/>
<line x1="571.5" y1="660.7" x2="580.7" y2="660.7" stroke="#00008b" stroke-width="1.2"/>
<line x1="385.3" y1="656" x2="385.3" y2="663.6" stroke="#8b0000" stroke-width="1.2"/>
<line x1="380.7" y1="656" x2="389.9" y2="656" stroke="#8b0000" stroke-width="1.2"/>
<line x1="380.7" y1="663.6" x2="389.9" y2="663.6" stroke="#8b0000" stroke-width="1.2"/>
<line x1="480.6" y1="635.5" x2="480.6" y2="654" stroke="#8b0000" stroke-width="1.2"/>
<line x1="476" y1="635.5" x2="485.2" y2="635.5" stroke="#8b0000" stroke-width="1.2"/>
<line x1="476" y1="654" x2="485.2" y2="654" stroke="#8b0000" stroke-width="1.2"/>
<line x1="576.1" y1="655.3" x2="576.1" y2="666.7" stroke="#8b0000" stroke-width="1.2"/>
<line x1="571.5" y1="655.3" x2="580.7" y2="655.3" stroke="#8b0000" stroke-width="1.2"/>
<line x1="571.5" y1="666.7" x2="580.7" y2="666.7" stroke="#8b0000" stroke-width="1.2"/>
<line x1="346.6" y1="553" x2="346.6" y2="707.4" stroke="#000" stroke-width="1"/>
<line x1="346.1" y1="706.9" x2="606.9" y2="706.9" stroke="#000" stroke-width="1"/>
<line x1="343.6" y1="688.1" x2="346.6" y2="688.1" stroke="#333" stroke-width="0.9"/>
<text x="342.2" y="691.2" font-size="8.7" text-anchor="end" fill="#4d4d4d">−0.2</text>
<line x1="343.6" y1="657.6" x2="346.6" y2="657.6" stroke="#333" stroke-width="0.9"/>
<text x="342.2" y="660.7" font-size="8.7" text-anchor="end" fill="#4d4d4d">−0.1</text>
<line x1="343.6" y1="627.1" x2="346.6" y2="627.1" stroke="#333" stroke-width="0.9"/>
<text x="342.2" y="630.2" font-size="8.7" text-anchor="end" fill="#4d4d4d">0.0</text>
<line x1="343.6" y1="596.6" x2="346.6" y2="596.6" stroke="#333" stroke-width="0.9"/>
<text x="342.2" y="599.7" font-size="8.7" text-anchor="end" fill="#4d4d4d">0.1</text>
<line x1="343.6" y1="566.1" x2="346.6" y2="566.1" stroke="#333" stroke-width="0.9"/>
<text x="342.2" y="569.2" font-size="8.7" text-anchor="end" fill="#4d4d4d">0.2</text>
<line x1="385.3" y1="706.9" x2="385.3" y2="709.9" stroke="#333" stroke-width="0.9"/>
<text x="385.3" y="718" font-size="8.5" text-anchor="middle" fill="#4d4d4d">1</text>
<line x1="480.6" y1="706.9" x2="480.6" y2="709.9" stroke="#333" stroke-width="0.9"/>
<text x="480.6" y="718" font-size="8.5" text-anchor="middle" fill="#4d4d4d">3</text>
<line x1="576.1" y1="706.9" x2="576.1" y2="709.9" stroke="#333" stroke-width="0.9"/>
<text x="576.1" y="718" font-size="8.5" text-anchor="middle" fill="#4d4d4d">5</text>
<text x="480.6" y="729.9" font-size="10.3" text-anchor="middle" textLength="98.6" lengthAdjust="spacingAndGlyphs">Diet duration (month)</text>
<text x="320.9" y="625.5" font-size="11.3" text-anchor="middle" textLength="145" lengthAdjust="spacingAndGlyphs" transform="rotate(-90 320.9 625.5)">Principal component analysis 1</text>
<line x1="632.8" y1="587.5" x2="646.2" y2="587.5" stroke="#00ee00" stroke-width="1.9"/>
<circle cx="639.5" cy="587.5" r="2.5" fill="#00ee00" fill-opacity="0.5"/>
<text x="652.9" y="590.6" font-size="8.9" textLength="21.7" lengthAdjust="spacingAndGlyphs">WT.C</text>
<line x1="632.8" y1="604.02" x2="646.2" y2="604.02" stroke="#87ceeb" stroke-width="1.9"/>
<circle cx="639.5" cy="604.02" r="2.5" fill="#87ceeb" fill-opacity="0.5"/>
<text x="652.9" y="607.12" font-size="8.9" textLength="23.8" lengthAdjust="spacingAndGlyphs">WT.M</text>
<line x1="632.8" y1="620.54" x2="646.2" y2="620.54" stroke="#ff0000" stroke-width="1.9"/>
<circle cx="639.5" cy="620.54" r="2.5" fill="#ff0000" fill-opacity="0.5"/>
<text x="652.9" y="623.64" font-size="8.9" textLength="21.7" lengthAdjust="spacingAndGlyphs">WT.K</text>
<line x1="632.8" y1="637.06" x2="646.2" y2="637.06" stroke="#006400" stroke-width="1.9"/>
<circle cx="639.5" cy="637.06" r="2.5" fill="#006400" fill-opacity="0.5"/>
<text x="652.9" y="640.16" font-size="8.9" textLength="28" lengthAdjust="spacingAndGlyphs">3xTg.C</text>
<line x1="632.8" y1="653.58" x2="646.2" y2="653.58" stroke="#00008b" stroke-width="1.9"/>
<circle cx="639.5" cy="653.58" r="2.5" fill="#00008b" fill-opacity="0.5"/>
<text x="652.9" y="656.68" font-size="8.9" textLength="30" lengthAdjust="spacingAndGlyphs">3xTg.M</text>
<line x1="632.8" y1="670.1" x2="646.2" y2="670.1" stroke="#8b0000" stroke-width="1.9"/>
<circle cx="639.5" cy="670.1" r="2.5" fill="#8b0000" fill-opacity="0.5"/>
<text x="652.9" y="673.2" font-size="8.9" textLength="28" lengthAdjust="spacingAndGlyphs">3xTg.K</text>
<text x="346.2" y="749.7" font-size="12.7" textLength="44.2" lengthAdjust="spacingAndGlyphs">Jaccard</text>
<circle cx="389.8" cy="764.5" r="2.5" fill="#00ee00" fill-opacity="0.5"/>
<circle cx="390.7" cy="768.6" r="2.5" fill="#00ee00" fill-opacity="0.5"/>
<circle cx="394" cy="780.5" r="2.5" fill="#00ee00" fill-opacity="0.5"/>
<circle cx="397.2" cy="796.6" r="2.5" fill="#00ee00" fill-opacity="0.5"/>
<circle cx="381.1" cy="771.8" r="2.5" fill="#87ceeb" fill-opacity="0.5"/>
<circle cx="379.2" cy="798.2" r="2.5" fill="#87ceeb" fill-opacity="0.5"/>
<circle cx="388.2" cy="785.3" r="2.5" fill="#87ceeb" fill-opacity="0.5"/>
<circle cx="381.1" cy="788.5" r="2.5" fill="#ff0000" fill-opacity="0.5"/>
<circle cx="393" cy="786.9" r="2.5" fill="#ff0000" fill-opacity="0.5"/>
<circle cx="396.2" cy="785.3" r="2.5" fill="#ff0000" fill-opacity="0.5"/>
<circle cx="396.2" cy="824.5" r="2.5" fill="#ff0000" fill-opacity="0.5"/>
<circle cx="391.4" cy="850.2" r="2.5" fill="#00008b" fill-opacity="0.5"/>
<circle cx="386.6" cy="856.6" r="2.5" fill="#00008b" fill-opacity="0.5"/>
<circle cx="381.1" cy="866.2" r="2.5" fill="#00008b" fill-opacity="0.5"/>
<circle cx="387.5" cy="880.1" r="2.5" fill="#00008b" fill-opacity="0.5"/>
<circle cx="394.6" cy="872" r="2.5" fill="#8b0000" fill-opacity="0.5"/>
<circle cx="379.2" cy="877.8" r="2.5" fill="#8b0000" fill-opacity="0.5"/>
<circle cx="385.9" cy="869.5" r="2.5" fill="#8b0000" fill-opacity="0.5"/>
<circle cx="382.4" cy="877.8" r="2.5" fill="#006400" fill-opacity="0.5"/>
<circle cx="393" cy="890.7" r="2.5" fill="#006400" fill-opacity="0.5"/>
<circle cx="382.4" cy="899.3" r="2.5" fill="#006400" fill-opacity="0.5"/>
<circle cx="392" cy="904.1" r="2.5" fill="#006400" fill-opacity="0.5"/>
<circle cx="476.5" cy="773.1" r="2.5" fill="#87ceeb" fill-opacity="0.5"/>
<circle cx="476.5" cy="795" r="2.5" fill="#87ceeb" fill-opacity="0.5"/>
<circle cx="478.7" cy="776.3" r="2.5" fill="#00ee00" fill-opacity="0.5"/>
<circle cx="490.3" cy="770.2" r="2.5" fill="#00ee00" fill-opacity="0.5"/>
<circle cx="487.7" cy="787.9" r="2.5" fill="#00ee00" fill-opacity="0.5"/>
<circle cx="484.5" cy="796.6" r="2.5" fill="#00ee00" fill-opacity="0.5"/>
<circle cx="483.5" cy="789.2" r="2.5" fill="#ff0000" fill-opacity="0.5"/>
<circle cx="491.6" cy="798.8" r="2.5" fill="#ff0000" fill-opacity="0.5"/>
<circle cx="485.2" cy="838.3" r="2.5" fill="#ff0000" fill-opacity="0.5"/>
<circle cx="475.5" cy="789.2" r="2.5" fill="#8b0000" fill-opacity="0.5"/>
<circle cx="478.7" cy="863" r="2.5" fill="#8b0000" fill-opacity="0.5"/>
<circle cx="488.4" cy="849.6" r="2.5" fill="#00008b" fill-opacity="0.5"/>
<circle cx="475.5" cy="860.8" r="2.5" fill="#00008b" fill-opacity="0.5"/>
<circle cx="478.1" cy="869.5" r="2.5" fill="#00008b" fill-opacity="0.5"/>
<circle cx="487.7" cy="879.1" r="2.5" fill="#00008b" fill-opacity="0.5"/>
<circle cx="473.9" cy="874.3" r="2.5" fill="#006400" fill-opacity="0.5"/>
<circle cx="474.9" cy="877.8" r="2.5" fill="#006400" fill-opacity="0.5"/>
<circle cx="475.5" cy="900.9" r="2.5" fill="#006400" fill-opacity="0.5"/>
<circle cx="489.3" cy="898.4" r="2.5" fill="#006400" fill-opacity="0.5"/>
<circle cx="491.6" cy="899.3" r="2.5" fill="#006400" fill-opacity="0.5"/>
<circle cx="585.9" cy="774.8" r="2.5" fill="#87ceeb" fill-opacity="0.5"/>
<circle cx="570.8" cy="801.3" r="2.5" fill="#87ceeb" fill-opacity="0.5"/>
<circle cx="578.3" cy="774.8" r="2.5" fill="#00ee00" fill-opacity="0.5"/>
<circle cx="578.3" cy="797.3" r="2.5" fill="#ff0000" fill-opacity="0.5"/>
<circle cx="580.5" cy="817.5" r="2.5" fill="#ff0000" fill-opacity="0.5"/>
<circle cx="581" cy="851.3" r="2.5" fill="#00008b" fill-opacity="0.5"/>
<circle cx="569.7" cy="881.8" r="2.5" fill="#00008b" fill-opacity="0.5"/>
<circle cx="582.4" cy="881.5" r="2.5" fill="#00008b" fill-opacity="0.5"/>
<circle cx="587.8" cy="869.4" r="2.5" fill="#8b0000" fill-opacity="0.5"/>
<circle cx="578.3" cy="887.7" r="2.5" fill="#8b0000" fill-opacity="0.5"/>
<circle cx="584.3" cy="889.9" r="2.5" fill="#8b0000" fill-opacity="0.5"/>
<circle cx="580.5" cy="883.7" r="2.5" fill="#006400" fill-opacity="0.5"/>
<circle cx="583.2" cy="897.7" r="2.5" fill="#006400" fill-opacity="0.5"/>
<path d="M388.2 777.9 L483.3 782.1 L578.5 775.1" stroke="#00ee00" stroke-width="1.9" fill="none" stroke-linejoin="round"/>
<path d="M388.2 783.1 L483.3 782.1 L578.5 787.8" stroke="#87ceeb" stroke-width="1.9" fill="none" stroke-linejoin="round"/>
<path d="M388.2 796.6 L483.3 806.2 L578.5 807.5" stroke="#ff0000" stroke-width="1.9" fill="none" stroke-linejoin="round"/>
<path d="M388.2 892.9 L483.3 892.9 L578.5 885.8" stroke="#006400" stroke-width="1.9" fill="none" stroke-linejoin="round"/>
<path d="M388.2 863 L483.3 864.6 L578.5 870.7" stroke="#00008b" stroke-width="1.9" fill="none" stroke-linejoin="round"/>
<path d="M388.2 872 L483.3 856.6 L578.5 882.3" stroke="#8b0000" stroke-width="1.9" fill="none" stroke-linejoin="round"/>
<line x1="388.2" y1="774" x2="388.2" y2="782" stroke="#00ee00" stroke-width="1.2"/>
<line x1="383.6" y1="774" x2="392.8" y2="774" stroke="#00ee00" stroke-width="1.2"/>
<line x1="383.6" y1="782" x2="392.8" y2="782" stroke="#00ee00" stroke-width="1.2"/>
<line x1="483.3" y1="779.5" x2="483.3" y2="784.8" stroke="#00ee00" stroke-width="1.2"/>
<line x1="478.7" y1="779.5" x2="487.9" y2="779.5" stroke="#00ee00" stroke-width="1.2"/>
<line x1="478.7" y1="784.8" x2="487.9" y2="784.8" stroke="#00ee00" stroke-width="1.2"/>
<line x1="388.2" y1="779.5" x2="388.2" y2="786.6" stroke="#87ceeb" stroke-width="1.2"/>
<line x1="383.6" y1="779.5" x2="392.8" y2="779.5" stroke="#87ceeb" stroke-width="1.2"/>
<line x1="383.6" y1="786.6" x2="392.8" y2="786.6" stroke="#87ceeb" stroke-width="1.2"/>
<line x1="483.3" y1="779" x2="483.3" y2="785.2" stroke="#87ceeb" stroke-width="1.2"/>
<line x1="478.7" y1="779" x2="487.9" y2="779" stroke="#87ceeb" stroke-width="1.2"/>
<line x1="478.7" y1="785.2" x2="487.9" y2="785.2" stroke="#87ceeb" stroke-width="1.2"/>
<line x1="578.5" y1="783" x2="578.5" y2="791.9" stroke="#87ceeb" stroke-width="1.2"/>
<line x1="573.9" y1="783" x2="583.1" y2="783" stroke="#87ceeb" stroke-width="1.2"/>
<line x1="573.9" y1="791.9" x2="583.1" y2="791.9" stroke="#87ceeb" stroke-width="1.2"/>
<line x1="388.2" y1="791.5" x2="388.2" y2="801.6" stroke="#ff0000" stroke-width="1.2"/>
<line x1="383.6" y1="791.5" x2="392.8" y2="791.5" stroke="#ff0000" stroke-width="1.2"/>
<line x1="383.6" y1="801.6" x2="392.8" y2="801.6" stroke="#ff0000" stroke-width="1.2"/>
<line x1="483.3" y1="800" x2="483.3" y2="812.5" stroke="#ff0000" stroke-width="1.2"/>
<line x1="478.7" y1="800" x2="487.9" y2="800" stroke="#ff0000" stroke-width="1.2"/>
<line x1="478.7" y1="812.5" x2="487.9" y2="812.5" stroke="#ff0000" stroke-width="1.2"/>
<line x1="578.5" y1="804.8" x2="578.5" y2="810.8" stroke="#ff0000" stroke-width="1.2"/>
<line x1="573.9" y1="804.8" x2="583.1" y2="804.8" stroke="#ff0000" stroke-width="1.2"/>
<line x1="573.9" y1="810.8" x2="583.1" y2="810.8" stroke="#ff0000" stroke-width="1.2"/>
<line x1="388.2" y1="889.5" x2="388.2" y2="896.3" stroke="#006400" stroke-width="1.2"/>
<line x1="383.6" y1="889.5" x2="392.8" y2="889.5" stroke="#006400" stroke-width="1.2"/>
<line x1="383.6" y1="896.3" x2="392.8" y2="896.3" stroke="#006400" stroke-width="1.2"/>
<line x1="483.3" y1="889.8" x2="483.3" y2="896" stroke="#006400" stroke-width="1.2"/>
<line x1="478.7" y1="889.8" x2="487.9" y2="889.8" stroke="#006400" stroke-width="1.2"/>
<line x1="478.7" y1="896" x2="487.9" y2="896" stroke="#006400" stroke-width="1.2"/>
<line x1="578.5" y1="882.9" x2="578.5" y2="887.7" stroke="#006400" stroke-width="1.2"/>
<line x1="573.9" y1="882.9" x2="583.1" y2="882.9" stroke="#006400" stroke-width="1.2"/>
<line x1="573.9" y1="887.7" x2="583.1" y2="887.7" stroke="#006400" stroke-width="1.2"/>
<line x1="388.2" y1="859.3" x2="388.2" y2="866.7" stroke="#00008b" stroke-width="1.2"/>
<line x1="383.6" y1="859.3" x2="392.8" y2="859.3" stroke="#00008b" stroke-width="1.2"/>
<line x1="383.6" y1="866.7" x2="392.8" y2="866.7" stroke="#00008b" stroke-width="1.2"/>
<line x1="483.3" y1="860.5" x2="483.3" y2="868.7" stroke="#00008b" stroke-width="1.2"/>
<line x1="478.7" y1="860.5" x2="487.9" y2="860.5" stroke="#00008b" stroke-width="1.2"/>
<line x1="478.7" y1="868.7" x2="487.9" y2="868.7" stroke="#00008b" stroke-width="1.2"/>
<line x1="578.5" y1="865.6" x2="578.5" y2="877.7" stroke="#00008b" stroke-width="1.2"/>
<line x1="573.9" y1="865.6" x2="583.1" y2="865.6" stroke="#00008b" stroke-width="1.2"/>
<line x1="573.9" y1="877.7" x2="583.1" y2="877.7" stroke="#00008b" stroke-width="1.2"/>
<line x1="388.2" y1="868.5" x2="388.2" y2="875.5" stroke="#8b0000" stroke-width="1.2"/>
<line x1="383.6" y1="868.5" x2="392.8" y2="868.5" stroke="#8b0000" stroke-width="1.2"/>
<line x1="383.6" y1="875.5" x2="392.8" y2="875.5" stroke="#8b0000" stroke-width="1.2"/>
<line x1="483.3" y1="845" x2="483.3" y2="868.2" stroke="#8b0000" stroke-width="1.2"/>
<line x1="478.7" y1="845" x2="487.9" y2="845" stroke="#8b0000" stroke-width="1.2"/>
<line x1="478.7" y1="868.2" x2="487.9" y2="868.2" stroke="#8b0000" stroke-width="1.2"/>
<line x1="578.5" y1="878.3" x2="578.5" y2="885" stroke="#8b0000" stroke-width="1.2"/>
<line x1="573.9" y1="878.3" x2="583.1" y2="878.3" stroke="#8b0000" stroke-width="1.2"/>
<line x1="573.9" y1="885" x2="583.1" y2="885" stroke="#8b0000" stroke-width="1.2"/>
<line x1="346.7" y1="757.5" x2="346.7" y2="912" stroke="#000" stroke-width="1"/>
<line x1="346.2" y1="911.5" x2="613" y2="911.5" stroke="#000" stroke-width="1"/>
<line x1="343.7" y1="887.4" x2="346.7" y2="887.4" stroke="#333" stroke-width="0.9"/>
<text x="342.3" y="890.5" font-size="8.7" text-anchor="end" fill="#4d4d4d">−0.2</text>
<line x1="343.7" y1="861.1" x2="346.7" y2="861.1" stroke="#333" stroke-width="0.9"/>
<text x="342.3" y="864.2" font-size="8.7" text-anchor="end" fill="#4d4d4d">−0.1</text>
<line x1="343.7" y1="834.8" x2="346.7" y2="834.8" stroke="#333" stroke-width="0.9"/>
<text x="342.3" y="837.9" font-size="8.7" text-anchor="end" fill="#4d4d4d">0.0</text>
<line x1="343.7" y1="808.5" x2="346.7" y2="808.5" stroke="#333" stroke-width="0.9"/>
<text x="342.3" y="811.6" font-size="8.7" text-anchor="end" fill="#4d4d4d">0.1</text>
<line x1="343.7" y1="782.2" x2="346.7" y2="782.2" stroke="#333" stroke-width="0.9"/>
<text x="342.3" y="785.3" font-size="8.7" text-anchor="end" fill="#4d4d4d">0.2</text>
<line x1="388.2" y1="911.5" x2="388.2" y2="914.5" stroke="#333" stroke-width="0.9"/>
<text x="388.2" y="922.6" font-size="8.5" text-anchor="middle" fill="#4d4d4d">1</text>
<line x1="483.3" y1="911.5" x2="483.3" y2="914.5" stroke="#333" stroke-width="0.9"/>
<text x="483.3" y="922.6" font-size="8.5" text-anchor="middle" fill="#4d4d4d">3</text>
<line x1="578.5" y1="911.5" x2="578.5" y2="914.5" stroke="#333" stroke-width="0.9"/>
<text x="578.5" y="922.6" font-size="8.5" text-anchor="middle" fill="#4d4d4d">5</text>
<text x="483.1" y="934.2" font-size="10.3" text-anchor="middle" textLength="98.2" lengthAdjust="spacingAndGlyphs">Diet duration (month)</text>
<text x="320.9" y="831.3" font-size="11.3" text-anchor="middle" textLength="145" lengthAdjust="spacingAndGlyphs" transform="rotate(-90 320.9 831.3)">Principal component analysis 1</text>
<line x1="625.6" y1="777.5" x2="638.3" y2="777.5" stroke="#00ee00" stroke-width="1.9"/>
<circle cx="631.95" cy="777.5" r="2.5" fill="#00ee00" fill-opacity="0.5"/>
<text x="645.3" y="780.6" font-size="8.9" textLength="21.7" lengthAdjust="spacingAndGlyphs">WT.C</text>
<line x1="625.6" y1="794.04" x2="638.3" y2="794.04" stroke="#87ceeb" stroke-width="1.9"/>
<circle cx="631.95" cy="794.04" r="2.5" fill="#87ceeb" fill-opacity="0.5"/>
<text x="645.3" y="797.14" font-size="8.9" textLength="23.8" lengthAdjust="spacingAndGlyphs">WT.M</text>
<line x1="625.6" y1="810.58" x2="638.3" y2="810.58" stroke="#ff0000" stroke-width="1.9"/>
<circle cx="631.95" cy="810.58" r="2.5" fill="#ff0000" fill-opacity="0.5"/>
<text x="645.3" y="813.68" font-size="8.9" textLength="21.7" lengthAdjust="spacingAndGlyphs">WT.K</text>
<line x1="625.6" y1="827.12" x2="638.3" y2="827.12" stroke="#006400" stroke-width="1.9"/>
<circle cx="631.95" cy="827.12" r="2.5" fill="#006400" fill-opacity="0.5"/>
<text x="645.3" y="830.22" font-size="8.9" textLength="28" lengthAdjust="spacingAndGlyphs">3xTg.C</text>
<line x1="625.6" y1="843.66" x2="638.3" y2="843.66" stroke="#00008b" stroke-width="1.9"/>
<circle cx="631.95" cy="843.66" r="2.5" fill="#00008b" fill-opacity="0.5"/>
<text x="645.3" y="846.76" font-size="8.9" textLength="30" lengthAdjust="spacingAndGlyphs">3xTg.M</text>
<line x1="625.6" y1="860.2" x2="638.3" y2="860.2" stroke="#8b0000" stroke-width="1.9"/>
<circle cx="631.95" cy="860.2" r="2.5" fill="#8b0000" fill-opacity="0.5"/>
<text x="645.3" y="863.3" font-size="8.9" textLength="28" lengthAdjust="spacingAndGlyphs">3xTg.K</text></svg>
</body></html>
